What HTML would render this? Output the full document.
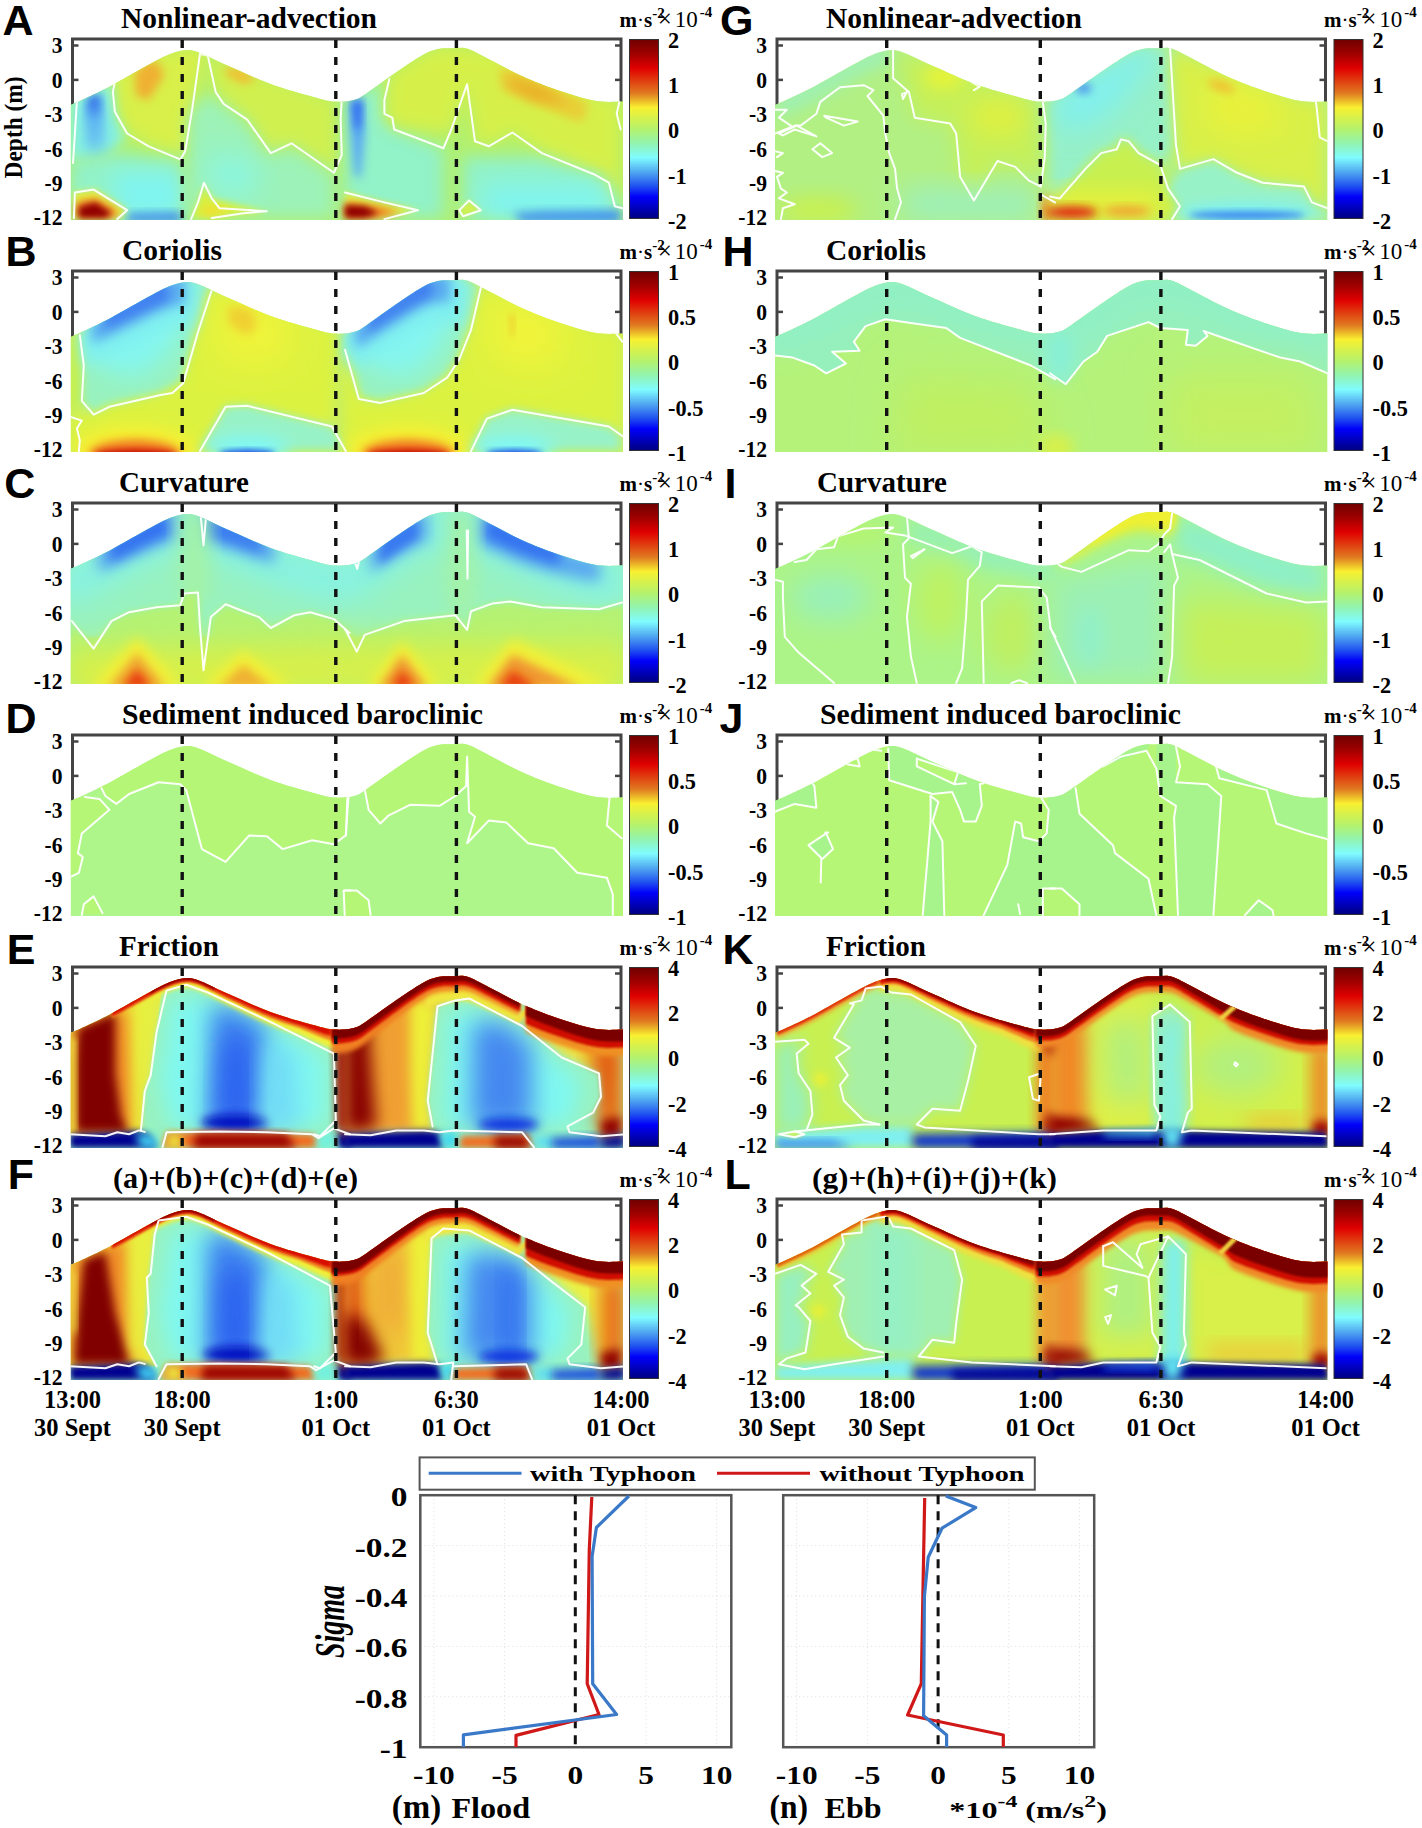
<!DOCTYPE html><html><head><meta charset="utf-8"><style>html,body{margin:0;padding:0;background:#fff;overflow:hidden}svg{display:block}</style></head><body>
<svg width="1422" height="1828" viewBox="0 0 1422 1828">
<defs>
<linearGradient id="jet" x1="0" y1="0" x2="0" y2="1"><stop offset="0.000" stop-color="#700000"/><stop offset="0.080" stop-color="#a00000"/><stop offset="0.160" stop-color="#e00000"/><stop offset="0.300" stop-color="#e07a20"/><stop offset="0.380" stop-color="#f8f030"/><stop offset="0.500" stop-color="#b4f26a"/><stop offset="0.580" stop-color="#92f4b0"/><stop offset="0.660" stop-color="#80fcff"/><stop offset="0.740" stop-color="#50a8f0"/><stop offset="0.820" stop-color="#2050f0"/><stop offset="0.880" stop-color="#0000fa"/><stop offset="1.000" stop-color="#000080"/></linearGradient>
<clipPath id="wave"><path d="M-2.0,66.0 C1.5,64.4 12.0,59.8 19.0,56.5 C26.0,53.2 31.2,50.8 40.0,46.0 C48.8,41.2 63.2,32.8 72.0,28.0 C80.8,23.2 86.7,19.8 93.0,17.0 C99.3,14.2 104.7,12.2 110.0,11.5 C115.3,10.8 117.3,10.4 125.0,13.0 C132.7,15.6 143.8,21.7 156.0,27.0 C168.2,32.3 183.8,39.8 198.0,45.0 C212.2,50.2 230.3,55.1 241.0,58.0 C251.7,60.9 255.0,62.2 262.0,62.6 C269.0,63.0 276.7,62.6 283.0,60.5 C289.3,58.4 292.7,54.9 300.0,50.0 C307.3,45.1 318.3,36.8 327.0,31.0 C335.7,25.2 345.3,18.5 352.0,15.0 C358.7,11.5 362.2,10.8 367.0,9.8 C371.8,8.9 376.3,9.3 381.0,9.3 C385.7,9.3 389.2,8.0 395.0,9.8 C400.8,11.6 407.3,15.6 416.0,20.0 C424.7,24.4 436.5,31.2 447.0,36.0 C457.5,40.8 466.7,44.7 479.0,49.0 C491.3,53.3 509.1,59.3 521.0,61.6 C532.9,63.9 545.6,62.4 550.5,62.6 L550.5,181.0 L-2,181.0 Z"/></clipPath>
<filter id="b1" x="-50%" y="-50%" width="200%" height="200%"><feGaussianBlur stdDeviation="1"/></filter>
<filter id="b2" x="-50%" y="-50%" width="200%" height="200%"><feGaussianBlur stdDeviation="2"/></filter>
<filter id="b3" x="-50%" y="-50%" width="200%" height="200%"><feGaussianBlur stdDeviation="3"/></filter>
<filter id="b4" x="-50%" y="-50%" width="200%" height="200%"><feGaussianBlur stdDeviation="4"/></filter>
<filter id="b5" x="-50%" y="-50%" width="200%" height="200%"><feGaussianBlur stdDeviation="5"/></filter>
<filter id="b6" x="-50%" y="-50%" width="200%" height="200%"><feGaussianBlur stdDeviation="6"/></filter>
<filter id="b7" x="-50%" y="-50%" width="200%" height="200%"><feGaussianBlur stdDeviation="7"/></filter>
<filter id="b8" x="-50%" y="-50%" width="200%" height="200%"><feGaussianBlur stdDeviation="8"/></filter>
<filter id="b9" x="-50%" y="-50%" width="200%" height="200%"><feGaussianBlur stdDeviation="9"/></filter>
<filter id="b10" x="-50%" y="-50%" width="200%" height="200%"><feGaussianBlur stdDeviation="10"/></filter>
<filter id="b11" x="-50%" y="-50%" width="200%" height="200%"><feGaussianBlur stdDeviation="11"/></filter>
<filter id="b12" x="-50%" y="-50%" width="200%" height="200%"><feGaussianBlur stdDeviation="12"/></filter>
<filter id="b13" x="-50%" y="-50%" width="200%" height="200%"><feGaussianBlur stdDeviation="13"/></filter>
<filter id="b14" x="-50%" y="-50%" width="200%" height="200%"><feGaussianBlur stdDeviation="14"/></filter>
<filter id="b15" x="-50%" y="-50%" width="200%" height="200%"><feGaussianBlur stdDeviation="15"/></filter>
<filter id="b16" x="-50%" y="-50%" width="200%" height="200%"><feGaussianBlur stdDeviation="16"/></filter>
<filter id="b17" x="-50%" y="-50%" width="200%" height="200%"><feGaussianBlur stdDeviation="17"/></filter>
<filter id="b18" x="-50%" y="-50%" width="200%" height="200%"><feGaussianBlur stdDeviation="18"/></filter>
<filter id="b19" x="-50%" y="-50%" width="200%" height="200%"><feGaussianBlur stdDeviation="19"/></filter>
<filter id="b20" x="-50%" y="-50%" width="200%" height="200%"><feGaussianBlur stdDeviation="20"/></filter>
</defs>
<rect width="1422" height="1828" fill="#fff"/>
<g transform="translate(72.5,39.0)">
<path d="M0,180.5 L0,0 L548.5,0 L548.5,180.5" fill="none" stroke="#444" stroke-width="3"/>
<line x1="0" y1="6.5" x2="6" y2="6.5" stroke="#444" stroke-width="2.5"/>
<line x1="542.5" y1="6.5" x2="548.5" y2="6.5" stroke="#444" stroke-width="2.5"/>
<line x1="0" y1="40.9" x2="6" y2="40.9" stroke="#444" stroke-width="2.5"/>
<line x1="542.5" y1="40.9" x2="548.5" y2="40.9" stroke="#444" stroke-width="2.5"/>
<line x1="0" y1="75.3" x2="6" y2="75.3" stroke="#444" stroke-width="2.5"/>
<line x1="542.5" y1="75.3" x2="548.5" y2="75.3" stroke="#444" stroke-width="2.5"/>
<line x1="0" y1="109.7" x2="6" y2="109.7" stroke="#444" stroke-width="2.5"/>
<line x1="542.5" y1="109.7" x2="548.5" y2="109.7" stroke="#444" stroke-width="2.5"/>
<line x1="0" y1="144.1" x2="6" y2="144.1" stroke="#444" stroke-width="2.5"/>
<line x1="542.5" y1="144.1" x2="548.5" y2="144.1" stroke="#444" stroke-width="2.5"/>
<line x1="0" y1="178.5" x2="6" y2="178.5" stroke="#444" stroke-width="2.5"/>
<line x1="542.5" y1="178.5" x2="548.5" y2="178.5" stroke="#444" stroke-width="2.5"/>
<g clip-path="url(#wave)">
<rect x="-2" y="-1" width="552.5" height="182.0" fill="#b0f070"/>
<g transform="translate(-72.5,-39.0)">
<polygon points="113.3,64.5 180.3,46.8 207.8,46.8 196.0,94.1 188.1,157.1 148.8,145.3 125.1,131.5 113.3,100.0" fill="#d8f048" filter="url(#b8)"/>
<polygon points="207.8,54.7 266.9,74.4 335.8,100.0 337.8,172.8 290.5,145.3 268.9,153.1 247.2,119.7 221.6,101.9 211.8,84.2" fill="#d0f050" filter="url(#b8)"/>
<polygon points="135.0,70.4 154.7,58.6 164.5,74.4 148.8,100.0 136.0,96.0" fill="#f0b030" filter="url(#b5)"/>
<polygon points="225.6,66.5 243.3,69.5 257.1,79.3 243.3,84.2 226.5,75.4" fill="#f0c030" filter="url(#b4)"/>
<polygon points="70.0,100.0 111.4,82.3 115.3,117.7 125.1,137.4 109.4,153.1 70.0,161.0" fill="#88f4e0" filter="url(#b6)"/>
<polygon points="87.7,100.0 100.5,94.1 99.5,117.7 95.6,145.3 92.6,145.3 89.7,119.7" fill="#4a90f0" filter="url(#b6)"/>
<polygon points="88.7,100.0 99.5,95.1 97.6,113.8 93.6,117.7 90.7,113.8" fill="#1a48e0" filter="url(#b4)"/>
<polygon points="83.8,101.9 103.5,100.0 105.4,145.3 97.6,161.0 87.7,153.1" fill="#60b8f8" fill-opacity="0.70" filter="url(#b8)"/>
<polygon points="70.0,161.0 119.2,153.1 180.3,161.0 184.2,218.1 70.0,218.1" fill="#92f2c8" filter="url(#b8)"/>
<polygon points="109.4,172.8 180.3,172.8 180.3,218.1 125.1,218.1" fill="#80f4f0" filter="url(#b10)"/>
<polygon points="129.1,213.2 180.3,212.2 184.2,222.1 125.1,222.1" fill="#3c8cf0" filter="url(#b5)"/>
<polygon points="188.1,113.8 207.8,94.1 247.2,123.6 266.9,157.1 290.5,147.2 333.9,174.8 333.9,218.1 188.1,218.1" fill="#9cf2b8" filter="url(#b8)"/>
<polygon points="207.8,153.1 257.1,163.0 257.1,192.5 211.8,192.5" fill="#88f6e8" filter="url(#b15)"/>
<polygon points="73.9,192.5 95.6,189.6 127.1,210.2 119.2,218.1 73.9,218.1" fill="#e6f040" filter="url(#b3)"/>
<polygon points="75.9,202.4 95.6,198.4 119.2,212.2 113.3,218.1 75.9,218.1" fill="#f07020" filter="url(#b4)"/>
<polygon points="78.9,207.3 95.6,202.4 111.4,213.2 105.4,218.1 78.9,218.1" fill="#900000" filter="url(#b3)"/>
<polygon points="192.1,218.1 203.9,184.6 211.8,198.4 266.9,212.2 207.8,218.1" fill="#d8f040" filter="url(#b3)"/>
<polygon points="200.0,212.2 207.8,204.3 231.5,212.2 207.8,217.1" fill="#f0e030" filter="url(#b4)"/>
<polygon points="345.0,100.0 384.4,82.3 384.4,117.7 392.3,127.5 443.5,149.2 443.5,218.1 345.0,218.1" fill="#92f2c8" filter="url(#b8)"/>
<polygon points="348.9,100.0 362.7,98.0 364.7,133.5 360.8,176.8 354.8,176.8 350.9,133.5" fill="#58a8f4" filter="url(#b5)"/>
<polygon points="352.9,101.9 361.7,100.0 360.8,123.6 357.8,133.5 354.8,123.6" fill="#2a60f0" filter="url(#b4)"/>
<polygon points="388.3,74.4 433.6,46.8 467.1,46.8 522.2,58.6 601.0,96.0 620.7,98.0 620.7,208.3 608.9,184.6 595.1,172.8 541.9,153.1 512.4,131.5 488.7,145.3 475.0,141.3 467.1,84.2 451.3,133.5 392.3,125.6 384.4,113.8" fill="#d6f048" filter="url(#b8)"/>
<polygon points="498.6,68.5 518.3,70.4 587.2,101.9 585.2,119.7 577.3,121.6 502.5,90.1" fill="#e8d038" filter="url(#b5)"/>
<polygon points="508.4,76.4 541.9,86.2 571.4,105.9 532.1,100.0 508.4,86.2" fill="#eab028" filter="url(#b6)"/>
<polygon points="463.1,157.1 541.9,157.1 601.0,176.8 620.7,212.2 620.7,218.1 463.1,218.1" fill="#92f2c8" filter="url(#b8)"/>
<polygon points="482.8,184.6 601.0,184.6 616.7,218.1 482.8,218.1" fill="#80f4f0" filter="url(#b12)"/>
<polygon points="512.4,213.2 541.9,211.2 620.7,210.2 620.7,222.1 522.2,222.1" fill="#4090f0" filter="url(#b5)"/>
<polygon points="345.0,192.5 384.4,202.4 417.9,210.2 384.4,218.1 345.0,218.1" fill="#e4f040" filter="url(#b3)"/>
<polygon points="345.0,202.4 374.5,206.3 402.1,212.2 374.5,218.1 345.0,218.1" fill="#f07020" filter="url(#b4)"/>
<polygon points="345.0,205.3 364.7,206.3 378.5,213.2 364.7,218.1 345.0,218.1" fill="#900000" filter="url(#b3)"/>
<polygon points="459.2,210.2 469.1,200.4 480.9,210.2 463.1,216.2" fill="#d0f050" filter="url(#b2)"/>
<path d="M115.7,77.3 L112.9,92.1 L114.9,111.8 L127.1,133.5 L148.8,146.3 L180.3,159.4 L185.2,151.2 L192.1,109.8 L200.0,53.7 L207.8,55.7 L215.7,92.1 L223.6,103.9 L247.2,119.7 L270.8,153.1 L291.5,143.3 L333.9,172.8 L341.7,155.1 L340.7,117.7 L341.7,100.0" fill="none" stroke="#fff" stroke-width="2.0" stroke-linejoin="round" stroke-linecap="round" stroke-opacity="0.95"/>
<path d="M73.9,218.1 L74.9,192.5 L93.6,189.6 L127.1,210.2 L117.3,219.1" fill="none" stroke="#fff" stroke-width="2.0" stroke-linejoin="round" stroke-linecap="round" stroke-opacity="0.95"/>
<path d="M191.1,219.1 L198.0,202.4 L203.9,182.7 L211.8,198.4 L219.6,208.3 L266.9,211.2 L243.3,213.2 L211.8,218.1" fill="none" stroke="#fff" stroke-width="2.0" stroke-linejoin="round" stroke-linecap="round" stroke-opacity="0.95"/>
<path d="M76.9,101.0 L74.9,133.5 L73.0,163.0" fill="none" stroke="#fff" stroke-width="2.0" stroke-linejoin="round" stroke-linecap="round" stroke-opacity="0.95"/>
<path d="M389.3,79.3 L384.4,100.0 L384.4,113.8 L392.3,117.7 L394.2,129.5 L443.5,148.2 L451.3,129.5 L467.1,84.2 L475.0,141.3 L488.7,146.3 L512.4,132.5 L541.9,153.1 L595.1,174.8 L608.9,182.7 L614.8,206.3 L622.6,208.3" fill="none" stroke="#fff" stroke-width="2.0" stroke-linejoin="round" stroke-linecap="round" stroke-opacity="0.95"/>
<path d="M619.7,100.0 L616.7,113.8 L620.7,129.5" fill="none" stroke="#fff" stroke-width="2.0" stroke-linejoin="round" stroke-linecap="round" stroke-opacity="0.95"/>
<path d="M345.0,192.5 L384.4,202.4 L417.9,210.2 L384.4,219.1" fill="none" stroke="#fff" stroke-width="2.0" stroke-linejoin="round" stroke-linecap="round" stroke-opacity="0.95"/>
<path d="M459.2,210.2 L469.1,200.4 L480.9,210.2 L463.1,216.2 L459.2,210.2" fill="none" stroke="#fff" stroke-width="2.0" stroke-linejoin="round" stroke-linecap="round" stroke-opacity="0.95"/>
</g>
</g>
<line x1="109.7" y1="1" x2="109.7" y2="180.5" stroke="#111" stroke-width="3.4" stroke-dasharray="8,9"/>
<line x1="263.3" y1="1" x2="263.3" y2="180.5" stroke="#111" stroke-width="3.4" stroke-dasharray="8,9"/>
<line x1="383.9" y1="1" x2="383.9" y2="180.5" stroke="#111" stroke-width="3.4" stroke-dasharray="8,9"/>
<text transform="translate(-10.0,14.3) scale(0.920,1)" font-family='"Liberation Serif", serif' font-size="23.5" font-weight="bold" text-anchor="end" >3</text>
<text transform="translate(-10.0,48.7) scale(0.920,1)" font-family='"Liberation Serif", serif' font-size="23.5" font-weight="bold" text-anchor="end" >0</text>
<text transform="translate(-10.0,83.1) scale(0.920,1)" font-family='"Liberation Serif", serif' font-size="23.5" font-weight="bold" text-anchor="end" >-3</text>
<text transform="translate(-10.0,117.5) scale(0.920,1)" font-family='"Liberation Serif", serif' font-size="23.5" font-weight="bold" text-anchor="end" >-6</text>
<text transform="translate(-10.0,151.9) scale(0.920,1)" font-family='"Liberation Serif", serif' font-size="23.5" font-weight="bold" text-anchor="end" >-9</text>
<text transform="translate(-10.0,186.3) scale(0.920,1)" font-family='"Liberation Serif", serif' font-size="23.5" font-weight="bold" text-anchor="end" >-12</text>
<rect x="557.0" y="0.5" width="29" height="179" fill="url(#jet)" stroke="#333" stroke-width="1"/>
<text transform="translate(595.5,9.0) scale(0.950,1)" font-family='"Liberation Serif", serif' font-size="23.5" font-weight="bold" text-anchor="start" >2</text>
<text transform="translate(595.5,54.2) scale(0.950,1)" font-family='"Liberation Serif", serif' font-size="23.5" font-weight="bold" text-anchor="start" >1</text>
<text transform="translate(595.5,99.4) scale(0.950,1)" font-family='"Liberation Serif", serif' font-size="23.5" font-weight="bold" text-anchor="start" >0</text>
<text transform="translate(595.5,144.6) scale(0.950,1)" font-family='"Liberation Serif", serif' font-size="23.5" font-weight="bold" text-anchor="start" >-1</text>
<text transform="translate(595.5,189.8) scale(0.950,1)" font-family='"Liberation Serif", serif' font-size="23.5" font-weight="bold" text-anchor="start" >-2</text>
<text x="547.0" y="-12" font-family='"Liberation Serif", serif' font-size="21" font-weight="bold">m<tspan font-weight="normal">&#183;</tspan>s<tspan dy="-9" font-size="15">-2</tspan><tspan dy="9" dx="-7" font-weight="normal" font-size="25">&#215;</tspan><tspan dx="3" font-size="23" font-weight="normal">10</tspan><tspan dy="-10" dx="2" font-size="15" font-weight="bold">-4</tspan></text>
<text x="-70.0" y="-4.0" font-family='"Liberation Sans", sans-serif' font-size="43" font-weight="bold">A</text>
<text x="48.5" y="-11.2" font-family='"Liberation Serif", serif' font-size="29" font-weight="bold" textLength="256.0" lengthAdjust="spacingAndGlyphs">Nonlinear-advection</text>
</g>
<g transform="translate(72.5,271.0)">
<path d="M0,180.5 L0,0 L548.5,0 L548.5,180.5" fill="none" stroke="#444" stroke-width="3"/>
<line x1="0" y1="6.5" x2="6" y2="6.5" stroke="#444" stroke-width="2.5"/>
<line x1="542.5" y1="6.5" x2="548.5" y2="6.5" stroke="#444" stroke-width="2.5"/>
<line x1="0" y1="40.9" x2="6" y2="40.9" stroke="#444" stroke-width="2.5"/>
<line x1="542.5" y1="40.9" x2="548.5" y2="40.9" stroke="#444" stroke-width="2.5"/>
<line x1="0" y1="75.3" x2="6" y2="75.3" stroke="#444" stroke-width="2.5"/>
<line x1="542.5" y1="75.3" x2="548.5" y2="75.3" stroke="#444" stroke-width="2.5"/>
<line x1="0" y1="109.7" x2="6" y2="109.7" stroke="#444" stroke-width="2.5"/>
<line x1="542.5" y1="109.7" x2="548.5" y2="109.7" stroke="#444" stroke-width="2.5"/>
<line x1="0" y1="144.1" x2="6" y2="144.1" stroke="#444" stroke-width="2.5"/>
<line x1="542.5" y1="144.1" x2="548.5" y2="144.1" stroke="#444" stroke-width="2.5"/>
<line x1="0" y1="178.5" x2="6" y2="178.5" stroke="#444" stroke-width="2.5"/>
<line x1="542.5" y1="178.5" x2="548.5" y2="178.5" stroke="#444" stroke-width="2.5"/>
<g clip-path="url(#wave)">
<rect x="-2" y="-1" width="552.5" height="182.0" fill="#c8f060"/>
<g transform="translate(-72.5,-271.0)">
<polygon points="70.0,333.9 79.8,333.9 82.8,365.5 81.8,400.9 70.0,416.6" fill="#c4f050" filter="url(#b4)"/>
<polygon points="79.8,333.9 180.3,278.8 209.8,286.7 198.0,332.0 183.2,383.2 160.6,395.0 109.4,406.8 93.6,414.7 81.8,400.9 82.8,365.5" fill="#98f2c0" filter="url(#b4)"/>
<polygon points="85.8,330.0 180.3,280.8 196.0,290.6 172.4,349.7 138.9,377.3 105.4,369.4 89.7,355.6" fill="#84f6f0" filter="url(#b12)"/>
<polygon points="85.0,324.5 88.2,323.0 91.5,321.5 94.8,320.0 98.0,318.4 101.2,316.8 104.5,315.2 107.8,313.5 111.0,311.8 114.2,310.0 117.5,308.3 120.8,306.4 124.0,304.6 127.2,302.7 130.5,300.9 133.8,299.0 137.0,297.2 140.2,295.4 143.5,293.6 146.8,291.8 150.0,290.0 153.2,288.2 156.5,286.4 159.8,284.7 163.0,283.1 166.2,281.7 169.5,280.3 172.8,279.0 176.0,277.9 179.2,277.1 182.5,276.5 185.8,276.1 189.0,276.0 192.2,276.5 195.5,277.4 198.8,278.5 202.0,279.7 205.2,281.1 208.5,282.6 211.8,284.2 215.0,285.7 215.0,335.7 211.8,333.9 208.5,332.1 205.2,330.4 202.0,328.7 198.8,327.2 195.5,325.9 192.2,324.7 189.0,324.0 185.8,323.9 182.5,324.0 179.2,324.3 176.0,324.9 172.8,325.8 169.5,326.8 166.2,327.9 163.0,329.1 159.8,330.5 156.5,331.9 153.2,333.4 150.0,335.0 146.8,336.5 143.5,338.1 140.2,339.6 137.0,341.2 133.8,342.8 130.5,344.4 127.2,346.0 124.0,347.6 120.8,349.2 117.5,350.8 114.2,352.3 111.0,353.8 107.8,355.3 104.5,356.7 101.2,358.1 98.0,359.4 94.8,360.7 91.5,362.0 88.2,363.3 85.0,364.5" fill="#80f0f0" filter="url(#b8)"/>
<polygon points="92.0,321.3 94.3,320.2 96.7,319.0 99.0,317.9 101.3,316.8 103.6,315.6 106.0,314.4 108.3,313.2 110.6,312.0 112.9,310.8 115.2,309.5 117.6,308.2 119.9,306.9 122.2,305.6 124.5,304.3 126.9,303.0 129.2,301.6 131.5,300.3 133.8,299.0 136.2,297.7 138.5,296.3 140.8,295.0 143.2,293.7 145.5,292.5 147.8,291.2 150.1,289.9 152.4,288.6 154.8,287.3 157.1,286.1 159.4,284.9 161.8,283.7 164.1,282.6 166.4,281.6 168.7,280.6 171.1,279.7 173.4,278.8 175.7,278.0 178.0,277.4 180.3,276.8 182.7,276.5 185.0,276.2 185.0,304.2 182.7,304.3 180.3,304.5 178.0,304.9 175.7,305.4 173.4,306.1 171.1,306.8 168.7,307.6 166.4,308.4 164.1,309.3 161.8,310.2 159.4,311.2 157.1,312.3 154.8,313.4 152.4,314.5 150.1,315.7 147.8,316.8 145.5,317.9 143.2,319.0 140.8,320.2 138.5,321.3 136.2,322.5 133.8,323.7 131.5,324.9 129.2,326.0 126.9,327.2 124.5,328.4 122.2,329.5 119.9,330.7 117.6,331.9 115.2,333.0 112.9,334.1 110.6,335.2 108.3,336.3 106.0,337.3 103.6,338.4 101.3,339.4 99.0,340.4 96.7,341.3 94.3,342.3 92.0,343.3" fill="#58a8f0" filter="url(#b6)"/>
<polygon points="105.0,314.9 106.6,314.1 108.2,313.3 109.7,312.5 111.3,311.6 112.9,310.8 114.5,309.9 116.0,309.1 117.6,308.2 119.2,307.3 120.8,306.4 122.3,305.5 123.9,304.6 125.5,303.8 127.0,302.9 128.6,302.0 130.2,301.1 131.8,300.2 133.3,299.3 134.9,298.4 136.5,297.5 138.1,296.6 139.7,295.7 141.2,294.8 142.8,293.9 144.4,293.1 145.9,292.2 147.5,291.3 149.1,290.5 150.7,289.6 152.2,288.7 153.8,287.9 155.4,287.0 157.0,286.2 158.6,285.3 160.1,284.5 161.7,283.8 163.3,283.0 164.8,282.3 166.4,281.6 168.0,280.9 168.0,300.9 166.4,301.5 164.8,302.0 163.3,302.6 161.7,303.2 160.1,303.8 158.6,304.4 157.0,305.1 155.4,305.8 153.8,306.5 152.2,307.2 150.7,307.9 149.1,308.7 147.5,309.4 145.9,310.1 144.4,310.8 142.8,311.5 141.2,312.3 139.7,313.0 138.1,313.7 136.5,314.5 134.9,315.2 133.3,316.0 131.8,316.7 130.2,317.5 128.6,318.2 127.0,319.0 125.5,319.7 123.9,320.4 122.3,321.2 120.8,321.9 119.2,322.7 117.6,323.4 116.0,324.1 114.5,324.8 112.9,325.5 111.3,326.2 109.7,326.9 108.2,327.6 106.6,328.3 105.0,328.9" fill="#4080f0" filter="url(#b5)"/>
<polygon points="207.8,286.7 337.8,332.0 331.9,426.5 247.2,405.8 225.6,406.8 200.0,450.1 70.0,450.1 70.0,416.6 93.6,414.7 109.4,406.8 160.6,395.0 183.2,383.2 198.0,332.0" fill="#dcf240" filter="url(#b6)"/>
<polygon points="219.6,296.5 286.6,310.3 286.6,361.5 223.6,361.5" fill="#f4f438" filter="url(#b20)"/>
<polygon points="227.5,306.4 251.2,308.4 257.1,326.1 247.2,335.9 229.5,324.1" fill="#f0d030" filter="url(#b5)"/>
<ellipse cx="135.0" cy="452.1" rx="62.0" ry="26.0" fill="#f8f030" filter="url(#b8)"/>
<ellipse cx="135.0" cy="454.1" rx="46.0" ry="14.0" fill="#f07020" filter="url(#b5)"/>
<ellipse cx="135.0" cy="455.0" rx="40.0" ry="5.0" fill="#c00000" filter="url(#b3)"/>
<polygon points="200.0,450.1 225.6,406.8 247.2,405.8 331.9,426.5 345.7,450.1" fill="#98f2c8" filter="url(#b4)"/>
<ellipse cx="249.2" cy="450.1" rx="40.0" ry="14.0" fill="#80f8f8" filter="url(#b8)"/>
<ellipse cx="247.2" cy="454.1" rx="28.0" ry="4.0" fill="#1030e0" filter="url(#b3)"/>
<polygon points="345.0,332.0 356.8,330.0 443.5,278.8 480.9,286.7 471.0,330.0 459.2,359.5 447.4,377.3 423.8,393.0 380.4,402.9 358.8,398.9 345.0,349.7" fill="#98f2c0" filter="url(#b4)"/>
<polygon points="356.8,330.0 443.5,280.8 463.1,288.7 439.5,349.7 408.0,377.3 374.5,369.4 356.8,349.7" fill="#84f6f0" filter="url(#b12)"/>
<polygon points="345.0,327.5 348.1,327.2 351.2,326.6 354.4,325.8 357.5,324.7 360.6,323.2 363.8,321.2 366.9,319.0 370.0,316.7 373.1,314.6 376.2,312.4 379.4,310.2 382.5,308.0 385.6,305.8 388.8,303.5 391.9,301.3 395.0,299.1 398.1,296.9 401.2,294.8 404.4,292.7 407.5,290.6 410.6,288.5 413.8,286.5 416.9,284.5 420.0,282.6 423.1,280.8 426.2,279.1 429.4,277.7 432.5,276.5 435.6,275.6 438.8,274.9 441.9,274.4 445.0,274.2 448.1,274.2 451.2,274.3 454.4,274.3 457.5,274.1 460.6,273.9 463.8,274.0 466.9,274.6 470.0,275.7 470.0,325.7 466.9,324.4 463.8,323.5 460.6,323.1 457.5,323.1 454.4,323.0 451.2,322.8 448.1,322.5 445.0,322.2 441.9,322.2 438.8,322.4 435.6,322.9 432.5,323.5 429.4,324.4 426.2,325.6 423.1,327.0 420.0,328.6 416.9,330.2 413.8,332.0 410.6,333.8 407.5,335.6 404.4,337.5 401.2,339.3 398.1,341.2 395.0,343.1 391.9,345.0 388.8,347.0 385.6,349.0 382.5,351.0 379.4,353.0 376.2,354.9 373.1,356.8 370.0,358.7 366.9,360.7 363.8,362.7 360.6,364.4 357.5,365.7 354.4,366.6 351.2,367.1 348.1,367.4 345.0,367.5" fill="#80f0f0" filter="url(#b8)"/>
<polygon points="355.0,325.7 357.4,324.8 359.8,323.7 362.1,322.3 364.5,320.7 366.9,319.0 369.2,317.3 371.6,315.6 374.0,314.0 376.4,312.3 378.8,310.7 381.1,309.0 383.5,307.3 385.9,305.6 388.2,303.9 390.6,302.2 393.0,300.5 395.4,298.8 397.8,297.2 400.1,295.6 402.5,294.0 404.9,292.4 407.2,290.8 409.6,289.2 412.0,287.6 414.4,286.1 416.8,284.6 419.1,283.1 421.5,281.7 423.9,280.3 426.2,279.1 428.6,278.0 431.0,277.0 433.4,276.2 435.8,275.6 438.1,275.1 440.5,274.6 442.9,274.3 445.2,274.2 447.6,274.2 450.0,274.2 450.0,302.2 447.6,302.0 445.2,301.9 442.9,301.9 440.5,302.0 438.1,302.3 435.8,302.7 433.4,303.2 431.0,303.8 428.6,304.6 426.2,305.6 423.9,306.7 421.5,307.9 419.1,309.1 416.8,310.5 414.4,311.8 412.0,313.2 409.6,314.6 407.2,316.1 404.9,317.5 402.5,319.0 400.1,320.4 397.8,321.9 395.4,323.4 393.0,324.9 390.6,326.4 388.2,328.0 385.9,329.5 383.5,331.1 381.1,332.6 378.8,334.2 376.4,335.7 374.0,337.2 371.6,338.6 369.2,340.2 366.9,341.7 364.5,343.3 362.1,344.7 359.8,346.0 357.4,346.9 355.0,347.7" fill="#58a8f0" filter="url(#b6)"/>
<polygon points="368.0,318.2 369.6,317.0 371.2,315.9 372.8,314.8 374.4,313.7 376.0,312.6 377.6,311.5 379.2,310.3 380.8,309.2 382.4,308.1 384.0,306.9 385.6,305.8 387.2,304.6 388.8,303.5 390.4,302.3 392.0,301.2 393.6,300.1 395.2,299.0 396.8,297.8 398.4,296.7 400.0,295.7 401.6,294.6 403.2,293.5 404.8,292.4 406.4,291.4 408.0,290.3 409.6,289.2 411.2,288.2 412.8,287.1 414.4,286.1 416.0,285.0 417.6,284.0 419.2,283.1 420.8,282.1 422.4,281.2 424.0,280.3 425.6,279.4 427.2,278.6 428.8,277.9 430.4,277.2 432.0,276.7 432.0,296.7 430.4,297.1 428.8,297.6 427.2,298.2 425.6,298.8 424.0,299.5 422.4,300.3 420.8,301.0 419.2,301.9 417.6,302.7 416.0,303.5 414.4,304.4 412.8,305.3 411.2,306.2 409.6,307.1 408.0,308.0 406.4,309.0 404.8,309.9 403.2,310.8 401.6,311.7 400.0,312.7 398.4,313.6 396.8,314.5 395.2,315.5 393.6,316.5 392.0,317.5 390.4,318.4 388.8,319.4 387.2,320.4 385.6,321.4 384.0,322.4 382.4,323.4 380.8,324.4 379.2,325.4 377.6,326.4 376.0,327.3 374.4,328.3 372.8,329.2 371.2,330.2 369.6,331.2 368.0,332.2" fill="#4080f0" filter="url(#b5)"/>
<polygon points="480.9,286.7 601.0,332.0 620.7,332.0 620.7,436.3 608.9,426.5 512.4,409.8 486.8,418.6 471.0,450.1 345.0,450.1 345.0,349.7 358.8,398.9 380.4,402.9 423.8,393.0 447.4,377.3 459.2,359.5 471.0,330.0" fill="#dcf240" filter="url(#b6)"/>
<polygon points="492.7,296.5 561.6,316.2 561.6,365.5 494.6,361.5" fill="#f4f438" filter="url(#b20)"/>
<polygon points="509.4,314.3 514.3,314.3 514.3,335.9 510.4,335.9" fill="#f0d030" filter="url(#b3)"/>
<ellipse cx="408.0" cy="452.1" rx="62.0" ry="26.0" fill="#f8f030" filter="url(#b8)"/>
<ellipse cx="408.0" cy="454.1" rx="46.0" ry="14.0" fill="#f07020" filter="url(#b5)"/>
<ellipse cx="408.0" cy="455.0" rx="40.0" ry="5.0" fill="#c00000" filter="url(#b3)"/>
<polygon points="471.0,450.1 486.8,418.6 512.4,409.8 608.9,426.5 620.7,436.3 620.7,450.1" fill="#98f2c8" filter="url(#b4)"/>
<ellipse cx="514.3" cy="450.1" rx="40.0" ry="14.0" fill="#80f8f8" filter="url(#b8)"/>
<ellipse cx="514.3" cy="454.1" rx="28.0" ry="4.0" fill="#1030e0" filter="url(#b3)"/>
<path d="M79.8,334.9 L83.8,365.5 L81.8,400.9 L93.6,414.7 L109.4,406.8 L160.6,395.0 L172.4,393.0 L183.2,383.2 L198.0,332.0 L212.2,288.7" fill="none" stroke="#fff" stroke-width="2.0" stroke-linejoin="round" stroke-linecap="round" stroke-opacity="0.95"/>
<path d="M70.0,416.6 L81.8,420.6 L76.9,428.5 L79.8,440.3 L78.9,451.1" fill="none" stroke="#fff" stroke-width="2.0" stroke-linejoin="round" stroke-linecap="round" stroke-opacity="0.95"/>
<path d="M200.0,451.1 L225.6,406.8 L247.2,405.8 L331.9,426.5 L345.7,451.1" fill="none" stroke="#fff" stroke-width="2.0" stroke-linejoin="round" stroke-linecap="round" stroke-opacity="0.95"/>
<path d="M345.0,349.7 L358.8,398.9 L380.4,402.9 L423.8,393.0 L447.4,377.3 L459.2,359.5 L471.0,330.0 L481.3,285.7" fill="none" stroke="#fff" stroke-width="2.0" stroke-linejoin="round" stroke-linecap="round" stroke-opacity="0.95"/>
<path d="M471.0,451.1 L486.8,418.6 L512.4,409.8 L608.9,426.5 L622.6,436.3" fill="none" stroke="#fff" stroke-width="2.0" stroke-linejoin="round" stroke-linecap="round" stroke-opacity="0.95"/>
<path d="M614.8,332.0 L622.6,341.8" fill="none" stroke="#fff" stroke-width="2.0" stroke-linejoin="round" stroke-linecap="round" stroke-opacity="0.95"/>
</g>
</g>
<line x1="109.7" y1="1" x2="109.7" y2="180.5" stroke="#111" stroke-width="3.4" stroke-dasharray="8,9"/>
<line x1="263.3" y1="1" x2="263.3" y2="180.5" stroke="#111" stroke-width="3.4" stroke-dasharray="8,9"/>
<line x1="383.9" y1="1" x2="383.9" y2="180.5" stroke="#111" stroke-width="3.4" stroke-dasharray="8,9"/>
<text transform="translate(-10.0,14.3) scale(0.920,1)" font-family='"Liberation Serif", serif' font-size="23.5" font-weight="bold" text-anchor="end" >3</text>
<text transform="translate(-10.0,48.7) scale(0.920,1)" font-family='"Liberation Serif", serif' font-size="23.5" font-weight="bold" text-anchor="end" >0</text>
<text transform="translate(-10.0,83.1) scale(0.920,1)" font-family='"Liberation Serif", serif' font-size="23.5" font-weight="bold" text-anchor="end" >-3</text>
<text transform="translate(-10.0,117.5) scale(0.920,1)" font-family='"Liberation Serif", serif' font-size="23.5" font-weight="bold" text-anchor="end" >-6</text>
<text transform="translate(-10.0,151.9) scale(0.920,1)" font-family='"Liberation Serif", serif' font-size="23.5" font-weight="bold" text-anchor="end" >-9</text>
<text transform="translate(-10.0,186.3) scale(0.920,1)" font-family='"Liberation Serif", serif' font-size="23.5" font-weight="bold" text-anchor="end" >-12</text>
<rect x="557.0" y="0.5" width="29" height="179" fill="url(#jet)" stroke="#333" stroke-width="1"/>
<text transform="translate(595.5,9.0) scale(0.950,1)" font-family='"Liberation Serif", serif' font-size="23.5" font-weight="bold" text-anchor="start" >1</text>
<text transform="translate(595.5,54.2) scale(0.950,1)" font-family='"Liberation Serif", serif' font-size="23.5" font-weight="bold" text-anchor="start" >0.5</text>
<text transform="translate(595.5,99.4) scale(0.950,1)" font-family='"Liberation Serif", serif' font-size="23.5" font-weight="bold" text-anchor="start" >0</text>
<text transform="translate(595.5,144.6) scale(0.950,1)" font-family='"Liberation Serif", serif' font-size="23.5" font-weight="bold" text-anchor="start" >-0.5</text>
<text transform="translate(595.5,189.8) scale(0.950,1)" font-family='"Liberation Serif", serif' font-size="23.5" font-weight="bold" text-anchor="start" >-1</text>
<text x="547.0" y="-12" font-family='"Liberation Serif", serif' font-size="21" font-weight="bold">m<tspan font-weight="normal">&#183;</tspan>s<tspan dy="-9" font-size="15">-2</tspan><tspan dy="9" dx="-7" font-weight="normal" font-size="25">&#215;</tspan><tspan dx="3" font-size="23" font-weight="normal">10</tspan><tspan dy="-10" dx="2" font-size="15" font-weight="bold">-4</tspan></text>
<text x="-67.1" y="-5.3" font-family='"Liberation Sans", sans-serif' font-size="43" font-weight="bold">B</text>
<text x="49.5" y="-11.2" font-family='"Liberation Serif", serif' font-size="29" font-weight="bold" textLength="100.0" lengthAdjust="spacingAndGlyphs">Coriolis</text>
</g>
<g transform="translate(72.5,503.0)">
<path d="M0,180.5 L0,0 L548.5,0 L548.5,180.5" fill="none" stroke="#444" stroke-width="3"/>
<line x1="0" y1="6.5" x2="6" y2="6.5" stroke="#444" stroke-width="2.5"/>
<line x1="542.5" y1="6.5" x2="548.5" y2="6.5" stroke="#444" stroke-width="2.5"/>
<line x1="0" y1="40.9" x2="6" y2="40.9" stroke="#444" stroke-width="2.5"/>
<line x1="542.5" y1="40.9" x2="548.5" y2="40.9" stroke="#444" stroke-width="2.5"/>
<line x1="0" y1="75.3" x2="6" y2="75.3" stroke="#444" stroke-width="2.5"/>
<line x1="542.5" y1="75.3" x2="548.5" y2="75.3" stroke="#444" stroke-width="2.5"/>
<line x1="0" y1="109.7" x2="6" y2="109.7" stroke="#444" stroke-width="2.5"/>
<line x1="542.5" y1="109.7" x2="548.5" y2="109.7" stroke="#444" stroke-width="2.5"/>
<line x1="0" y1="144.1" x2="6" y2="144.1" stroke="#444" stroke-width="2.5"/>
<line x1="542.5" y1="144.1" x2="548.5" y2="144.1" stroke="#444" stroke-width="2.5"/>
<line x1="0" y1="178.5" x2="6" y2="178.5" stroke="#444" stroke-width="2.5"/>
<line x1="542.5" y1="178.5" x2="548.5" y2="178.5" stroke="#444" stroke-width="2.5"/>
<g clip-path="url(#wave)">
<rect x="-2" y="-1" width="552.5" height="182.0" fill="#a8f090"/>
<g transform="translate(-72.5,-503.0)">
<polygon points="66.1,499.0 350.0,499.0 350.0,636.8 66.1,636.8" fill="#98f2c0"/>
<polygon points="345.0,499.0 625.0,499.0 625.0,636.8 345.0,636.8" fill="#98f2c0"/>
<polygon points="60.0,559.6 74.1,561.4 88.2,555.0 102.4,548.3 116.5,540.8 130.6,532.8 144.8,524.9 158.9,517.2 173.0,511.0 187.1,508.0 201.2,511.4 215.4,517.9 229.5,524.4 243.6,530.8 257.8,537.0 271.9,542.5 286.0,547.1 300.1,551.3 314.2,555.2 328.4,558.9 342.5,559.7 356.6,557.1 370.8,548.2 384.9,538.3 399.0,528.3 413.1,518.9 427.2,510.6 441.4,506.5 455.5,506.2 469.6,507.5 483.8,514.5 497.9,521.9 512.0,529.4 526.1,536.0 540.2,541.9 554.4,547.0 568.5,551.7 582.6,556.0 596.8,559.1 610.9,559.9 625.0,559.6 625.0,601.6 610.9,601.9 596.8,601.1 582.6,598.0 568.5,593.7 554.4,589.0 540.2,583.9 526.1,578.0 512.0,571.4 497.9,563.9 483.8,556.5 469.6,549.5 455.5,548.2 441.4,548.5 427.2,552.6 413.1,560.9 399.0,570.3 384.9,580.3 370.8,590.2 356.6,599.1 342.5,601.7 328.4,600.9 314.2,597.2 300.1,593.3 286.0,589.1 271.9,584.5 257.8,579.0 243.6,572.8 229.5,566.4 215.4,559.9 201.2,553.4 187.1,550.0 173.0,553.0 158.9,559.2 144.8,566.9 130.6,574.8 116.5,582.8 102.4,590.3 88.2,597.0 74.1,603.4 60.0,601.6" fill="#88f2e0" filter="url(#b12)"/>
<polygon points="98.0,550.4 100.0,549.4 102.0,548.4 104.0,547.4 106.0,546.4 108.0,545.4 110.0,544.3 112.0,543.3 114.0,542.2 116.0,541.1 118.0,540.0 120.0,538.9 122.0,537.7 124.0,536.6 126.0,535.5 128.0,534.3 130.0,533.2 132.0,532.0 134.0,530.9 136.0,529.8 138.0,528.6 140.0,527.5 142.0,526.4 144.0,525.3 146.0,524.2 148.0,523.1 150.0,522.0 152.0,520.9 154.0,519.8 156.0,518.7 158.0,517.6 160.0,516.6 162.0,515.6 164.0,514.7 166.0,513.8 168.0,512.9 170.0,512.1 172.0,511.3 174.0,510.6 176.0,509.9 178.0,509.4 178.0,539.4 176.0,539.7 174.0,540.2 172.0,540.7 170.0,541.3 168.0,541.9 166.0,542.6 164.0,543.3 162.0,544.0 160.0,544.8 158.0,545.6 156.0,546.5 154.0,547.4 152.0,548.3 150.0,549.2 148.0,550.1 146.0,551.0 144.0,551.9 142.0,552.8 140.0,553.7 138.0,554.6 136.0,555.6 134.0,556.5 132.0,557.4 130.0,558.4 128.0,559.3 126.0,560.3 124.0,561.2 122.0,562.1 120.0,563.1 118.0,564.0 116.0,564.9 114.0,565.8 112.0,566.7 110.0,567.5 108.0,568.4 106.0,569.2 104.0,570.0 102.0,570.8 100.0,571.6 98.0,572.4" fill="#58a8f0" filter="url(#b7)"/>
<polygon points="110.0,544.3 111.5,543.6 112.9,542.8 114.3,542.0 115.8,541.2 117.2,540.4 118.7,539.6 120.2,538.8 121.6,538.0 123.0,537.1 124.5,536.3 126.0,535.5 127.4,534.7 128.8,533.8 130.3,533.0 131.8,532.2 133.2,531.4 134.7,530.5 136.1,529.7 137.6,528.9 139.0,528.1 140.4,527.2 141.9,526.4 143.3,525.6 144.8,524.8 146.2,524.0 147.7,523.2 149.2,522.4 150.6,521.6 152.1,520.8 153.5,520.0 154.9,519.3 156.4,518.5 157.8,517.7 159.3,517.0 160.8,516.2 162.2,515.5 163.7,514.8 165.1,514.2 166.6,513.5 168.0,512.9 168.0,534.9 166.6,535.4 165.1,536.0 163.7,536.5 162.2,537.1 160.8,537.7 159.3,538.4 157.8,539.0 156.4,539.7 154.9,540.4 153.5,541.0 152.1,541.7 150.6,542.4 149.2,543.1 147.7,543.8 146.2,544.5 144.8,545.2 143.3,545.9 141.9,546.6 140.4,547.3 139.0,548.1 137.6,548.8 136.1,549.5 134.7,550.2 133.2,551.0 131.8,551.7 130.3,552.4 128.8,553.1 127.4,553.9 126.0,554.6 124.5,555.3 123.0,556.0 121.6,556.8 120.2,557.5 118.7,558.2 117.2,558.9 115.8,559.6 114.3,560.3 112.9,561.0 111.5,561.7 110.0,562.3" fill="#3070f0" filter="url(#b6)"/>
<polygon points="200.0,510.9 201.9,511.7 203.8,512.5 205.6,513.3 207.5,514.2 209.4,515.1 211.2,515.9 213.1,516.8 215.0,517.7 216.9,518.6 218.8,519.5 220.6,520.4 222.5,521.3 224.4,522.1 226.2,523.0 228.1,523.8 230.0,524.7 231.9,525.5 233.8,526.3 235.6,527.2 237.5,528.0 239.4,528.9 241.2,529.7 243.1,530.6 245.0,531.4 246.9,532.2 248.8,533.1 250.6,533.9 252.5,534.7 254.4,535.5 256.2,536.3 258.1,537.1 260.0,537.9 261.9,538.7 263.8,539.4 265.6,540.2 267.5,540.9 269.4,541.6 271.2,542.3 273.1,542.9 275.0,543.6 275.0,563.6 273.1,563.1 271.2,562.7 269.4,562.2 267.5,561.7 265.6,561.2 263.8,560.6 261.9,560.1 260.0,559.5 258.1,558.9 256.2,558.3 254.4,557.7 252.5,557.1 250.6,556.5 248.8,555.9 246.9,555.2 245.0,554.6 243.1,554.0 241.2,553.3 239.4,552.7 237.5,552.0 235.6,551.4 233.8,550.7 231.9,550.1 230.0,549.5 228.1,548.8 226.2,548.2 224.4,547.5 222.5,546.9 220.6,546.2 218.8,545.5 216.9,544.8 215.0,544.1 213.1,543.4 211.2,542.7 209.4,542.1 207.5,541.4 205.6,540.7 203.8,540.1 201.9,539.5 200.0,538.9" fill="#58a8f0" filter="url(#b7)"/>
<polygon points="210.0,515.3 211.3,516.0 212.6,516.6 213.9,517.2 215.2,517.8 216.5,518.4 217.8,519.1 219.1,519.7 220.4,520.3 221.7,520.9 223.0,521.5 224.3,522.1 225.6,522.7 226.9,523.3 228.2,523.9 229.5,524.4 230.8,525.0 232.1,525.6 233.4,526.2 234.7,526.8 236.0,527.3 237.3,527.9 238.6,528.5 239.9,529.1 241.2,529.7 242.5,530.3 243.8,530.9 245.1,531.4 246.4,532.0 247.7,532.6 249.0,533.2 250.3,533.7 251.6,534.3 252.9,534.9 254.2,535.4 255.5,536.0 256.8,536.6 258.1,537.1 259.4,537.6 260.7,538.2 262.0,538.7 262.0,552.7 260.7,552.3 259.4,551.9 258.1,551.5 256.8,551.2 255.5,550.7 254.2,550.3 252.9,549.9 251.6,549.5 250.3,549.1 249.0,548.7 247.7,548.2 246.4,547.8 245.1,547.4 243.8,547.0 242.5,546.5 241.2,546.1 239.9,545.7 238.6,545.2 237.3,544.8 236.0,544.3 234.7,543.9 233.4,543.5 232.1,543.0 230.8,542.6 229.5,542.2 228.2,541.8 226.9,541.3 225.6,540.9 224.3,540.5 223.0,540.0 221.7,539.6 220.4,539.1 219.1,538.6 217.8,538.2 216.5,537.7 215.2,537.2 213.9,536.8 212.6,536.3 211.3,535.8 210.0,535.3" fill="#3878f0" filter="url(#b6)"/>
<polygon points="370.0,548.7 371.4,547.7 372.9,546.7 374.4,545.7 375.8,544.7 377.2,543.7 378.7,542.7 380.1,541.7 381.6,540.6 383.1,539.6 384.5,538.6 385.9,537.5 387.4,536.5 388.9,535.4 390.3,534.4 391.8,533.4 393.2,532.4 394.6,531.3 396.1,530.3 397.6,529.3 399.0,528.3 400.4,527.4 401.9,526.4 403.4,525.4 404.8,524.4 406.2,523.5 407.7,522.5 409.1,521.5 410.6,520.6 412.1,519.6 413.5,518.7 414.9,517.7 416.4,516.8 417.9,515.9 419.3,515.0 420.8,514.1 422.2,513.3 423.6,512.5 425.1,511.7 426.6,511.0 428.0,510.3 428.0,540.3 426.6,540.8 425.1,541.4 423.6,542.0 422.2,542.7 420.8,543.4 419.3,544.1 417.9,544.8 416.4,545.6 414.9,546.4 413.5,547.2 412.1,547.9 410.6,548.8 409.1,549.6 407.7,550.4 406.2,551.2 404.8,552.0 403.4,552.9 401.9,553.7 400.4,554.5 399.0,555.3 397.6,556.2 396.1,557.0 394.6,557.9 393.2,558.8 391.8,559.6 390.3,560.5 388.9,561.4 387.4,562.3 385.9,563.2 384.5,564.1 383.1,565.0 381.6,565.8 380.1,566.7 378.7,567.6 377.2,568.5 375.8,569.3 374.4,570.2 372.9,571.0 371.4,571.9 370.0,572.7" fill="#58a8f0" filter="url(#b7)"/>
<polygon points="380.0,541.8 380.9,541.1 381.9,540.4 382.9,539.7 383.8,539.1 384.8,538.4 385.7,537.7 386.6,537.0 387.6,536.3 388.6,535.7 389.5,535.0 390.4,534.3 391.4,533.6 392.4,533.0 393.3,532.3 394.2,531.6 395.2,531.0 396.1,530.3 397.1,529.6 398.1,529.0 399.0,528.3 399.9,527.7 400.9,527.1 401.9,526.4 402.8,525.8 403.8,525.1 404.7,524.5 405.6,523.9 406.6,523.2 407.6,522.6 408.5,521.9 409.4,521.3 410.4,520.7 411.4,520.1 412.3,519.4 413.2,518.8 414.2,518.2 415.1,517.6 416.1,517.0 417.1,516.4 418.0,515.8 418.0,537.8 417.1,538.4 416.1,539.0 415.1,539.6 414.2,540.2 413.2,540.8 412.3,541.4 411.4,542.1 410.4,542.7 409.4,543.3 408.5,543.9 407.6,544.6 406.6,545.2 405.6,545.9 404.7,546.5 403.8,547.1 402.8,547.8 401.9,548.4 400.9,549.1 399.9,549.7 399.0,550.3 398.1,551.0 397.1,551.6 396.1,552.3 395.2,553.0 394.2,553.6 393.3,554.3 392.4,555.0 391.4,555.6 390.4,556.3 389.5,557.0 388.6,557.7 387.6,558.3 386.6,559.0 385.7,559.7 384.8,560.4 383.8,561.1 382.9,561.7 381.9,562.4 380.9,563.1 380.0,563.8" fill="#3878f0" filter="url(#b5)"/>
<polygon points="478.0,511.5 481.1,513.1 484.1,514.7 487.1,516.3 490.2,517.9 493.2,519.5 496.3,521.1 499.4,522.7 502.4,524.3 505.4,526.0 508.5,527.6 511.6,529.1 514.6,530.7 517.6,532.1 520.7,533.5 523.8,534.9 526.8,536.3 529.9,537.6 532.9,538.9 536.0,540.2 539.0,541.4 542.0,542.6 545.1,543.7 548.1,544.8 551.2,545.9 554.2,546.9 557.3,548.0 560.4,549.0 563.4,550.1 566.5,551.1 569.5,552.0 572.5,553.0 575.6,554.0 578.6,554.9 581.7,555.7 584.8,556.6 587.8,557.3 590.9,558.0 593.9,558.7 597.0,559.1 600.0,559.5 600.0,581.5 597.0,581.4 593.9,581.2 590.9,580.8 587.8,580.3 584.8,579.8 581.7,579.2 578.6,578.6 575.6,578.0 572.5,577.3 569.5,576.5 566.5,575.8 563.4,575.1 560.4,574.3 557.3,573.5 554.2,572.7 551.2,571.9 548.1,571.1 545.1,570.2 542.0,569.3 539.0,568.4 536.0,567.4 532.9,566.4 529.9,565.4 526.8,564.3 523.8,563.2 520.7,562.0 517.6,560.9 514.6,559.7 511.6,558.4 508.5,557.1 505.4,555.7 502.4,554.3 499.4,553.0 496.3,551.6 493.2,550.2 490.2,548.9 487.1,547.6 484.1,546.2 481.1,544.9 478.0,543.5" fill="#58a8f0" filter="url(#b7)"/>
<polygon points="486.0,515.7 487.9,516.7 489.7,517.6 491.6,518.6 493.4,519.5 495.2,520.5 497.1,521.5 498.9,522.5 500.8,523.5 502.6,524.5 504.5,525.5 506.4,526.4 508.2,527.4 510.1,528.4 511.9,529.3 513.8,530.2 515.6,531.1 517.5,532.0 519.3,532.9 521.1,533.8 523.0,534.6 524.9,535.4 526.7,536.3 528.5,537.1 530.4,537.9 532.2,538.6 534.1,539.4 536.0,540.2 537.8,540.9 539.6,541.6 541.5,542.4 543.4,543.1 545.2,543.8 547.0,544.4 548.9,545.1 550.8,545.7 552.6,546.4 554.5,547.0 556.3,547.7 558.1,548.3 560.0,548.9 560.0,564.9 558.1,564.4 556.3,564.0 554.5,563.5 552.6,563.0 550.8,562.5 548.9,562.0 547.0,561.5 545.2,561.0 543.4,560.4 541.5,559.9 539.6,559.3 537.8,558.7 536.0,558.1 534.1,557.5 532.2,556.9 530.4,556.3 528.5,555.6 526.7,555.0 524.9,554.3 523.0,553.6 521.1,552.9 519.3,552.2 517.5,551.5 515.6,550.7 513.8,550.0 511.9,549.2 510.1,548.4 508.2,547.6 506.4,546.8 504.5,546.0 502.6,545.1 500.8,544.3 498.9,543.4 497.1,542.6 495.2,541.8 493.4,540.9 491.6,540.1 489.7,539.3 487.9,538.5 486.0,537.7" fill="#3070f0" filter="url(#b6)"/>
<polygon points="180.3,510.8 207.8,510.8 207.8,601.4 182.2,601.4" fill="#a4f2a4" filter="url(#b10)"/>
<polygon points="447.4,510.8 473.0,510.8 473.0,613.2 449.4,613.2" fill="#a4f2a4" filter="url(#b10)"/>
<polygon points="70.0,621.1 93.6,648.6 111.4,621.1 129.1,612.2 156.6,607.3 180.3,605.3 184.2,593.5 198.0,592.5 200.0,627.0 203.9,670.3 211.8,617.1 225.6,604.3 243.3,611.2 259.0,617.1 270.8,628.0 294.5,615.2 310.2,612.2 333.9,619.1 350.0,632.9 350.0,688.0 70.0,688.0" fill="#b4f274" filter="url(#b3)"/>
<polygon points="345.0,629.0 356.8,650.6 364.7,634.9 404.1,621.1 455.3,615.2 467.1,629.0 471.0,611.2 492.7,603.4 510.4,601.4 541.9,607.3 599.0,609.3 625.0,603.4 625.0,688.0 345.0,688.0" fill="#b4f274" filter="url(#b3)"/>
<polygon points="70.0,648.6 350.0,636.8 350.0,688.0 70.0,688.0" fill="#c8f058" filter="url(#b16)"/>
<polygon points="345.0,640.8 625.0,634.9 625.0,688.0 345.0,688.0" fill="#c8f058" filter="url(#b16)"/>
<polygon points="70.0,656.5 350.0,652.6 350.0,688.0 70.0,688.0" fill="#d8f048" filter="url(#b12)"/>
<polygon points="345.0,652.6 625.0,652.6 625.0,688.0 345.0,688.0" fill="#d8f048" filter="url(#b12)"/>
<polygon points="89.7,688.0 136.9,636.8 184.2,688.0" fill="#f2f038" filter="url(#b6)"/>
<polygon points="107.4,688.0 136.9,652.6 166.5,688.0" fill="#f0a830" filter="url(#b5)"/>
<polygon points="121.2,688.0 136.9,668.3 152.7,688.0" fill="#e84010" filter="url(#b4)"/>
<polygon points="200.0,688.0 243.3,650.6 294.5,688.0" fill="#f2f038" filter="url(#b6)"/>
<polygon points="217.7,688.0 243.3,664.4 272.8,688.0" fill="#f0b030" filter="url(#b5)"/>
<polygon points="366.7,688.0 402.1,640.8 441.5,688.0" fill="#f2f038" filter="url(#b6)"/>
<polygon points="378.5,688.0 402.1,654.6 427.7,688.0" fill="#f09830" filter="url(#b5)"/>
<polygon points="390.3,688.0 402.1,670.3 415.9,688.0" fill="#e84010" filter="url(#b4)"/>
<polygon points="471.0,688.0 512.4,638.8 616.7,688.0" fill="#f2f038" filter="url(#b6)"/>
<polygon points="486.8,688.0 512.4,654.6 581.3,688.0" fill="#f09830" filter="url(#b5)"/>
<polygon points="498.6,688.0 512.4,670.3 538.0,688.0" fill="#e84010" filter="url(#b4)"/>
<path d="M72.0,621.1 L93.6,648.6 L111.4,621.1 L129.1,612.2 L156.6,607.3 L180.3,605.3 L184.2,593.5 L198.0,592.5 L200.0,627.0 L203.5,670.3 L210.8,617.1 L225.6,604.3 L243.3,611.2 L259.0,617.1 L270.8,628.0 L294.5,615.2 L310.2,612.2 L333.9,619.1 L349.6,632.9" fill="none" stroke="#fff" stroke-width="2.0" stroke-linejoin="round" stroke-linecap="round" stroke-opacity="0.95"/>
<path d="M200.9,517.7 L203.5,545.3 L205.9,518.7" fill="none" stroke="#fff" stroke-width="2.0" stroke-linejoin="round" stroke-linecap="round" stroke-opacity="0.95"/>
<path d="M345.0,629.0 L356.8,651.6 L364.7,634.9 L404.1,621.1 L455.3,615.2 L467.1,629.9 L471.0,611.2 L492.7,603.4 L510.4,601.4 L541.9,607.3 L599.0,609.3 L622.6,602.4" fill="none" stroke="#fff" stroke-width="2.0" stroke-linejoin="round" stroke-linecap="round" stroke-opacity="0.95"/>
<path d="M466.7,530.5 L467.5,578.7 L468.1,530.5" fill="none" stroke="#fff" stroke-width="2.0" stroke-linejoin="round" stroke-linecap="round" stroke-opacity="0.95"/>
<path d="M354.8,562.0 L357.2,568.9 L359.8,558.1" fill="none" stroke="#fff" stroke-width="2.0" stroke-linejoin="round" stroke-linecap="round" stroke-opacity="0.95"/>
</g>
</g>
<line x1="109.7" y1="1" x2="109.7" y2="180.5" stroke="#111" stroke-width="3.4" stroke-dasharray="8,9"/>
<line x1="263.3" y1="1" x2="263.3" y2="180.5" stroke="#111" stroke-width="3.4" stroke-dasharray="8,9"/>
<line x1="383.9" y1="1" x2="383.9" y2="180.5" stroke="#111" stroke-width="3.4" stroke-dasharray="8,9"/>
<text transform="translate(-10.0,14.3) scale(0.920,1)" font-family='"Liberation Serif", serif' font-size="23.5" font-weight="bold" text-anchor="end" >3</text>
<text transform="translate(-10.0,48.7) scale(0.920,1)" font-family='"Liberation Serif", serif' font-size="23.5" font-weight="bold" text-anchor="end" >0</text>
<text transform="translate(-10.0,83.1) scale(0.920,1)" font-family='"Liberation Serif", serif' font-size="23.5" font-weight="bold" text-anchor="end" >-3</text>
<text transform="translate(-10.0,117.5) scale(0.920,1)" font-family='"Liberation Serif", serif' font-size="23.5" font-weight="bold" text-anchor="end" >-6</text>
<text transform="translate(-10.0,151.9) scale(0.920,1)" font-family='"Liberation Serif", serif' font-size="23.5" font-weight="bold" text-anchor="end" >-9</text>
<text transform="translate(-10.0,186.3) scale(0.920,1)" font-family='"Liberation Serif", serif' font-size="23.5" font-weight="bold" text-anchor="end" >-12</text>
<rect x="557.0" y="0.5" width="29" height="179" fill="url(#jet)" stroke="#333" stroke-width="1"/>
<text transform="translate(595.5,9.0) scale(0.950,1)" font-family='"Liberation Serif", serif' font-size="23.5" font-weight="bold" text-anchor="start" >2</text>
<text transform="translate(595.5,54.2) scale(0.950,1)" font-family='"Liberation Serif", serif' font-size="23.5" font-weight="bold" text-anchor="start" >1</text>
<text transform="translate(595.5,99.4) scale(0.950,1)" font-family='"Liberation Serif", serif' font-size="23.5" font-weight="bold" text-anchor="start" >0</text>
<text transform="translate(595.5,144.6) scale(0.950,1)" font-family='"Liberation Serif", serif' font-size="23.5" font-weight="bold" text-anchor="start" >-1</text>
<text transform="translate(595.5,189.8) scale(0.950,1)" font-family='"Liberation Serif", serif' font-size="23.5" font-weight="bold" text-anchor="start" >-2</text>
<text x="547.0" y="-12" font-family='"Liberation Serif", serif' font-size="21" font-weight="bold">m<tspan font-weight="normal">&#183;</tspan>s<tspan dy="-9" font-size="15">-2</tspan><tspan dy="9" dx="-7" font-weight="normal" font-size="25">&#215;</tspan><tspan dx="3" font-size="23" font-weight="normal">10</tspan><tspan dy="-10" dx="2" font-size="15" font-weight="bold">-4</tspan></text>
<text x="-68.3" y="-5.5" font-family='"Liberation Sans", sans-serif' font-size="43" font-weight="bold">C</text>
<text x="46.5" y="-11.2" font-family='"Liberation Serif", serif' font-size="29" font-weight="bold" textLength="130.0" lengthAdjust="spacingAndGlyphs">Curvature</text>
</g>
<g transform="translate(72.5,735.0)">
<path d="M0,180.5 L0,0 L548.5,0 L548.5,180.5" fill="none" stroke="#444" stroke-width="3"/>
<line x1="0" y1="6.5" x2="6" y2="6.5" stroke="#444" stroke-width="2.5"/>
<line x1="542.5" y1="6.5" x2="548.5" y2="6.5" stroke="#444" stroke-width="2.5"/>
<line x1="0" y1="40.9" x2="6" y2="40.9" stroke="#444" stroke-width="2.5"/>
<line x1="542.5" y1="40.9" x2="548.5" y2="40.9" stroke="#444" stroke-width="2.5"/>
<line x1="0" y1="75.3" x2="6" y2="75.3" stroke="#444" stroke-width="2.5"/>
<line x1="542.5" y1="75.3" x2="548.5" y2="75.3" stroke="#444" stroke-width="2.5"/>
<line x1="0" y1="109.7" x2="6" y2="109.7" stroke="#444" stroke-width="2.5"/>
<line x1="542.5" y1="109.7" x2="548.5" y2="109.7" stroke="#444" stroke-width="2.5"/>
<line x1="0" y1="144.1" x2="6" y2="144.1" stroke="#444" stroke-width="2.5"/>
<line x1="542.5" y1="144.1" x2="548.5" y2="144.1" stroke="#444" stroke-width="2.5"/>
<line x1="0" y1="178.5" x2="6" y2="178.5" stroke="#444" stroke-width="2.5"/>
<line x1="542.5" y1="178.5" x2="548.5" y2="178.5" stroke="#444" stroke-width="2.5"/>
<g clip-path="url(#wave)">
<rect x="-2" y="-1" width="552.5" height="182.0" fill="#aef68a"/>
<g transform="translate(-72.5,-735.0)">
<polygon points="70.0,790.1 101.5,789.1 105.4,796.0 116.3,803.9 129.1,794.0 158.6,782.2 180.3,784.2 186.2,790.1 201.9,849.1 225.6,861.9 249.2,835.4 266.9,836.3 282.7,849.1 312.2,840.3 333.9,844.2 345.7,835.4 348.6,796.0 348.6,731.0 70.0,731.0" fill="#b6f676"/>
<polygon points="70.0,797.9 84.8,797.0 99.5,798.9 109.4,809.8 81.8,833.4 77.9,853.1 82.8,857.0 78.9,872.8 70.0,876.7" fill="#b6f676"/>
<polygon points="81.8,914.1 83.8,904.3 93.6,896.4 102.5,914.1" fill="#b6f676"/>
<polygon points="344.7,914.1 343.7,890.5 350.0,890.5 350.0,914.1" fill="#b6f676"/>
<polygon points="364.7,790.1 368.6,809.8 380.4,823.5 388.3,815.7 410.0,804.8 439.5,805.8 455.3,796.0 466.1,786.1 467.1,756.6 469.1,811.7 475.0,816.7 467.1,843.2 488.7,820.6 506.5,822.6 528.1,843.2 553.7,848.2 577.3,872.8 606.9,877.7 612.8,894.4 612.8,916.1 625.0,916.1 625.0,731.0 364.7,731.0" fill="#b6f676"/>
<polygon points="345.0,890.5 356.8,890.5 368.6,900.3 370.6,916.1 345.0,916.1" fill="#b6f676"/>
<polygon points="345.0,731.0 347.0,731.0 347.0,796.0 345.0,835.4" fill="#b6f676"/>
<path d="M101.5,788.1 L105.4,796.0 L116.3,803.9 L129.1,794.0 L158.6,782.2 L180.3,784.2 L186.2,790.1 L201.9,849.1 L225.6,861.9 L249.2,835.4 L266.9,836.3 L282.7,849.1 L312.2,840.3 L333.9,844.2 L345.7,835.4 L348.6,796.0" fill="none" stroke="#fff" stroke-width="2.0" stroke-linejoin="round" stroke-linecap="round" stroke-opacity="0.95"/>
<path d="M84.8,797.0 L99.5,798.9 L109.4,809.8 L81.8,833.4 L77.9,853.1 L82.8,857.0 L78.9,872.8 L71.0,876.7" fill="none" stroke="#fff" stroke-width="2.0" stroke-linejoin="round" stroke-linecap="round" stroke-opacity="0.95"/>
<path d="M81.8,915.1 L83.8,904.3 L93.6,896.4 L102.5,913.1" fill="none" stroke="#fff" stroke-width="2.0" stroke-linejoin="round" stroke-linecap="round" stroke-opacity="0.95"/>
<path d="M344.7,915.1 L343.7,890.5 L350.6,890.5" fill="none" stroke="#fff" stroke-width="2.0" stroke-linejoin="round" stroke-linecap="round" stroke-opacity="0.95"/>
<path d="M364.7,789.1 L368.6,809.8 L380.4,823.5 L388.3,815.7 L410.0,804.8 L439.5,805.8 L455.3,796.0 L466.1,786.1 L467.1,756.6 L469.1,811.7 L475.0,816.7 L467.1,843.2 L488.7,820.6 L506.5,822.6 L528.1,843.2 L553.7,848.2 L577.3,872.8 L606.9,877.7 L612.8,894.4 L612.8,915.1" fill="none" stroke="#fff" stroke-width="2.0" stroke-linejoin="round" stroke-linecap="round" stroke-opacity="0.95"/>
<path d="M345.0,890.5 L356.8,890.5 L368.6,900.3 L370.6,915.1" fill="none" stroke="#fff" stroke-width="2.0" stroke-linejoin="round" stroke-linecap="round" stroke-opacity="0.95"/>
<path d="M347.4,795.0 L346.0,835.4" fill="none" stroke="#fff" stroke-width="2.0" stroke-linejoin="round" stroke-linecap="round" stroke-opacity="0.95"/>
<path d="M609.8,795.0 L606.9,825.5 L621.7,838.3" fill="none" stroke="#fff" stroke-width="2.0" stroke-linejoin="round" stroke-linecap="round" stroke-opacity="0.95"/>
</g>
</g>
<line x1="109.7" y1="1" x2="109.7" y2="180.5" stroke="#111" stroke-width="3.4" stroke-dasharray="8,9"/>
<line x1="263.3" y1="1" x2="263.3" y2="180.5" stroke="#111" stroke-width="3.4" stroke-dasharray="8,9"/>
<line x1="383.9" y1="1" x2="383.9" y2="180.5" stroke="#111" stroke-width="3.4" stroke-dasharray="8,9"/>
<text transform="translate(-10.0,14.3) scale(0.920,1)" font-family='"Liberation Serif", serif' font-size="23.5" font-weight="bold" text-anchor="end" >3</text>
<text transform="translate(-10.0,48.7) scale(0.920,1)" font-family='"Liberation Serif", serif' font-size="23.5" font-weight="bold" text-anchor="end" >0</text>
<text transform="translate(-10.0,83.1) scale(0.920,1)" font-family='"Liberation Serif", serif' font-size="23.5" font-weight="bold" text-anchor="end" >-3</text>
<text transform="translate(-10.0,117.5) scale(0.920,1)" font-family='"Liberation Serif", serif' font-size="23.5" font-weight="bold" text-anchor="end" >-6</text>
<text transform="translate(-10.0,151.9) scale(0.920,1)" font-family='"Liberation Serif", serif' font-size="23.5" font-weight="bold" text-anchor="end" >-9</text>
<text transform="translate(-10.0,186.3) scale(0.920,1)" font-family='"Liberation Serif", serif' font-size="23.5" font-weight="bold" text-anchor="end" >-12</text>
<rect x="557.0" y="0.5" width="29" height="179" fill="url(#jet)" stroke="#333" stroke-width="1"/>
<text transform="translate(595.5,9.0) scale(0.950,1)" font-family='"Liberation Serif", serif' font-size="23.5" font-weight="bold" text-anchor="start" >1</text>
<text transform="translate(595.5,54.2) scale(0.950,1)" font-family='"Liberation Serif", serif' font-size="23.5" font-weight="bold" text-anchor="start" >0.5</text>
<text transform="translate(595.5,99.4) scale(0.950,1)" font-family='"Liberation Serif", serif' font-size="23.5" font-weight="bold" text-anchor="start" >0</text>
<text transform="translate(595.5,144.6) scale(0.950,1)" font-family='"Liberation Serif", serif' font-size="23.5" font-weight="bold" text-anchor="start" >-0.5</text>
<text transform="translate(595.5,189.8) scale(0.950,1)" font-family='"Liberation Serif", serif' font-size="23.5" font-weight="bold" text-anchor="start" >-1</text>
<text x="547.0" y="-12" font-family='"Liberation Serif", serif' font-size="21" font-weight="bold">m<tspan font-weight="normal">&#183;</tspan>s<tspan dy="-9" font-size="15">-2</tspan><tspan dy="9" dx="-7" font-weight="normal" font-size="25">&#215;</tspan><tspan dx="3" font-size="23" font-weight="normal">10</tspan><tspan dy="-10" dx="2" font-size="15" font-weight="bold">-4</tspan></text>
<text x="-67.1" y="-2.4" font-family='"Liberation Sans", sans-serif' font-size="43" font-weight="bold">D</text>
<text x="49.5" y="-11.2" font-family='"Liberation Serif", serif' font-size="29" font-weight="bold" textLength="361.0" lengthAdjust="spacingAndGlyphs">Sediment induced baroclinic</text>
</g>
<g transform="translate(72.5,967.0)">
<path d="M0,180.5 L0,0 L548.5,0 L548.5,180.5" fill="none" stroke="#444" stroke-width="3"/>
<line x1="0" y1="6.5" x2="6" y2="6.5" stroke="#444" stroke-width="2.5"/>
<line x1="542.5" y1="6.5" x2="548.5" y2="6.5" stroke="#444" stroke-width="2.5"/>
<line x1="0" y1="40.9" x2="6" y2="40.9" stroke="#444" stroke-width="2.5"/>
<line x1="542.5" y1="40.9" x2="548.5" y2="40.9" stroke="#444" stroke-width="2.5"/>
<line x1="0" y1="75.3" x2="6" y2="75.3" stroke="#444" stroke-width="2.5"/>
<line x1="542.5" y1="75.3" x2="548.5" y2="75.3" stroke="#444" stroke-width="2.5"/>
<line x1="0" y1="109.7" x2="6" y2="109.7" stroke="#444" stroke-width="2.5"/>
<line x1="542.5" y1="109.7" x2="548.5" y2="109.7" stroke="#444" stroke-width="2.5"/>
<line x1="0" y1="144.1" x2="6" y2="144.1" stroke="#444" stroke-width="2.5"/>
<line x1="542.5" y1="144.1" x2="548.5" y2="144.1" stroke="#444" stroke-width="2.5"/>
<line x1="0" y1="178.5" x2="6" y2="178.5" stroke="#444" stroke-width="2.5"/>
<line x1="542.5" y1="178.5" x2="548.5" y2="178.5" stroke="#444" stroke-width="2.5"/>
<g clip-path="url(#wave)">
<rect x="-2" y="-1" width="552.5" height="182.0" fill="#98f2c0"/>
<g transform="translate(-72.5,-967.0)">
<polygon points="70.0,963.0 164.5,963.0 156.6,1031.9 150.7,1075.2 144.8,1091.0 140.9,1132.3 70.0,1134.3" fill="#f0e838"/>
<polygon points="70.0,1028.0 129.1,1006.3 135.0,1130.4 70.0,1132.3" fill="#f08a28" filter="url(#b8)"/>
<polygon points="77.9,1028.0 93.6,1022.1 115.3,1012.2 115.3,1073.3 121.2,1116.6 129.1,1132.3 75.9,1132.3 75.9,1061.5" fill="#800000" filter="url(#b5)"/>
<polygon points="70.0,1037.8 75.9,1037.8 75.9,1132.3 70.0,1132.3" fill="#f0e040" filter="url(#b3)"/>
<polygon points="135.0,1002.4 164.5,986.6 154.7,1031.9 146.8,1081.1 142.9,1130.4 135.0,1130.4" fill="#e6f040" filter="url(#b6)"/>
<polygon points="166.5,990.6 186.2,984.7 207.8,992.5 266.9,1020.1 333.9,1053.6 335.8,1124.5 320.1,1136.3 168.5,1132.3 142.9,1130.4 144.8,1091.0 150.7,1075.2 156.6,1031.9" fill="#98f2c0" filter="url(#b2)"/>
<polygon points="172.4,998.4 207.8,998.4 266.9,1026.0 326.0,1057.5 326.0,1124.5 172.4,1128.4 160.6,1081.1" fill="#80f8f0" filter="url(#b10)"/>
<polygon points="211.8,1006.3 227.5,1006.3 266.9,1028.0 259.0,1130.4 207.8,1130.4" fill="#3a7cf0" filter="url(#b12)"/>
<polygon points="223.6,1041.8 247.2,1041.8 251.2,1120.5 219.6,1120.5" fill="#2a60f0" filter="url(#b12)"/>
<ellipse cx="235.4" cy="1122.5" rx="34.0" ry="8.0" fill="#0008c0" filter="url(#b5)"/>
<polygon points="266.9,1041.8 292.5,1051.6 296.4,1130.4 264.9,1130.4" fill="#70d8f8" filter="url(#b12)"/>
<polygon points="70.0,1134.3 117.3,1132.3 136.9,1130.4 148.8,1134.3 156.6,1148.1 70.0,1148.1" fill="#000090" filter="url(#b3)"/>
<polygon points="135.0,1134.3 152.7,1134.3 160.6,1148.1 140.9,1148.1" fill="#40d0f0" filter="url(#b4)"/>
<polygon points="162.5,1148.1 166.5,1132.3 219.6,1131.4 266.9,1132.3 312.2,1134.3 318.1,1138.2 316.1,1148.1" fill="#f07020" filter="url(#b3)"/>
<polygon points="196.0,1134.3 286.6,1134.3 296.4,1148.1 192.1,1148.1" fill="#980000" filter="url(#b4)"/>
<polygon points="168.5,1134.3 180.3,1134.3 182.2,1148.1 166.5,1148.1" fill="#e8e840" filter="url(#b4)"/>
<polygon points="318.1,1136.3 333.9,1130.4 335.8,1148.1 316.1,1148.1" fill="#70f0e0" filter="url(#b4)"/>
<polygon points="337.8,1132.3 350.0,1130.4 350.0,1148.1 337.8,1148.1" fill="#000090" filter="url(#b3)"/>
<polygon points="335.8,1029.9 350.0,1026.0 350.0,1130.4 337.8,1130.4" fill="#a00000" filter="url(#b5)"/>
<polygon points="345.0,1028.0 433.6,976.8 467.1,976.8 437.5,1006.3 427.7,1100.8 432.6,1132.3 345.0,1134.3" fill="#f0a030" filter="url(#b6)"/>
<polygon points="345.0,1028.0 368.6,1022.1 372.6,1081.1 376.5,1128.4 345.0,1132.3" fill="#880000" filter="url(#b8)"/>
<polygon points="410.0,998.4 437.5,1002.4 429.7,1100.8 432.6,1130.4 411.9,1130.4 410.0,1061.5" fill="#eef038" filter="url(#b6)"/>
<polygon points="463.1,992.5 522.2,1014.2 620.7,1035.9 620.7,1134.3 601.0,1134.3 601.0,1075.2 561.6,1057.5 522.2,1026.0 469.1,998.4" fill="#f0e040" filter="url(#b6)"/>
<polygon points="591.1,1041.8 620.7,1041.8 620.7,1134.3 601.0,1132.3" fill="#e05010" filter="url(#b10)"/>
<polygon points="437.5,1006.3 455.3,1000.4 469.1,998.4 522.2,1026.0 561.6,1057.5 599.0,1073.3 601.0,1096.9 593.1,1112.6 567.5,1126.4 569.5,1132.3 432.6,1128.4 427.7,1100.8" fill="#98f2c0" filter="url(#b2)"/>
<polygon points="447.4,1014.2 473.0,1010.3 522.2,1033.9 561.6,1065.4 581.3,1081.1 571.4,1124.5 443.5,1126.4" fill="#80f8f0" filter="url(#b10)"/>
<polygon points="473.0,1022.1 502.5,1022.1 532.1,1045.7 532.1,1126.4 471.0,1126.4" fill="#4488f0" filter="url(#b12)"/>
<ellipse cx="508.4" cy="1124.5" rx="30.0" ry="7.0" fill="#0a30e0" filter="url(#b5)"/>
<polygon points="345.0,1134.3 423.8,1130.4 439.5,1132.3 443.5,1148.1 345.0,1148.1" fill="#000090" filter="url(#b3)"/>
<polygon points="439.5,1132.3 457.2,1132.3 457.2,1148.1 443.5,1148.1" fill="#40d8f0" filter="url(#b4)"/>
<polygon points="459.2,1148.1 461.2,1136.3 526.2,1134.3 534.0,1148.1" fill="#f07020" filter="url(#b3)"/>
<polygon points="494.6,1136.3 526.2,1136.3 530.1,1148.1 494.6,1148.1" fill="#900000" filter="url(#b5)"/>
<polygon points="534.0,1136.3 553.7,1136.3 553.7,1148.1 534.0,1148.1" fill="#60e0f0" filter="url(#b4)"/>
<polygon points="551.8,1138.2 601.0,1136.3 601.0,1148.1 551.8,1148.1" fill="#1040e0" filter="url(#b5)"/>
<polygon points="601.0,1120.5 620.7,1116.6 620.7,1136.3 601.0,1136.3" fill="#900000" filter="url(#b5)"/>
<polygon points="601.0,1138.2 625.0,1134.3 625.0,1148.1 601.0,1148.1" fill="#000090" filter="url(#b4)"/>
<polygon points="150.0,986.0 153.0,984.3 156.0,982.7 159.0,981.1 162.0,979.6 165.0,978.2 168.0,976.9 171.0,975.7 174.0,974.6 177.0,973.6 180.0,972.9 183.0,972.4 186.0,972.1 189.0,972.0 192.0,972.4 195.0,973.2 198.0,974.2 201.0,975.3 204.0,976.6 207.0,977.9 210.0,979.3 213.0,980.8 216.0,982.2 219.0,983.6 222.0,985.1 225.0,986.4 228.0,987.8 231.0,989.1 234.0,990.4 237.0,991.8 240.0,993.1 243.0,994.5 246.0,995.8 249.0,997.2 252.0,998.5 255.0,999.8 258.0,1001.1 261.0,1002.3 264.0,1003.5 267.0,1004.7 270.0,1005.8 273.0,1006.9 276.0,1007.9 279.0,1008.9 282.0,1009.9 285.0,1010.8 288.0,1011.8 291.0,1012.7 294.0,1013.5 297.0,1014.4 300.0,1015.3 303.0,1016.1 306.0,1016.9 309.0,1017.8 312.0,1018.6 315.0,1019.4 318.0,1020.3 321.0,1021.1 324.0,1021.9 327.0,1022.6 330.0,1023.1 333.0,1023.5 336.0,1023.7 336.0,1049.7 333.0,1049.0 330.0,1048.1 327.0,1047.1 324.0,1045.9 321.0,1044.6 318.0,1043.3 315.0,1041.9 312.0,1040.6 309.0,1039.3 306.0,1037.9 303.0,1036.6 300.0,1035.3 297.0,1034.3 294.0,1033.3 291.0,1032.3 288.0,1031.3 285.0,1030.2 282.0,1029.2 279.0,1028.1 276.0,1027.0 273.0,1025.8 270.0,1024.6 267.0,1023.4 264.0,1022.1 261.0,1020.7 258.0,1019.4 255.0,1018.0 252.0,1016.6 249.0,1015.1 246.0,1013.7 243.0,1012.2 240.0,1010.7 237.0,1009.3 234.0,1007.8 231.0,1006.3 228.0,1004.9 225.0,1003.4 222.0,1001.9 219.0,1000.4 216.0,998.9 213.0,997.3 210.0,995.7 207.0,994.2 204.0,992.7 201.0,991.4 198.0,990.1 195.0,989.0 192.0,988.1 189.0,987.6 186.0,987.5 183.0,987.8 180.0,988.1 177.0,988.7 174.0,989.6 171.0,990.6 168.0,991.7 165.0,992.8 162.0,994.1 159.0,995.5 156.0,996.9 153.0,998.4 150.0,1000.0" fill="#f0f038" filter="url(#b2)"/>
<polygon points="112.0,1007.3 115.0,1005.6 118.1,1003.9 121.1,1002.2 124.1,1000.5 127.1,998.8 130.2,997.1 133.2,995.4 136.2,993.6 139.2,991.9 142.3,990.2 145.3,988.6 148.3,986.9 151.4,985.2 154.4,983.6 157.4,981.9 160.4,980.4 163.5,978.9 166.5,977.6 169.5,976.3 172.5,975.1 175.6,974.1 178.6,973.2 181.6,972.6 184.6,972.2 187.7,972.0 190.7,972.2 193.7,972.9 196.8,973.8 199.8,974.8 202.8,976.1 205.8,977.4 208.9,978.8 211.9,980.2 214.9,981.7 217.9,983.1 221.0,984.6 224.0,986.0 227.0,987.3 230.1,988.7 233.1,990.0 236.1,991.4 239.1,992.8 242.2,994.1 245.2,995.5 248.2,996.8 251.2,998.2 254.3,999.5 257.3,1000.8 260.3,1002.0 263.4,1003.3 266.4,1004.4 269.4,1005.6 272.4,1006.7 275.5,1007.7 278.5,1008.8 281.5,1009.7 284.5,1010.7 287.6,1011.6 290.6,1012.5 293.6,1013.4 296.6,1014.3 299.7,1015.2 302.7,1016.0 305.7,1016.9 308.8,1017.7 311.8,1018.5 314.8,1019.4 317.8,1020.2 320.9,1021.1 323.9,1021.9 326.9,1022.6 329.9,1023.1 333.0,1023.5 336.0,1023.7 336.0,1041.7 333.0,1041.1 329.9,1040.3 326.9,1039.3 323.9,1038.2 320.9,1037.0 317.8,1035.7 314.8,1034.4 311.8,1033.2 308.8,1031.9 305.7,1030.7 302.7,1029.4 299.7,1028.2 296.6,1027.2 293.6,1026.3 290.6,1025.3 287.6,1024.4 284.5,1023.4 281.5,1022.4 278.5,1021.3 275.5,1020.2 272.4,1019.1 269.4,1018.0 266.4,1016.8 263.4,1015.5 260.3,1014.2 257.3,1012.9 254.3,1011.6 251.2,1010.2 248.2,1008.8 245.2,1007.4 242.2,1006.0 239.1,1004.5 236.1,1003.1 233.1,1001.7 230.1,1000.3 227.0,998.9 224.0,997.5 221.0,996.0 217.9,994.5 214.9,993.0 211.9,991.5 208.9,990.0 205.8,988.5 202.8,987.1 199.8,985.8 196.8,984.8 193.7,983.9 190.7,983.2 187.7,983.0 184.6,983.2 181.6,983.6 178.6,984.2 175.6,985.1 172.5,986.1 169.5,987.3 166.5,988.6 163.5,989.9 160.4,991.4 157.4,992.9 154.4,994.6 151.4,996.2 148.3,997.9 145.3,999.6 142.3,1001.2 139.2,1002.9 136.2,1004.6 133.2,1006.4 130.2,1008.1 127.1,1009.8 124.1,1011.5 121.1,1013.2 118.1,1014.9 115.0,1016.6 112.0,1018.3" fill="#f08020" filter="url(#b1)"/>
<polygon points="112.0,1007.3 115.0,1005.6 118.1,1003.9 121.1,1002.2 124.1,1000.5 127.1,998.8 130.2,997.1 133.2,995.4 136.2,993.6 139.2,991.9 142.3,990.2 145.3,988.6 148.3,986.9 151.4,985.2 154.4,983.6 157.4,981.9 160.4,980.4 163.5,978.9 166.5,977.6 169.5,976.3 172.5,975.1 175.6,974.1 178.6,973.2 181.6,972.6 184.6,972.2 187.7,972.0 190.7,972.2 193.7,972.9 196.8,973.8 199.8,974.8 202.8,976.1 205.8,977.4 208.9,978.8 211.9,980.2 214.9,981.7 217.9,983.1 221.0,984.6 224.0,986.0 227.0,987.3 230.1,988.7 233.1,990.0 236.1,991.4 239.1,992.8 242.2,994.1 245.2,995.5 248.2,996.8 251.2,998.2 254.3,999.5 257.3,1000.8 260.3,1002.0 263.4,1003.3 266.4,1004.4 269.4,1005.6 272.4,1006.7 275.5,1007.7 278.5,1008.8 281.5,1009.7 284.5,1010.7 287.6,1011.6 290.6,1012.5 293.6,1013.4 296.6,1014.3 299.7,1015.2 302.7,1016.0 305.7,1016.9 308.8,1017.7 311.8,1018.5 314.8,1019.4 317.8,1020.2 320.9,1021.1 323.9,1021.9 326.9,1022.6 329.9,1023.1 333.0,1023.5 336.0,1023.7 336.0,1036.7 333.0,1036.2 329.9,1035.6 326.9,1034.8 323.9,1033.9 320.9,1032.8 317.8,1031.7 314.8,1030.6 311.8,1029.5 308.8,1028.4 305.7,1027.3 302.7,1026.2 299.7,1025.2 296.6,1024.3 293.6,1023.4 290.6,1022.4 287.6,1021.5 284.5,1020.5 281.5,1019.6 278.5,1018.5 275.5,1017.5 272.4,1016.4 269.4,1015.3 266.4,1014.1 263.4,1012.9 260.3,1011.6 257.3,1010.3 254.3,1009.0 251.2,1007.7 248.2,1006.3 245.2,1004.9 242.2,1003.5 239.1,1002.1 236.1,1000.8 233.1,999.4 230.1,998.0 227.0,996.6 224.0,995.2 221.0,993.8 217.9,992.3 214.9,990.8 211.9,989.4 208.9,987.9 205.8,986.5 202.8,985.1 199.8,983.8 196.8,982.8 193.7,981.9 190.7,981.2 187.7,981.0 184.6,981.2 181.6,981.6 178.6,982.2 175.6,983.1 172.5,984.1 169.5,985.3 166.5,986.6 163.5,987.9 160.4,989.4 157.4,990.9 154.4,992.6 151.4,994.2 148.3,995.9 145.3,997.6 142.3,999.2 139.2,1000.9 136.2,1002.6 133.2,1004.4 130.2,1006.1 127.1,1007.8 124.1,1009.5 121.1,1011.2 118.1,1012.9 115.0,1014.6 112.0,1016.3" fill="#d81000" filter="url(#b1)"/>
<polygon points="150.0,986.0 153.1,984.3 156.2,982.6 159.3,981.0 162.4,979.4 165.5,978.0 168.6,976.7 171.7,975.5 174.8,974.3 177.9,973.4 181.0,972.7 184.0,972.3 187.1,972.0 190.2,972.1 193.3,972.8 196.4,973.7 199.5,974.7 202.6,976.0 205.7,977.4 208.8,978.8 211.9,980.3 215.0,981.7 215.0,989.7 211.9,988.3 208.8,986.8 205.7,985.4 202.6,984.0 199.5,982.7 196.4,981.7 193.3,980.8 190.2,980.1 187.1,980.0 184.0,980.3 181.0,980.7 177.9,981.4 174.8,982.3 171.7,983.5 168.6,984.7 165.5,986.0 162.4,987.4 159.3,989.0 156.2,990.6 153.1,992.3 150.0,994.0" fill="#900000" filter="url(#b1)"/>
<polygon points="425.0,975.7 428.1,974.2 431.1,973.0 434.2,972.0 437.3,971.3 440.3,970.7 443.4,970.3 446.5,970.2 449.5,970.2 452.6,970.3 455.6,970.2 458.7,970.0 461.8,969.9 464.8,970.2 467.9,970.9 471.0,972.1 474.0,973.5 477.1,975.0 480.2,976.6 483.2,978.3 486.3,979.9 489.4,981.4 492.4,983.0 495.5,984.6 498.5,986.3 501.6,987.9 504.7,989.5 507.7,991.2 510.8,992.7 513.9,994.3 516.9,995.8 520.0,997.2 520.0,1023.2 516.9,1022.1 513.9,1020.8 510.8,1019.5 507.7,1018.2 504.7,1016.8 501.6,1015.5 498.5,1014.1 495.5,1012.7 492.4,1011.3 489.4,1010.0 486.3,1008.7 483.2,1007.4 480.2,1006.0 477.1,1004.6 474.0,1003.3 471.0,1002.2 467.9,1001.3 464.8,1000.8 461.8,1000.8 458.7,1001.1 455.6,1001.6 452.6,1002.0 449.5,1002.2 446.5,1002.4 443.4,1002.8 440.3,1003.4 437.3,1004.2 434.2,1005.2 431.1,1006.5 428.1,1008.0 425.0,1009.7" fill="#f0e840" filter="url(#b2)"/>
<polygon points="332.0,1023.4 335.0,1023.6 338.1,1023.7 341.1,1023.7 344.1,1023.6 347.2,1023.3 350.2,1022.8 353.2,1022.2 356.3,1021.2 359.3,1019.9 362.3,1018.2 365.4,1016.1 368.4,1013.9 371.4,1011.7 374.5,1009.7 377.5,1007.6 380.5,1005.4 383.5,1003.2 386.6,1001.1 389.6,998.9 392.6,996.7 395.7,994.6 398.7,992.5 401.7,990.5 404.8,988.4 407.8,986.4 410.8,984.4 413.9,982.4 416.9,980.5 419.9,978.6 423.0,976.8 426.0,975.2 429.0,973.8 432.1,972.6 435.1,971.7 438.1,971.1 441.2,970.5 444.2,970.3 447.2,970.2 450.3,970.2 453.3,970.3 456.3,970.2 459.4,969.9 462.4,969.9 465.4,970.3 468.5,971.1 471.5,972.3 474.5,973.7 477.5,975.3 480.6,976.9 483.6,978.5 486.6,980.1 489.7,981.6 492.7,983.2 495.7,984.8 498.8,986.4 501.8,988.0 504.8,989.6 507.9,991.2 510.9,992.8 513.9,994.3 517.0,995.8 520.0,997.2 520.0,1015.2 517.0,1013.9 513.9,1012.6 510.9,1011.2 507.9,1009.7 504.8,1008.2 501.8,1006.7 498.8,1005.2 495.7,1003.7 492.7,1002.3 489.7,1000.8 486.6,999.4 483.6,997.9 480.6,996.4 477.5,994.9 474.5,993.5 471.5,992.2 468.5,991.2 465.4,990.5 462.4,990.2 459.4,990.4 456.3,990.8 453.3,991.0 450.3,991.1 447.2,991.2 444.2,991.4 441.2,991.8 438.1,992.5 435.1,993.3 432.1,994.3 429.0,995.6 426.0,997.2 423.0,999.0 419.9,1001.0 416.9,1003.2 413.9,1005.4 410.8,1007.6 407.8,1009.9 404.8,1012.2 401.7,1014.5 398.7,1016.8 395.7,1019.1 392.6,1021.5 389.6,1023.9 386.6,1026.4 383.5,1028.8 380.5,1031.2 377.5,1033.6 374.5,1036.0 371.4,1038.3 368.4,1040.7 365.4,1043.2 362.3,1045.6 359.3,1047.6 356.3,1049.1 353.2,1050.3 350.2,1051.3 347.2,1052.0 344.1,1052.5 341.1,1052.9 338.1,1053.2 335.0,1053.4 332.0,1053.4" fill="#f08020" filter="url(#b2)"/>
<polygon points="332.0,1023.4 335.0,1023.6 338.1,1023.7 341.1,1023.7 344.1,1023.6 347.2,1023.3 350.2,1022.8 353.2,1022.2 356.3,1021.2 359.3,1019.9 362.3,1018.2 365.4,1016.1 368.4,1013.9 371.4,1011.7 374.5,1009.7 377.5,1007.6 380.5,1005.4 383.5,1003.2 386.6,1001.1 389.6,998.9 392.6,996.7 395.7,994.6 398.7,992.5 401.7,990.5 404.8,988.4 407.8,986.4 410.8,984.4 413.9,982.4 416.9,980.5 419.9,978.6 423.0,976.8 426.0,975.2 429.0,973.8 432.1,972.6 435.1,971.7 438.1,971.1 441.2,970.5 444.2,970.3 447.2,970.2 450.3,970.2 453.3,970.3 456.3,970.2 459.4,969.9 462.4,969.9 465.4,970.3 468.5,971.1 471.5,972.3 474.5,973.7 477.5,975.3 480.6,976.9 483.6,978.5 486.6,980.1 489.7,981.6 492.7,983.2 495.7,984.8 498.8,986.4 501.8,988.0 504.8,989.6 507.9,991.2 510.9,992.8 513.9,994.3 517.0,995.8 520.0,997.2 520.0,1011.2 517.0,1009.9 513.9,1008.4 510.9,1007.0 507.9,1005.5 504.8,1003.9 501.8,1002.4 498.8,1000.8 495.7,999.3 492.7,997.7 489.7,996.2 486.6,994.7 483.6,993.2 480.6,991.6 477.5,990.1 474.5,988.6 471.5,987.3 468.5,986.2 465.4,985.4 462.4,985.1 459.4,985.2 456.3,985.5 453.3,985.7 450.3,985.7 447.2,985.7 444.2,985.8 441.2,986.2 438.1,986.8 435.1,987.5 432.1,988.5 429.0,989.7 426.0,991.2 423.0,992.9 419.9,994.8 416.9,996.8 413.9,998.9 410.8,1001.0 407.8,1003.1 404.8,1005.3 401.7,1007.5 398.7,1009.7 395.7,1011.9 392.6,1014.1 389.6,1016.4 386.6,1018.7 383.5,1021.0 380.5,1023.3 377.5,1025.6 374.5,1027.8 371.4,1030.0 368.4,1032.3 365.4,1034.6 362.3,1036.9 359.3,1038.7 356.3,1040.2 353.2,1041.2 350.2,1042.0 347.2,1042.6 344.1,1043.1 341.1,1043.3 338.1,1043.5 335.0,1043.5 332.0,1043.4" fill="#d01000" filter="url(#b1)"/>
<polygon points="332.0,1023.4 335.0,1023.6 338.1,1023.7 341.1,1023.7 344.1,1023.6 347.2,1023.3 350.2,1022.8 353.2,1022.2 356.3,1021.2 359.3,1019.9 362.3,1018.2 365.4,1016.1 368.4,1013.9 371.4,1011.7 374.5,1009.7 377.5,1007.6 380.5,1005.4 383.5,1003.2 386.6,1001.1 389.6,998.9 392.6,996.7 395.7,994.6 398.7,992.5 401.7,990.5 404.8,988.4 407.8,986.4 410.8,984.4 413.9,982.4 416.9,980.5 419.9,978.6 423.0,976.8 426.0,975.2 429.0,973.8 432.1,972.6 435.1,971.7 438.1,971.1 441.2,970.5 444.2,970.3 447.2,970.2 450.3,970.2 453.3,970.3 456.3,970.2 459.4,969.9 462.4,969.9 465.4,970.3 468.5,971.1 471.5,972.3 474.5,973.7 477.5,975.3 480.6,976.9 483.6,978.5 486.6,980.1 489.7,981.6 492.7,983.2 495.7,984.8 498.8,986.4 501.8,988.0 504.8,989.6 507.9,991.2 510.9,992.8 513.9,994.3 517.0,995.8 520.0,997.2 520.0,1007.2 517.0,1005.9 513.9,1004.4 510.9,1003.0 507.9,1001.5 504.8,999.9 501.8,998.4 498.8,996.8 495.7,995.3 492.7,993.7 489.7,992.2 486.6,990.7 483.6,989.2 480.6,987.6 477.5,986.1 474.5,984.6 471.5,983.3 468.5,982.2 465.4,981.4 462.4,981.1 459.4,981.2 456.3,981.5 453.3,981.7 450.3,981.7 447.2,981.7 444.2,981.8 441.2,982.2 438.1,982.8 435.1,983.5 432.1,984.5 429.0,985.7 426.0,987.2 423.0,988.9 419.9,990.8 416.9,992.7 413.9,994.8 410.8,996.9 407.8,999.0 404.8,1001.1 401.7,1003.2 398.7,1005.4 395.7,1007.6 392.6,1009.8 389.6,1012.0 386.6,1014.3 383.5,1016.6 380.5,1018.8 377.5,1021.1 374.5,1023.3 371.4,1025.5 368.4,1027.7 365.4,1030.0 362.3,1032.2 359.3,1034.0 356.3,1035.4 353.2,1036.5 350.2,1037.2 347.2,1037.8 344.1,1038.2 341.1,1038.4 338.1,1038.5 335.0,1038.5 332.0,1038.4" fill="#7a0000" filter="url(#b1)"/>
<polygon points="514.0,1020.1 532.0,1002.1 536.0,1005.1 518.0,1023.1" fill="#f0e040" filter="url(#b1)"/>
<polygon points="526.0,999.9 529.0,1001.3 532.0,1002.5 535.0,1003.8 538.0,1005.0 541.0,1006.2 544.0,1007.3 547.0,1008.4 550.0,1009.5 553.0,1010.5 556.0,1011.5 559.0,1012.6 562.0,1013.6 565.0,1014.6 568.0,1015.6 571.0,1016.5 574.0,1017.5 577.0,1018.4 580.0,1019.3 583.0,1020.1 586.0,1020.9 589.0,1021.6 592.0,1022.3 595.0,1022.8 598.0,1023.3 601.0,1023.6 604.0,1023.8 607.0,1023.9 610.0,1023.9 613.0,1023.8 616.0,1023.8 619.0,1023.7 622.0,1023.6 625.0,1023.6 625.0,1055.6 622.0,1055.6 619.0,1055.7 616.0,1055.8 613.0,1055.8 610.0,1055.9 607.0,1055.9 604.0,1055.8 601.0,1055.6 598.0,1055.3 595.0,1054.8 592.0,1054.3 589.0,1053.6 586.0,1052.9 583.0,1052.1 580.0,1051.3 577.0,1050.4 574.0,1049.5 571.0,1048.5 568.0,1047.6 565.0,1046.6 562.0,1045.6 559.0,1044.6 556.0,1043.5 553.0,1042.5 550.0,1041.5 547.0,1040.4 544.0,1039.3 541.0,1038.2 538.0,1037.0 535.0,1035.8 532.0,1034.5 529.0,1033.3 526.0,1031.9" fill="#f09020" filter="url(#b2)"/>
<polygon points="526.0,999.9 529.0,1001.3 532.0,1002.5 535.0,1003.8 538.0,1005.0 541.0,1006.2 544.0,1007.3 547.0,1008.4 550.0,1009.5 553.0,1010.5 556.0,1011.5 559.0,1012.6 562.0,1013.6 565.0,1014.6 568.0,1015.6 571.0,1016.5 574.0,1017.5 577.0,1018.4 580.0,1019.3 583.0,1020.1 586.0,1020.9 589.0,1021.6 592.0,1022.3 595.0,1022.8 598.0,1023.3 601.0,1023.6 604.0,1023.8 607.0,1023.9 610.0,1023.9 613.0,1023.8 616.0,1023.8 619.0,1023.7 622.0,1023.6 625.0,1023.6 625.0,1047.6 622.0,1047.6 619.0,1047.7 616.0,1047.8 613.0,1047.8 610.0,1047.9 607.0,1047.9 604.0,1047.8 601.0,1047.6 598.0,1047.3 595.0,1046.8 592.0,1046.3 589.0,1045.6 586.0,1044.9 583.0,1044.1 580.0,1043.3 577.0,1042.4 574.0,1041.5 571.0,1040.5 568.0,1039.6 565.0,1038.6 562.0,1037.6 559.0,1036.6 556.0,1035.5 553.0,1034.5 550.0,1033.5 547.0,1032.4 544.0,1031.3 541.0,1030.2 538.0,1029.0 535.0,1027.8 532.0,1026.5 529.0,1025.3 526.0,1023.9" fill="#d01000" filter="url(#b1)"/>
<polygon points="526.0,999.9 529.0,1001.3 532.0,1002.5 535.0,1003.8 538.0,1005.0 541.0,1006.2 544.0,1007.3 547.0,1008.4 550.0,1009.5 553.0,1010.5 556.0,1011.5 559.0,1012.6 562.0,1013.6 565.0,1014.6 568.0,1015.6 571.0,1016.5 574.0,1017.5 577.0,1018.4 580.0,1019.3 583.0,1020.1 586.0,1020.9 589.0,1021.6 592.0,1022.3 595.0,1022.8 598.0,1023.3 601.0,1023.6 604.0,1023.8 607.0,1023.9 610.0,1023.9 613.0,1023.8 616.0,1023.8 619.0,1023.7 622.0,1023.6 625.0,1023.6 625.0,1041.6 622.0,1041.5 619.0,1041.5 616.0,1041.6 613.0,1041.6 610.0,1041.6 607.0,1041.5 604.0,1041.3 601.0,1041.1 598.0,1040.7 595.0,1040.2 592.0,1039.6 589.0,1038.9 586.0,1038.1 583.0,1037.2 580.0,1036.3 577.0,1035.4 574.0,1034.4 571.0,1033.4 568.0,1032.4 565.0,1031.4 562.0,1030.3 559.0,1029.2 556.0,1028.2 553.0,1027.1 550.0,1026.0 547.0,1024.8 544.0,1023.7 541.0,1022.5 538.0,1021.2 535.0,1020.0 532.0,1018.7 529.0,1017.3 526.0,1015.9" fill="#7a0000" filter="url(#b1)"/>
<path d="M140.9,1130.4 L144.8,1091.0 L150.7,1075.2 L156.6,1031.9 L166.5,990.6 L186.2,984.7 L207.8,992.5 L266.9,1020.1 L333.9,1053.6 L335.8,1120.5 L320.1,1136.3 L314.2,1134.3" fill="none" stroke="#fff" stroke-width="2.0" stroke-linejoin="round" stroke-linecap="round" stroke-opacity="0.95"/>
<path d="M70.0,1134.3 L105.4,1136.3 L117.3,1132.3 L129.1,1134.3 L138.9,1130.4 L144.8,1131.9" fill="none" stroke="#fff" stroke-width="2.0" stroke-linejoin="round" stroke-linecap="round" stroke-opacity="0.95"/>
<path d="M162.5,1147.1 L166.5,1132.3 L219.6,1131.4 L266.9,1132.3 L312.2,1134.3 L318.5,1138.2 L333.9,1128.4 L350.0,1134.3" fill="none" stroke="#fff" stroke-width="2.0" stroke-linejoin="round" stroke-linecap="round" stroke-opacity="0.95"/>
<path d="M432.6,1126.4 L427.7,1100.8 L437.5,1006.3 L455.3,1000.4 L469.1,998.4 L522.2,1026.0 L561.6,1057.5 L599.0,1073.3 L601.0,1096.9 L593.1,1112.6 L567.5,1126.4 L569.5,1132.3 L601.0,1136.3 L625.0,1134.3" fill="none" stroke="#fff" stroke-width="2.0" stroke-linejoin="round" stroke-linecap="round" stroke-opacity="0.95"/>
<path d="M345.0,1134.3 L370.6,1135.3 L396.2,1130.4 L423.8,1130.4 L439.5,1132.3 L453.3,1130.4 L522.2,1132.3 L534.0,1147.1" fill="none" stroke="#fff" stroke-width="2.0" stroke-linejoin="round" stroke-linecap="round" stroke-opacity="0.95"/>
</g>
</g>
<line x1="109.7" y1="1" x2="109.7" y2="180.5" stroke="#111" stroke-width="3.4" stroke-dasharray="8,9"/>
<line x1="263.3" y1="1" x2="263.3" y2="180.5" stroke="#111" stroke-width="3.4" stroke-dasharray="8,9"/>
<line x1="383.9" y1="1" x2="383.9" y2="180.5" stroke="#111" stroke-width="3.4" stroke-dasharray="8,9"/>
<text transform="translate(-10.0,14.3) scale(0.920,1)" font-family='"Liberation Serif", serif' font-size="23.5" font-weight="bold" text-anchor="end" >3</text>
<text transform="translate(-10.0,48.7) scale(0.920,1)" font-family='"Liberation Serif", serif' font-size="23.5" font-weight="bold" text-anchor="end" >0</text>
<text transform="translate(-10.0,83.1) scale(0.920,1)" font-family='"Liberation Serif", serif' font-size="23.5" font-weight="bold" text-anchor="end" >-3</text>
<text transform="translate(-10.0,117.5) scale(0.920,1)" font-family='"Liberation Serif", serif' font-size="23.5" font-weight="bold" text-anchor="end" >-6</text>
<text transform="translate(-10.0,151.9) scale(0.920,1)" font-family='"Liberation Serif", serif' font-size="23.5" font-weight="bold" text-anchor="end" >-9</text>
<text transform="translate(-10.0,186.3) scale(0.920,1)" font-family='"Liberation Serif", serif' font-size="23.5" font-weight="bold" text-anchor="end" >-12</text>
<rect x="557.0" y="0.5" width="29" height="179" fill="url(#jet)" stroke="#333" stroke-width="1"/>
<text transform="translate(595.5,9.0) scale(0.950,1)" font-family='"Liberation Serif", serif' font-size="23.5" font-weight="bold" text-anchor="start" >4</text>
<text transform="translate(595.5,54.2) scale(0.950,1)" font-family='"Liberation Serif", serif' font-size="23.5" font-weight="bold" text-anchor="start" >2</text>
<text transform="translate(595.5,99.4) scale(0.950,1)" font-family='"Liberation Serif", serif' font-size="23.5" font-weight="bold" text-anchor="start" >0</text>
<text transform="translate(595.5,144.6) scale(0.950,1)" font-family='"Liberation Serif", serif' font-size="23.5" font-weight="bold" text-anchor="start" >-2</text>
<text transform="translate(595.5,189.8) scale(0.950,1)" font-family='"Liberation Serif", serif' font-size="23.5" font-weight="bold" text-anchor="start" >-4</text>
<text x="547.0" y="-12" font-family='"Liberation Serif", serif' font-size="21" font-weight="bold">m<tspan font-weight="normal">&#183;</tspan>s<tspan dy="-9" font-size="15">-2</tspan><tspan dy="9" dx="-7" font-weight="normal" font-size="25">&#215;</tspan><tspan dx="3" font-size="23" font-weight="normal">10</tspan><tspan dy="-10" dx="2" font-size="15" font-weight="bold">-4</tspan></text>
<text x="-65.8" y="-3.5" font-family='"Liberation Sans", sans-serif' font-size="43" font-weight="bold">E</text>
<text x="46.5" y="-11.2" font-family='"Liberation Serif", serif' font-size="29" font-weight="bold" textLength="100.0" lengthAdjust="spacingAndGlyphs">Friction</text>
</g>
<g transform="translate(72.5,1199.0)">
<path d="M0,180.5 L0,0 L548.5,0 L548.5,180.5" fill="none" stroke="#444" stroke-width="3"/>
<line x1="0" y1="6.5" x2="6" y2="6.5" stroke="#444" stroke-width="2.5"/>
<line x1="542.5" y1="6.5" x2="548.5" y2="6.5" stroke="#444" stroke-width="2.5"/>
<line x1="0" y1="40.9" x2="6" y2="40.9" stroke="#444" stroke-width="2.5"/>
<line x1="542.5" y1="40.9" x2="548.5" y2="40.9" stroke="#444" stroke-width="2.5"/>
<line x1="0" y1="75.3" x2="6" y2="75.3" stroke="#444" stroke-width="2.5"/>
<line x1="542.5" y1="75.3" x2="548.5" y2="75.3" stroke="#444" stroke-width="2.5"/>
<line x1="0" y1="109.7" x2="6" y2="109.7" stroke="#444" stroke-width="2.5"/>
<line x1="542.5" y1="109.7" x2="548.5" y2="109.7" stroke="#444" stroke-width="2.5"/>
<line x1="0" y1="144.1" x2="6" y2="144.1" stroke="#444" stroke-width="2.5"/>
<line x1="542.5" y1="144.1" x2="548.5" y2="144.1" stroke="#444" stroke-width="2.5"/>
<line x1="0" y1="178.5" x2="6" y2="178.5" stroke="#444" stroke-width="2.5"/>
<line x1="542.5" y1="178.5" x2="548.5" y2="178.5" stroke="#444" stroke-width="2.5"/>
<g clip-path="url(#wave)">
<rect x="-2" y="-1" width="552.5" height="182.0" fill="#98f2c0"/>
<g transform="translate(-72.5,-1199.0)">
<polygon points="70.0,1195.0 164.5,1195.0 154.7,1230.4 148.8,1277.7 144.8,1344.6 156.6,1366.3 70.0,1366.3" fill="#f0e838"/>
<polygon points="70.0,1260.0 129.1,1234.4 133.0,1364.3 70.0,1364.3" fill="#f08a28" filter="url(#b8)"/>
<polygon points="83.8,1260.0 105.4,1252.1 109.4,1277.7 115.3,1313.1 127.1,1352.5 129.1,1364.3 73.9,1364.3 77.9,1313.1" fill="#800000" filter="url(#b5)"/>
<polygon points="70.0,1269.8 75.9,1269.8 75.9,1332.8 70.0,1332.8" fill="#f0e040" filter="url(#b4)"/>
<polygon points="129.1,1234.4 158.6,1220.6 150.7,1273.8 144.8,1352.5 131.0,1352.5" fill="#e8f040" filter="url(#b7)"/>
<polygon points="158.6,1220.6 186.2,1216.7 207.8,1224.5 266.9,1252.1 329.9,1285.6 335.8,1356.5 320.1,1368.3 168.5,1364.3 156.6,1366.3 144.8,1344.6 148.8,1277.7 154.7,1230.4" fill="#98f2c0" filter="url(#b2)"/>
<polygon points="172.4,1230.4 207.8,1230.4 266.9,1258.0 326.0,1289.5 326.0,1356.5 172.4,1360.4 160.6,1313.1" fill="#80f8f0" filter="url(#b10)"/>
<polygon points="207.8,1234.4 227.5,1234.4 266.9,1260.0 259.0,1362.4 205.9,1362.4" fill="#3a7cf0" filter="url(#b12)"/>
<polygon points="221.6,1273.8 247.2,1273.8 251.2,1352.5 219.6,1352.5" fill="#2a60f0" filter="url(#b12)"/>
<ellipse cx="237.4" cy="1354.5" rx="34.0" ry="8.0" fill="#0008c0" filter="url(#b5)"/>
<polygon points="266.9,1273.8 292.5,1283.6 296.4,1362.4 264.9,1362.4" fill="#70d8f8" filter="url(#b12)"/>
<polygon points="70.0,1366.3 117.3,1364.3 136.9,1362.4 148.8,1366.3 156.6,1380.1 70.0,1380.1" fill="#000090" filter="url(#b3)"/>
<polygon points="135.0,1366.3 152.7,1366.3 160.6,1380.1 140.9,1380.1" fill="#40d0f0" filter="url(#b4)"/>
<polygon points="160.6,1380.1 166.5,1364.3 219.6,1363.4 266.9,1364.3 310.2,1366.3 316.1,1380.1" fill="#f07020" filter="url(#b3)"/>
<polygon points="203.9,1366.3 286.6,1366.3 296.4,1380.1 200.0,1380.1" fill="#980000" filter="url(#b4)"/>
<polygon points="166.5,1366.3 180.3,1366.3 182.2,1380.1 164.5,1380.1" fill="#e8e840" filter="url(#b4)"/>
<polygon points="316.1,1368.3 333.9,1362.4 335.8,1380.1 314.2,1380.1" fill="#70f0e0" filter="url(#b4)"/>
<polygon points="337.8,1364.3 350.0,1362.4 350.0,1380.1 337.8,1380.1" fill="#000090" filter="url(#b3)"/>
<polygon points="335.8,1261.9 350.0,1258.0 350.0,1362.4 337.8,1362.4" fill="#b01000" filter="url(#b5)"/>
<polygon points="345.0,1260.0 433.6,1208.8 467.1,1208.8 437.5,1238.3 427.7,1332.8 435.6,1364.3 345.0,1366.3" fill="#f0c838" filter="url(#b6)"/>
<polygon points="345.0,1260.0 360.8,1258.0 364.7,1313.1 374.5,1360.4 345.0,1364.3" fill="#e05010" filter="url(#b8)"/>
<polygon points="345.0,1313.1 368.6,1323.0 384.4,1362.4 345.0,1364.3" fill="#800000" filter="url(#b8)"/>
<polygon points="374.5,1254.1 404.1,1244.2 404.1,1332.8 374.5,1332.8" fill="#f0a838" filter="url(#b14)"/>
<polygon points="410.0,1230.4 437.5,1234.4 429.7,1332.8 435.6,1362.4 411.9,1362.4 410.0,1293.5" fill="#eef038" filter="url(#b6)"/>
<polygon points="463.1,1226.5 522.2,1250.1 591.1,1279.7 620.7,1279.7 620.7,1366.3 601.0,1366.3 585.2,1307.2 551.8,1281.6 522.2,1260.0 469.1,1230.4" fill="#eef040" filter="url(#b6)"/>
<polygon points="601.0,1277.7 625.0,1277.7 625.0,1366.3 601.0,1364.3" fill="#e86018" filter="url(#b10)"/>
<polygon points="431.6,1230.4 469.1,1228.5 522.2,1258.0 551.8,1281.6 585.2,1307.2 581.3,1344.6 567.5,1358.4 569.5,1364.3 437.5,1360.4 427.7,1332.8" fill="#98f2c0" filter="url(#b2)"/>
<polygon points="443.5,1246.2 473.0,1244.2 522.2,1265.9 551.8,1289.5 571.4,1313.1 561.6,1356.5 443.5,1358.4" fill="#80f8f0" filter="url(#b10)"/>
<polygon points="467.1,1254.1 502.5,1254.1 532.1,1277.7 532.1,1358.4 463.1,1358.4" fill="#4488f0" filter="url(#b12)"/>
<polygon points="502.5,1265.9 518.3,1265.9 518.3,1358.4 502.5,1358.4" fill="#3070f0" filter="url(#b10)"/>
<ellipse cx="508.4" cy="1356.5" rx="30.0" ry="7.0" fill="#0a30e0" filter="url(#b5)"/>
<polygon points="345.0,1366.3 423.8,1362.4 439.5,1364.3 443.5,1380.1 345.0,1380.1" fill="#000090" filter="url(#b3)"/>
<polygon points="439.5,1364.3 455.3,1364.3 455.3,1380.1 443.5,1380.1" fill="#40d8f0" filter="url(#b4)"/>
<polygon points="451.3,1380.1 455.3,1368.3 526.2,1366.3 532.1,1380.1" fill="#f07020" filter="url(#b3)"/>
<polygon points="494.6,1368.3 526.2,1368.3 530.1,1380.1 494.6,1380.1" fill="#900000" filter="url(#b5)"/>
<polygon points="534.0,1368.3 553.7,1368.3 553.7,1380.1 534.0,1380.1" fill="#60e0f0" filter="url(#b4)"/>
<polygon points="551.8,1370.2 601.0,1368.3 601.0,1380.1 551.8,1380.1" fill="#1040e0" filter="url(#b5)"/>
<polygon points="601.0,1352.5 620.7,1348.6 620.7,1368.3 601.0,1368.3" fill="#900000" filter="url(#b5)"/>
<polygon points="601.0,1370.2 625.0,1366.3 625.0,1380.1 601.0,1380.1" fill="#000090" filter="url(#b4)"/>
<polygon points="150.0,1218.0 153.0,1216.3 156.0,1214.7 159.0,1213.1 162.0,1211.6 165.0,1210.2 168.0,1208.9 171.0,1207.7 174.0,1206.6 177.0,1205.6 180.0,1204.9 183.0,1204.4 186.0,1204.1 189.0,1204.0 192.0,1204.4 195.0,1205.2 198.0,1206.2 201.0,1207.3 204.0,1208.6 207.0,1209.9 210.0,1211.3 213.0,1212.8 216.0,1214.2 219.0,1215.6 222.0,1217.1 225.0,1218.4 228.0,1219.8 231.0,1221.1 234.0,1222.4 237.0,1223.8 240.0,1225.1 243.0,1226.5 246.0,1227.8 249.0,1229.2 252.0,1230.5 255.0,1231.8 258.0,1233.1 261.0,1234.3 264.0,1235.5 267.0,1236.7 270.0,1237.8 273.0,1238.9 276.0,1239.9 279.0,1240.9 282.0,1241.9 285.0,1242.8 288.0,1243.8 291.0,1244.7 294.0,1245.5 297.0,1246.4 300.0,1247.3 303.0,1248.1 306.0,1248.9 309.0,1249.8 312.0,1250.6 315.0,1251.4 318.0,1252.3 321.0,1253.1 324.0,1253.9 327.0,1254.6 330.0,1255.1 333.0,1255.5 336.0,1255.7 336.0,1281.7 333.0,1281.0 330.0,1280.1 327.0,1279.1 324.0,1277.9 321.0,1276.6 318.0,1275.3 315.0,1273.9 312.0,1272.6 309.0,1271.3 306.0,1269.9 303.0,1268.6 300.0,1267.3 297.0,1266.3 294.0,1265.3 291.0,1264.3 288.0,1263.3 285.0,1262.2 282.0,1261.2 279.0,1260.1 276.0,1259.0 273.0,1257.8 270.0,1256.6 267.0,1255.4 264.0,1254.1 261.0,1252.7 258.0,1251.4 255.0,1250.0 252.0,1248.6 249.0,1247.1 246.0,1245.7 243.0,1244.2 240.0,1242.7 237.0,1241.3 234.0,1239.8 231.0,1238.3 228.0,1236.9 225.0,1235.4 222.0,1233.9 219.0,1232.4 216.0,1230.9 213.0,1229.3 210.0,1227.7 207.0,1226.2 204.0,1224.7 201.0,1223.4 198.0,1222.1 195.0,1221.0 192.0,1220.1 189.0,1219.6 186.0,1219.5 183.0,1219.8 180.0,1220.1 177.0,1220.7 174.0,1221.6 171.0,1222.6 168.0,1223.7 165.0,1224.8 162.0,1226.1 159.0,1227.5 156.0,1228.9 153.0,1230.4 150.0,1232.0" fill="#f0f038" filter="url(#b2)"/>
<polygon points="112.0,1239.3 115.0,1237.6 118.1,1235.9 121.1,1234.2 124.1,1232.5 127.1,1230.8 130.2,1229.1 133.2,1227.4 136.2,1225.6 139.2,1223.9 142.3,1222.2 145.3,1220.6 148.3,1218.9 151.4,1217.2 154.4,1215.6 157.4,1213.9 160.4,1212.4 163.5,1210.9 166.5,1209.6 169.5,1208.3 172.5,1207.1 175.6,1206.1 178.6,1205.2 181.6,1204.6 184.6,1204.2 187.7,1204.0 190.7,1204.2 193.7,1204.9 196.8,1205.8 199.8,1206.8 202.8,1208.1 205.8,1209.4 208.9,1210.8 211.9,1212.2 214.9,1213.7 217.9,1215.1 221.0,1216.6 224.0,1218.0 227.0,1219.3 230.1,1220.7 233.1,1222.0 236.1,1223.4 239.1,1224.8 242.2,1226.1 245.2,1227.5 248.2,1228.8 251.2,1230.2 254.3,1231.5 257.3,1232.8 260.3,1234.0 263.4,1235.3 266.4,1236.4 269.4,1237.6 272.4,1238.7 275.5,1239.7 278.5,1240.8 281.5,1241.7 284.5,1242.7 287.6,1243.6 290.6,1244.5 293.6,1245.4 296.6,1246.3 299.7,1247.2 302.7,1248.0 305.7,1248.9 308.8,1249.7 311.8,1250.5 314.8,1251.4 317.8,1252.2 320.9,1253.1 323.9,1253.9 326.9,1254.6 329.9,1255.1 333.0,1255.5 336.0,1255.7 336.0,1273.7 333.0,1273.1 329.9,1272.3 326.9,1271.3 323.9,1270.2 320.9,1269.0 317.8,1267.7 314.8,1266.4 311.8,1265.2 308.8,1263.9 305.7,1262.7 302.7,1261.4 299.7,1260.2 296.6,1259.2 293.6,1258.3 290.6,1257.3 287.6,1256.4 284.5,1255.4 281.5,1254.4 278.5,1253.3 275.5,1252.2 272.4,1251.1 269.4,1250.0 266.4,1248.8 263.4,1247.5 260.3,1246.2 257.3,1244.9 254.3,1243.6 251.2,1242.2 248.2,1240.8 245.2,1239.4 242.2,1238.0 239.1,1236.5 236.1,1235.1 233.1,1233.7 230.1,1232.3 227.0,1230.9 224.0,1229.5 221.0,1228.0 217.9,1226.5 214.9,1225.0 211.9,1223.5 208.9,1222.0 205.8,1220.5 202.8,1219.1 199.8,1217.8 196.8,1216.8 193.7,1215.9 190.7,1215.2 187.7,1215.0 184.6,1215.2 181.6,1215.6 178.6,1216.2 175.6,1217.1 172.5,1218.1 169.5,1219.3 166.5,1220.6 163.5,1221.9 160.4,1223.4 157.4,1224.9 154.4,1226.6 151.4,1228.2 148.3,1229.9 145.3,1231.6 142.3,1233.2 139.2,1234.9 136.2,1236.6 133.2,1238.4 130.2,1240.1 127.1,1241.8 124.1,1243.5 121.1,1245.2 118.1,1246.9 115.0,1248.6 112.0,1250.3" fill="#f08020" filter="url(#b1)"/>
<polygon points="112.0,1239.3 115.0,1237.6 118.1,1235.9 121.1,1234.2 124.1,1232.5 127.1,1230.8 130.2,1229.1 133.2,1227.4 136.2,1225.6 139.2,1223.9 142.3,1222.2 145.3,1220.6 148.3,1218.9 151.4,1217.2 154.4,1215.6 157.4,1213.9 160.4,1212.4 163.5,1210.9 166.5,1209.6 169.5,1208.3 172.5,1207.1 175.6,1206.1 178.6,1205.2 181.6,1204.6 184.6,1204.2 187.7,1204.0 190.7,1204.2 193.7,1204.9 196.8,1205.8 199.8,1206.8 202.8,1208.1 205.8,1209.4 208.9,1210.8 211.9,1212.2 214.9,1213.7 217.9,1215.1 221.0,1216.6 224.0,1218.0 227.0,1219.3 230.1,1220.7 233.1,1222.0 236.1,1223.4 239.1,1224.8 242.2,1226.1 245.2,1227.5 248.2,1228.8 251.2,1230.2 254.3,1231.5 257.3,1232.8 260.3,1234.0 263.4,1235.3 266.4,1236.4 269.4,1237.6 272.4,1238.7 275.5,1239.7 278.5,1240.8 281.5,1241.7 284.5,1242.7 287.6,1243.6 290.6,1244.5 293.6,1245.4 296.6,1246.3 299.7,1247.2 302.7,1248.0 305.7,1248.9 308.8,1249.7 311.8,1250.5 314.8,1251.4 317.8,1252.2 320.9,1253.1 323.9,1253.9 326.9,1254.6 329.9,1255.1 333.0,1255.5 336.0,1255.7 336.0,1268.7 333.0,1268.2 329.9,1267.6 326.9,1266.8 323.9,1265.9 320.9,1264.8 317.8,1263.7 314.8,1262.6 311.8,1261.5 308.8,1260.4 305.7,1259.3 302.7,1258.2 299.7,1257.2 296.6,1256.3 293.6,1255.4 290.6,1254.4 287.6,1253.5 284.5,1252.5 281.5,1251.6 278.5,1250.5 275.5,1249.5 272.4,1248.4 269.4,1247.3 266.4,1246.1 263.4,1244.9 260.3,1243.6 257.3,1242.3 254.3,1241.0 251.2,1239.7 248.2,1238.3 245.2,1236.9 242.2,1235.5 239.1,1234.1 236.1,1232.8 233.1,1231.4 230.1,1230.0 227.0,1228.6 224.0,1227.2 221.0,1225.8 217.9,1224.3 214.9,1222.8 211.9,1221.4 208.9,1219.9 205.8,1218.5 202.8,1217.1 199.8,1215.8 196.8,1214.8 193.7,1213.9 190.7,1213.2 187.7,1213.0 184.6,1213.2 181.6,1213.6 178.6,1214.2 175.6,1215.1 172.5,1216.1 169.5,1217.3 166.5,1218.6 163.5,1219.9 160.4,1221.4 157.4,1222.9 154.4,1224.6 151.4,1226.2 148.3,1227.9 145.3,1229.6 142.3,1231.2 139.2,1232.9 136.2,1234.6 133.2,1236.4 130.2,1238.1 127.1,1239.8 124.1,1241.5 121.1,1243.2 118.1,1244.9 115.0,1246.6 112.0,1248.3" fill="#d81000" filter="url(#b1)"/>
<polygon points="150.0,1218.0 153.1,1216.3 156.2,1214.6 159.3,1213.0 162.4,1211.4 165.5,1210.0 168.6,1208.7 171.7,1207.5 174.8,1206.3 177.9,1205.4 181.0,1204.7 184.0,1204.3 187.1,1204.0 190.2,1204.1 193.3,1204.8 196.4,1205.7 199.5,1206.7 202.6,1208.0 205.7,1209.4 208.8,1210.8 211.9,1212.3 215.0,1213.7 215.0,1221.7 211.9,1220.3 208.8,1218.8 205.7,1217.4 202.6,1216.0 199.5,1214.7 196.4,1213.7 193.3,1212.8 190.2,1212.1 187.1,1212.0 184.0,1212.3 181.0,1212.7 177.9,1213.4 174.8,1214.3 171.7,1215.5 168.6,1216.7 165.5,1218.0 162.4,1219.4 159.3,1221.0 156.2,1222.6 153.1,1224.3 150.0,1226.0" fill="#900000" filter="url(#b1)"/>
<polygon points="425.0,1207.7 428.1,1206.2 431.1,1205.0 434.2,1204.0 437.3,1203.3 440.3,1202.7 443.4,1202.3 446.5,1202.2 449.5,1202.2 452.6,1202.3 455.6,1202.2 458.7,1202.0 461.8,1201.9 464.8,1202.2 467.9,1202.9 471.0,1204.1 474.0,1205.5 477.1,1207.0 480.2,1208.6 483.2,1210.3 486.3,1211.9 489.4,1213.4 492.4,1215.0 495.5,1216.6 498.5,1218.3 501.6,1219.9 504.7,1221.5 507.7,1223.2 510.8,1224.7 513.9,1226.3 516.9,1227.8 520.0,1229.2 520.0,1255.2 516.9,1254.1 513.9,1252.8 510.8,1251.5 507.7,1250.2 504.7,1248.8 501.6,1247.5 498.5,1246.1 495.5,1244.7 492.4,1243.3 489.4,1242.0 486.3,1240.7 483.2,1239.4 480.2,1238.0 477.1,1236.6 474.0,1235.3 471.0,1234.2 467.9,1233.3 464.8,1232.8 461.8,1232.8 458.7,1233.1 455.6,1233.6 452.6,1234.0 449.5,1234.2 446.5,1234.4 443.4,1234.8 440.3,1235.4 437.3,1236.2 434.2,1237.2 431.1,1238.5 428.1,1240.0 425.0,1241.7" fill="#f0e840" filter="url(#b2)"/>
<polygon points="332.0,1255.4 335.0,1255.6 338.1,1255.7 341.1,1255.7 344.1,1255.6 347.2,1255.3 350.2,1254.8 353.2,1254.2 356.3,1253.2 359.3,1251.9 362.3,1250.2 365.4,1248.1 368.4,1245.9 371.4,1243.7 374.5,1241.7 377.5,1239.6 380.5,1237.4 383.5,1235.2 386.6,1233.1 389.6,1230.9 392.6,1228.7 395.7,1226.6 398.7,1224.5 401.7,1222.5 404.8,1220.4 407.8,1218.4 410.8,1216.4 413.9,1214.4 416.9,1212.5 419.9,1210.6 423.0,1208.8 426.0,1207.2 429.0,1205.8 432.1,1204.6 435.1,1203.7 438.1,1203.1 441.2,1202.5 444.2,1202.3 447.2,1202.2 450.3,1202.2 453.3,1202.3 456.3,1202.2 459.4,1201.9 462.4,1201.9 465.4,1202.3 468.5,1203.1 471.5,1204.3 474.5,1205.7 477.5,1207.3 480.6,1208.9 483.6,1210.5 486.6,1212.1 489.7,1213.6 492.7,1215.2 495.7,1216.8 498.8,1218.4 501.8,1220.0 504.8,1221.6 507.9,1223.2 510.9,1224.8 513.9,1226.3 517.0,1227.8 520.0,1229.2 520.0,1247.2 517.0,1245.9 513.9,1244.6 510.9,1243.2 507.9,1241.7 504.8,1240.2 501.8,1238.7 498.8,1237.2 495.7,1235.7 492.7,1234.3 489.7,1232.8 486.6,1231.4 483.6,1229.9 480.6,1228.4 477.5,1226.9 474.5,1225.5 471.5,1224.2 468.5,1223.2 465.4,1222.5 462.4,1222.2 459.4,1222.4 456.3,1222.8 453.3,1223.0 450.3,1223.1 447.2,1223.2 444.2,1223.4 441.2,1223.8 438.1,1224.5 435.1,1225.3 432.1,1226.3 429.0,1227.6 426.0,1229.2 423.0,1231.0 419.9,1233.0 416.9,1235.2 413.9,1237.4 410.8,1239.6 407.8,1241.9 404.8,1244.2 401.7,1246.5 398.7,1248.8 395.7,1251.1 392.6,1253.5 389.6,1255.9 386.6,1258.4 383.5,1260.8 380.5,1263.2 377.5,1265.6 374.5,1268.0 371.4,1270.3 368.4,1272.7 365.4,1275.2 362.3,1277.6 359.3,1279.6 356.3,1281.1 353.2,1282.3 350.2,1283.3 347.2,1284.0 344.1,1284.5 341.1,1284.9 338.1,1285.2 335.0,1285.4 332.0,1285.4" fill="#f08020" filter="url(#b2)"/>
<polygon points="332.0,1255.4 335.0,1255.6 338.1,1255.7 341.1,1255.7 344.1,1255.6 347.2,1255.3 350.2,1254.8 353.2,1254.2 356.3,1253.2 359.3,1251.9 362.3,1250.2 365.4,1248.1 368.4,1245.9 371.4,1243.7 374.5,1241.7 377.5,1239.6 380.5,1237.4 383.5,1235.2 386.6,1233.1 389.6,1230.9 392.6,1228.7 395.7,1226.6 398.7,1224.5 401.7,1222.5 404.8,1220.4 407.8,1218.4 410.8,1216.4 413.9,1214.4 416.9,1212.5 419.9,1210.6 423.0,1208.8 426.0,1207.2 429.0,1205.8 432.1,1204.6 435.1,1203.7 438.1,1203.1 441.2,1202.5 444.2,1202.3 447.2,1202.2 450.3,1202.2 453.3,1202.3 456.3,1202.2 459.4,1201.9 462.4,1201.9 465.4,1202.3 468.5,1203.1 471.5,1204.3 474.5,1205.7 477.5,1207.3 480.6,1208.9 483.6,1210.5 486.6,1212.1 489.7,1213.6 492.7,1215.2 495.7,1216.8 498.8,1218.4 501.8,1220.0 504.8,1221.6 507.9,1223.2 510.9,1224.8 513.9,1226.3 517.0,1227.8 520.0,1229.2 520.0,1243.2 517.0,1241.9 513.9,1240.4 510.9,1239.0 507.9,1237.5 504.8,1235.9 501.8,1234.4 498.8,1232.8 495.7,1231.3 492.7,1229.7 489.7,1228.2 486.6,1226.7 483.6,1225.2 480.6,1223.6 477.5,1222.1 474.5,1220.6 471.5,1219.3 468.5,1218.2 465.4,1217.4 462.4,1217.1 459.4,1217.2 456.3,1217.5 453.3,1217.7 450.3,1217.7 447.2,1217.7 444.2,1217.8 441.2,1218.2 438.1,1218.8 435.1,1219.5 432.1,1220.5 429.0,1221.7 426.0,1223.2 423.0,1224.9 419.9,1226.8 416.9,1228.8 413.9,1230.9 410.8,1233.0 407.8,1235.1 404.8,1237.3 401.7,1239.5 398.7,1241.7 395.7,1243.9 392.6,1246.1 389.6,1248.4 386.6,1250.7 383.5,1253.0 380.5,1255.3 377.5,1257.6 374.5,1259.8 371.4,1262.0 368.4,1264.3 365.4,1266.6 362.3,1268.9 359.3,1270.7 356.3,1272.2 353.2,1273.2 350.2,1274.0 347.2,1274.6 344.1,1275.1 341.1,1275.3 338.1,1275.5 335.0,1275.5 332.0,1275.4" fill="#d01000" filter="url(#b1)"/>
<polygon points="332.0,1255.4 335.0,1255.6 338.1,1255.7 341.1,1255.7 344.1,1255.6 347.2,1255.3 350.2,1254.8 353.2,1254.2 356.3,1253.2 359.3,1251.9 362.3,1250.2 365.4,1248.1 368.4,1245.9 371.4,1243.7 374.5,1241.7 377.5,1239.6 380.5,1237.4 383.5,1235.2 386.6,1233.1 389.6,1230.9 392.6,1228.7 395.7,1226.6 398.7,1224.5 401.7,1222.5 404.8,1220.4 407.8,1218.4 410.8,1216.4 413.9,1214.4 416.9,1212.5 419.9,1210.6 423.0,1208.8 426.0,1207.2 429.0,1205.8 432.1,1204.6 435.1,1203.7 438.1,1203.1 441.2,1202.5 444.2,1202.3 447.2,1202.2 450.3,1202.2 453.3,1202.3 456.3,1202.2 459.4,1201.9 462.4,1201.9 465.4,1202.3 468.5,1203.1 471.5,1204.3 474.5,1205.7 477.5,1207.3 480.6,1208.9 483.6,1210.5 486.6,1212.1 489.7,1213.6 492.7,1215.2 495.7,1216.8 498.8,1218.4 501.8,1220.0 504.8,1221.6 507.9,1223.2 510.9,1224.8 513.9,1226.3 517.0,1227.8 520.0,1229.2 520.0,1239.2 517.0,1237.9 513.9,1236.4 510.9,1235.0 507.9,1233.5 504.8,1231.9 501.8,1230.4 498.8,1228.8 495.7,1227.3 492.7,1225.7 489.7,1224.2 486.6,1222.7 483.6,1221.2 480.6,1219.6 477.5,1218.1 474.5,1216.6 471.5,1215.3 468.5,1214.2 465.4,1213.4 462.4,1213.1 459.4,1213.2 456.3,1213.5 453.3,1213.7 450.3,1213.7 447.2,1213.7 444.2,1213.8 441.2,1214.2 438.1,1214.8 435.1,1215.5 432.1,1216.5 429.0,1217.7 426.0,1219.2 423.0,1220.9 419.9,1222.9 416.9,1224.9 413.9,1227.0 410.8,1229.2 407.8,1231.3 404.8,1233.5 401.7,1235.7 398.7,1238.0 395.7,1240.2 392.6,1242.5 389.6,1244.8 386.6,1247.1 383.5,1249.5 380.5,1251.8 377.5,1254.1 374.5,1256.4 371.4,1258.6 368.4,1260.9 365.4,1263.3 362.3,1265.5 359.3,1267.4 356.3,1268.9 353.2,1270.0 350.2,1270.9 347.2,1271.5 344.1,1271.9 341.1,1272.2 338.1,1272.4 335.0,1272.5 332.0,1272.4" fill="#7a0000" filter="url(#b1)"/>
<polygon points="514.0,1252.1 532.0,1234.1 536.0,1237.1 518.0,1255.1" fill="#f0e040" filter="url(#b1)"/>
<polygon points="526.0,1231.9 529.0,1233.3 532.0,1234.5 535.0,1235.8 538.0,1237.0 541.0,1238.2 544.0,1239.3 547.0,1240.4 550.0,1241.5 553.0,1242.5 556.0,1243.5 559.0,1244.6 562.0,1245.6 565.0,1246.6 568.0,1247.6 571.0,1248.5 574.0,1249.5 577.0,1250.4 580.0,1251.3 583.0,1252.1 586.0,1252.9 589.0,1253.6 592.0,1254.3 595.0,1254.8 598.0,1255.3 601.0,1255.6 604.0,1255.8 607.0,1255.9 610.0,1255.9 613.0,1255.8 616.0,1255.8 619.0,1255.7 622.0,1255.6 625.0,1255.6 625.0,1287.6 622.0,1287.6 619.0,1287.7 616.0,1287.8 613.0,1287.8 610.0,1287.9 607.0,1287.9 604.0,1287.8 601.0,1287.6 598.0,1287.3 595.0,1286.8 592.0,1286.3 589.0,1285.6 586.0,1284.9 583.0,1284.1 580.0,1283.3 577.0,1282.4 574.0,1281.5 571.0,1280.5 568.0,1279.6 565.0,1278.6 562.0,1277.6 559.0,1276.6 556.0,1275.5 553.0,1274.5 550.0,1273.5 547.0,1272.4 544.0,1271.3 541.0,1270.2 538.0,1269.0 535.0,1267.8 532.0,1266.5 529.0,1265.3 526.0,1263.9" fill="#f09020" filter="url(#b2)"/>
<polygon points="526.0,1231.9 529.0,1233.3 532.0,1234.5 535.0,1235.8 538.0,1237.0 541.0,1238.2 544.0,1239.3 547.0,1240.4 550.0,1241.5 553.0,1242.5 556.0,1243.5 559.0,1244.6 562.0,1245.6 565.0,1246.6 568.0,1247.6 571.0,1248.5 574.0,1249.5 577.0,1250.4 580.0,1251.3 583.0,1252.1 586.0,1252.9 589.0,1253.6 592.0,1254.3 595.0,1254.8 598.0,1255.3 601.0,1255.6 604.0,1255.8 607.0,1255.9 610.0,1255.9 613.0,1255.8 616.0,1255.8 619.0,1255.7 622.0,1255.6 625.0,1255.6 625.0,1279.6 622.0,1279.6 619.0,1279.7 616.0,1279.8 613.0,1279.8 610.0,1279.9 607.0,1279.9 604.0,1279.8 601.0,1279.6 598.0,1279.3 595.0,1278.8 592.0,1278.3 589.0,1277.6 586.0,1276.9 583.0,1276.1 580.0,1275.3 577.0,1274.4 574.0,1273.5 571.0,1272.5 568.0,1271.6 565.0,1270.6 562.0,1269.6 559.0,1268.6 556.0,1267.5 553.0,1266.5 550.0,1265.5 547.0,1264.4 544.0,1263.3 541.0,1262.2 538.0,1261.0 535.0,1259.8 532.0,1258.5 529.0,1257.3 526.0,1255.9" fill="#d01000" filter="url(#b1)"/>
<polygon points="526.0,1231.9 529.0,1233.3 532.0,1234.5 535.0,1235.8 538.0,1237.0 541.0,1238.2 544.0,1239.3 547.0,1240.4 550.0,1241.5 553.0,1242.5 556.0,1243.5 559.0,1244.6 562.0,1245.6 565.0,1246.6 568.0,1247.6 571.0,1248.5 574.0,1249.5 577.0,1250.4 580.0,1251.3 583.0,1252.1 586.0,1252.9 589.0,1253.6 592.0,1254.3 595.0,1254.8 598.0,1255.3 601.0,1255.6 604.0,1255.8 607.0,1255.9 610.0,1255.9 613.0,1255.8 616.0,1255.8 619.0,1255.7 622.0,1255.6 625.0,1255.6 625.0,1273.6 622.0,1273.5 619.0,1273.5 616.0,1273.6 613.0,1273.6 610.0,1273.6 607.0,1273.5 604.0,1273.3 601.0,1273.1 598.0,1272.7 595.0,1272.2 592.0,1271.6 589.0,1270.9 586.0,1270.1 583.0,1269.2 580.0,1268.3 577.0,1267.4 574.0,1266.4 571.0,1265.4 568.0,1264.4 565.0,1263.4 562.0,1262.3 559.0,1261.2 556.0,1260.2 553.0,1259.1 550.0,1258.0 547.0,1256.8 544.0,1255.7 541.0,1254.5 538.0,1253.2 535.0,1252.0 532.0,1250.7 529.0,1249.3 526.0,1247.9" fill="#7a0000" filter="url(#b1)"/>
<path d="M156.6,1366.3 L144.8,1344.6 L148.8,1313.1 L146.8,1277.7 L150.7,1273.8 L154.7,1234.4 L158.6,1220.6 L186.2,1216.7 L207.8,1224.5 L266.9,1252.1 L329.9,1285.6 L335.8,1352.5 L320.1,1368.3 L314.2,1366.3" fill="none" stroke="#fff" stroke-width="2.0" stroke-linejoin="round" stroke-linecap="round" stroke-opacity="0.95"/>
<path d="M70.0,1366.3 L105.4,1368.3 L117.3,1364.3 L129.1,1366.3 L138.9,1362.4 L144.8,1363.9" fill="none" stroke="#fff" stroke-width="2.0" stroke-linejoin="round" stroke-linecap="round" stroke-opacity="0.95"/>
<path d="M158.6,1379.1 L166.5,1364.3 L219.6,1363.4 L266.9,1364.3 L310.2,1366.3 L316.1,1370.2 L333.9,1360.4 L350.0,1366.3" fill="none" stroke="#fff" stroke-width="2.0" stroke-linejoin="round" stroke-linecap="round" stroke-opacity="0.95"/>
<path d="M437.5,1364.3 L427.7,1332.8 L431.6,1238.3 L443.5,1228.5 L469.1,1230.4 L522.2,1258.0 L551.8,1281.6 L585.2,1307.2 L581.3,1344.6 L567.5,1358.4 L569.5,1364.3 L601.0,1368.3 L625.0,1366.3" fill="none" stroke="#fff" stroke-width="2.0" stroke-linejoin="round" stroke-linecap="round" stroke-opacity="0.95"/>
<path d="M345.0,1366.3 L370.6,1367.3 L396.2,1362.4 L423.8,1362.4 L439.5,1364.3 L453.3,1362.4 L451.3,1379.1" fill="none" stroke="#fff" stroke-width="2.0" stroke-linejoin="round" stroke-linecap="round" stroke-opacity="0.95"/>
<path d="M453.3,1366.3 L526.2,1364.3 L532.1,1379.1" fill="none" stroke="#fff" stroke-width="2.0" stroke-linejoin="round" stroke-linecap="round" stroke-opacity="0.95"/>
</g>
</g>
<line x1="109.7" y1="1" x2="109.7" y2="180.5" stroke="#111" stroke-width="3.4" stroke-dasharray="8,9"/>
<line x1="263.3" y1="1" x2="263.3" y2="180.5" stroke="#111" stroke-width="3.4" stroke-dasharray="8,9"/>
<line x1="383.9" y1="1" x2="383.9" y2="180.5" stroke="#111" stroke-width="3.4" stroke-dasharray="8,9"/>
<text transform="translate(-10.0,14.3) scale(0.920,1)" font-family='"Liberation Serif", serif' font-size="23.5" font-weight="bold" text-anchor="end" >3</text>
<text transform="translate(-10.0,48.7) scale(0.920,1)" font-family='"Liberation Serif", serif' font-size="23.5" font-weight="bold" text-anchor="end" >0</text>
<text transform="translate(-10.0,83.1) scale(0.920,1)" font-family='"Liberation Serif", serif' font-size="23.5" font-weight="bold" text-anchor="end" >-3</text>
<text transform="translate(-10.0,117.5) scale(0.920,1)" font-family='"Liberation Serif", serif' font-size="23.5" font-weight="bold" text-anchor="end" >-6</text>
<text transform="translate(-10.0,151.9) scale(0.920,1)" font-family='"Liberation Serif", serif' font-size="23.5" font-weight="bold" text-anchor="end" >-9</text>
<text transform="translate(-10.0,186.3) scale(0.920,1)" font-family='"Liberation Serif", serif' font-size="23.5" font-weight="bold" text-anchor="end" >-12</text>
<rect x="557.0" y="0.5" width="29" height="179" fill="url(#jet)" stroke="#333" stroke-width="1"/>
<text transform="translate(595.5,9.0) scale(0.950,1)" font-family='"Liberation Serif", serif' font-size="23.5" font-weight="bold" text-anchor="start" >4</text>
<text transform="translate(595.5,54.2) scale(0.950,1)" font-family='"Liberation Serif", serif' font-size="23.5" font-weight="bold" text-anchor="start" >2</text>
<text transform="translate(595.5,99.4) scale(0.950,1)" font-family='"Liberation Serif", serif' font-size="23.5" font-weight="bold" text-anchor="start" >0</text>
<text transform="translate(595.5,144.6) scale(0.950,1)" font-family='"Liberation Serif", serif' font-size="23.5" font-weight="bold" text-anchor="start" >-2</text>
<text transform="translate(595.5,189.8) scale(0.950,1)" font-family='"Liberation Serif", serif' font-size="23.5" font-weight="bold" text-anchor="start" >-4</text>
<text x="547.0" y="-12" font-family='"Liberation Serif", serif' font-size="21" font-weight="bold">m<tspan font-weight="normal">&#183;</tspan>s<tspan dy="-9" font-size="15">-2</tspan><tspan dy="9" dx="-7" font-weight="normal" font-size="25">&#215;</tspan><tspan dx="3" font-size="23" font-weight="normal">10</tspan><tspan dy="-10" dx="2" font-size="15" font-weight="bold">-4</tspan></text>
<text x="-64.8" y="-10.0" font-family='"Liberation Sans", sans-serif' font-size="43" font-weight="bold">F</text>
<text x="40.5" y="-11.2" font-family='"Liberation Serif", serif' font-size="29" font-weight="bold" textLength="245.0" lengthAdjust="spacingAndGlyphs">(a)+(b)+(c)+(d)+(e)</text>
</g>
<g transform="translate(777.0,39.0)">
<path d="M0,180.5 L0,0 L548.5,0 L548.5,180.5" fill="none" stroke="#444" stroke-width="3"/>
<line x1="0" y1="6.5" x2="6" y2="6.5" stroke="#444" stroke-width="2.5"/>
<line x1="542.5" y1="6.5" x2="548.5" y2="6.5" stroke="#444" stroke-width="2.5"/>
<line x1="0" y1="40.9" x2="6" y2="40.9" stroke="#444" stroke-width="2.5"/>
<line x1="542.5" y1="40.9" x2="548.5" y2="40.9" stroke="#444" stroke-width="2.5"/>
<line x1="0" y1="75.3" x2="6" y2="75.3" stroke="#444" stroke-width="2.5"/>
<line x1="542.5" y1="75.3" x2="548.5" y2="75.3" stroke="#444" stroke-width="2.5"/>
<line x1="0" y1="109.7" x2="6" y2="109.7" stroke="#444" stroke-width="2.5"/>
<line x1="542.5" y1="109.7" x2="548.5" y2="109.7" stroke="#444" stroke-width="2.5"/>
<line x1="0" y1="144.1" x2="6" y2="144.1" stroke="#444" stroke-width="2.5"/>
<line x1="542.5" y1="144.1" x2="548.5" y2="144.1" stroke="#444" stroke-width="2.5"/>
<line x1="0" y1="178.5" x2="6" y2="178.5" stroke="#444" stroke-width="2.5"/>
<line x1="542.5" y1="178.5" x2="548.5" y2="178.5" stroke="#444" stroke-width="2.5"/>
<g clip-path="url(#wave)">
<rect x="-2" y="-1" width="552.5" height="182.0" fill="#b2f084"/>
<g transform="translate(-777.0,-39.0)">
<polygon points="777.0,98.1 779.8,96.8 782.6,95.6 785.5,94.3 788.3,93.1 791.1,91.8 794.0,90.5 796.8,89.1 799.6,87.8 802.4,86.4 805.2,85.1 808.1,83.7 810.9,82.2 813.7,80.7 816.5,79.2 819.4,77.7 822.2,76.1 825.0,74.6 827.9,73.0 830.7,71.4 833.5,69.7 836.3,68.1 839.1,66.5 842.0,64.9 844.8,63.3 847.6,61.8 850.5,60.2 853.3,58.6 856.1,57.1 858.9,55.5 861.8,54.0 864.6,52.6 867.4,51.2 870.2,49.9 873.0,48.7 875.9,47.6 878.7,46.5 881.5,45.6 884.4,44.9 887.2,44.5 890.0,44.1 890.0,64.1 887.2,64.5 884.4,64.9 881.5,65.6 878.7,66.5 875.9,67.6 873.0,68.7 870.2,69.9 867.4,71.2 864.6,72.6 861.8,74.0 858.9,75.5 856.1,77.1 853.3,78.6 850.5,80.2 847.6,81.8 844.8,83.3 842.0,84.9 839.1,86.5 836.3,88.1 833.5,89.7 830.7,91.4 827.9,93.0 825.0,94.6 822.2,96.1 819.4,97.7 816.5,99.2 813.7,100.7 810.9,102.2 808.1,103.7 805.2,105.1 802.4,106.4 799.6,107.8 796.8,109.1 794.0,110.5 791.1,111.8 788.3,113.1 785.5,114.3 782.6,115.6 779.8,116.8 777.0,118.1" fill="#9cf0b8" filter="url(#b8)"/>
<polygon points="897.1,52.7 952.2,66.5 1038.9,100.0 1040.8,184.6 1015.2,165.0 997.5,161.0 973.9,198.4 960.1,176.8 952.2,123.6 914.8,117.7 908.9,92.1" fill="#c6f058" filter="url(#b10)"/>
<ellipse cx="944.3" cy="76.4" rx="20.0" ry="12.0" fill="#e8f438" filter="url(#b8)"/>
<ellipse cx="997.5" cy="117.7" rx="28.0" ry="18.0" fill="#e0f040" filter="url(#b12)"/>
<ellipse cx="818.3" cy="210.2" rx="40.0" ry="14.0" fill="#c8f050" filter="url(#b10)"/>
<polygon points="903.0,188.6 1038.9,188.6 1038.9,220.1 903.0,220.1" fill="#9cf0c0" filter="url(#b14)"/>
<polygon points="1042.8,196.5 1055.0,196.5 1055.0,220.1 1042.8,220.1" fill="#f07020" filter="url(#b5)"/>
<polygon points="1050.0,100.0 1138.6,46.8 1170.1,48.8 1176.0,145.3 1160.3,165.0 1138.6,153.1 1128.8,141.3 1120.9,139.4 1116.9,149.2 1101.2,153.1 1085.4,168.9 1059.8,198.4 1050.0,196.5" fill="#96f0c8" filter="url(#b6)"/>
<polygon points="1053.9,100.0 1138.6,48.8 1160.3,50.8 1109.1,113.8 1061.8,133.5" fill="#80f0f0" filter="url(#b14)"/>
<ellipse cx="1083.5" cy="88.2" rx="8.0" ry="5.0" fill="#4a90f0" filter="url(#b4)"/>
<polygon points="1050.0,198.4 1059.8,198.4 1085.4,168.9 1101.2,153.1 1116.9,149.2 1120.9,139.4 1128.8,141.3 1138.6,153.1 1160.3,165.0 1168.1,188.6 1180.0,206.3 1172.1,220.1 1050.0,220.1" fill="#c8f050" filter="url(#b6)"/>
<polygon points="1050.0,192.5 1160.3,192.5 1160.3,220.1 1050.0,220.1" fill="#eaf038" filter="url(#b12)"/>
<ellipse cx="1071.7" cy="212.2" rx="26.0" ry="6.0" fill="#e02010" filter="url(#b5)"/>
<ellipse cx="1126.8" cy="211.2" rx="24.0" ry="5.0" fill="#f0a030" filter="url(#b5)"/>
<polygon points="1170.1,48.8 1306.0,100.0 1325.7,100.0 1325.7,208.3 1311.9,202.4 1304.0,186.6 1262.7,182.7 1237.1,172.8 1213.4,159.1 1180.0,168.9 1176.0,145.3" fill="#d8f048" filter="url(#b8)"/>
<polygon points="1207.5,84.2 1266.6,94.1 1286.3,129.5 1227.2,133.5 1207.5,113.8" fill="#ecf238" filter="url(#b16)"/>
<ellipse cx="1221.3" cy="86.2" rx="14.0" ry="5.0" fill="#f0c030" transform="rotate(20.0 1221.3 86.2)" filter="url(#b4)"/>
<polygon points="1180.0,170.9 1213.4,161.0 1237.1,174.8 1262.7,184.6 1304.0,188.6 1311.9,204.3 1325.7,210.2 1325.7,220.1 1172.1,220.1 1180.0,206.3 1168.1,188.6" fill="#98f2c8" filter="url(#b5)"/>
<ellipse cx="1246.9" cy="212.2" rx="66.0" ry="10.0" fill="#80f0f0" filter="url(#b6)"/>
<ellipse cx="1246.9" cy="215.2" rx="58.0" ry="4.0" fill="#3c88f0" filter="url(#b3)"/>
<path d="M775.0,133.5 L794.7,125.6 L800.6,125.6 L816.4,113.8 L820.3,101.9 L840.0,87.2 L863.6,85.2 L873.5,90.1 L867.5,96.0 L883.3,115.7 L885.3,133.5 L889.2,153.1 L895.1,168.9 L897.1,188.6 L901.0,202.4 L895.1,219.1" fill="none" stroke="#fff" stroke-width="2.0" stroke-linejoin="round" stroke-linecap="round" stroke-opacity="0.95"/>
<path d="M824.2,115.7 L857.7,121.6 L843.9,125.6 L826.2,117.7 L824.2,115.7" fill="none" stroke="#fff" stroke-width="2.0" stroke-linejoin="round" stroke-linecap="round" stroke-opacity="0.95"/>
<path d="M812.4,149.2 L820.3,143.3 L832.1,153.1 L822.3,157.1 L812.4,149.2" fill="none" stroke="#fff" stroke-width="2.0" stroke-linejoin="round" stroke-linecap="round" stroke-opacity="0.95"/>
<path d="M778.9,133.5 L796.7,125.6 L816.4,136.4 L794.7,129.5 L782.9,135.4 L778.9,133.5" fill="none" stroke="#fff" stroke-width="2.0" stroke-linejoin="round" stroke-linecap="round" stroke-opacity="0.95"/>
<path d="M775.0,109.8 L786.8,109.8 L778.9,117.7 L790.8,125.6" fill="none" stroke="#fff" stroke-width="2.0" stroke-linejoin="round" stroke-linecap="round" stroke-opacity="0.95"/>
<path d="M775.0,151.2 L782.9,153.1 L777.0,157.1" fill="none" stroke="#fff" stroke-width="2.0" stroke-linejoin="round" stroke-linecap="round" stroke-opacity="0.95"/>
<path d="M775.0,170.9 L782.9,172.8 L777.0,176.8 L780.9,188.6 L786.8,192.5 L778.9,198.4 L794.7,204.3 L782.9,208.3 L780.9,219.1" fill="none" stroke="#fff" stroke-width="2.0" stroke-linejoin="round" stroke-linecap="round" stroke-opacity="0.95"/>
<path d="M893.1,49.8 L893.1,78.3 L908.9,92.1 L914.8,117.7 L950.2,123.6 L956.2,133.5 L960.1,176.8 L973.9,200.4 L997.5,161.0 L1015.2,166.9 L1029.0,180.7 L1040.8,186.6 L1044.8,157.1 L1045.7,123.6 L1042.8,101.9" fill="none" stroke="#fff" stroke-width="2.0" stroke-linejoin="round" stroke-linecap="round" stroke-opacity="0.95"/>
<path d="M902.0,94.1 L906.9,92.1 L903.0,99.0 L902.0,94.1" fill="none" stroke="#fff" stroke-width="2.0" stroke-linejoin="round" stroke-linecap="round" stroke-opacity="0.95"/>
<path d="M971.9,82.3 L979.8,86.6 L973.9,90.1" fill="none" stroke="#fff" stroke-width="2.0" stroke-linejoin="round" stroke-linecap="round" stroke-opacity="0.95"/>
<path d="M1040.8,194.5 L1055.0,202.4" fill="none" stroke="#fff" stroke-width="2.0" stroke-linejoin="round" stroke-linecap="round" stroke-opacity="0.95"/>
<path d="M1050.0,196.5 L1059.8,198.4 L1085.4,168.9 L1101.2,153.1 L1116.9,149.2 L1120.9,139.4 L1128.8,141.3 L1138.6,153.1 L1160.3,165.0 L1168.1,188.6 L1180.0,206.3 L1172.1,219.1" fill="none" stroke="#fff" stroke-width="2.0" stroke-linejoin="round" stroke-linecap="round" stroke-opacity="0.95"/>
<path d="M1170.1,48.8 L1176.0,145.3 L1180.0,168.9 L1213.4,159.1 L1237.1,172.8 L1262.7,182.7 L1304.0,186.6 L1311.9,202.4 L1327.6,208.3" fill="none" stroke="#fff" stroke-width="2.0" stroke-linejoin="round" stroke-linecap="round" stroke-opacity="0.95"/>
<path d="M1315.8,100.0 L1319.8,137.4 L1327.6,141.3" fill="none" stroke="#fff" stroke-width="2.0" stroke-linejoin="round" stroke-linecap="round" stroke-opacity="0.95"/>
</g>
</g>
<line x1="109.7" y1="1" x2="109.7" y2="180.5" stroke="#111" stroke-width="3.4" stroke-dasharray="8,9"/>
<line x1="263.3" y1="1" x2="263.3" y2="180.5" stroke="#111" stroke-width="3.4" stroke-dasharray="8,9"/>
<line x1="383.9" y1="1" x2="383.9" y2="180.5" stroke="#111" stroke-width="3.4" stroke-dasharray="8,9"/>
<text transform="translate(-10.0,14.3) scale(0.920,1)" font-family='"Liberation Serif", serif' font-size="23.5" font-weight="bold" text-anchor="end" >3</text>
<text transform="translate(-10.0,48.7) scale(0.920,1)" font-family='"Liberation Serif", serif' font-size="23.5" font-weight="bold" text-anchor="end" >0</text>
<text transform="translate(-10.0,83.1) scale(0.920,1)" font-family='"Liberation Serif", serif' font-size="23.5" font-weight="bold" text-anchor="end" >-3</text>
<text transform="translate(-10.0,117.5) scale(0.920,1)" font-family='"Liberation Serif", serif' font-size="23.5" font-weight="bold" text-anchor="end" >-6</text>
<text transform="translate(-10.0,151.9) scale(0.920,1)" font-family='"Liberation Serif", serif' font-size="23.5" font-weight="bold" text-anchor="end" >-9</text>
<text transform="translate(-10.0,186.3) scale(0.920,1)" font-family='"Liberation Serif", serif' font-size="23.5" font-weight="bold" text-anchor="end" >-12</text>
<rect x="557.0" y="0.5" width="29" height="179" fill="url(#jet)" stroke="#333" stroke-width="1"/>
<text transform="translate(595.5,9.0) scale(0.950,1)" font-family='"Liberation Serif", serif' font-size="23.5" font-weight="bold" text-anchor="start" >2</text>
<text transform="translate(595.5,54.2) scale(0.950,1)" font-family='"Liberation Serif", serif' font-size="23.5" font-weight="bold" text-anchor="start" >1</text>
<text transform="translate(595.5,99.4) scale(0.950,1)" font-family='"Liberation Serif", serif' font-size="23.5" font-weight="bold" text-anchor="start" >0</text>
<text transform="translate(595.5,144.6) scale(0.950,1)" font-family='"Liberation Serif", serif' font-size="23.5" font-weight="bold" text-anchor="start" >-1</text>
<text transform="translate(595.5,189.8) scale(0.950,1)" font-family='"Liberation Serif", serif' font-size="23.5" font-weight="bold" text-anchor="start" >-2</text>
<text x="547.0" y="-12" font-family='"Liberation Serif", serif' font-size="21" font-weight="bold">m<tspan font-weight="normal">&#183;</tspan>s<tspan dy="-9" font-size="15">-2</tspan><tspan dy="9" dx="-7" font-weight="normal" font-size="25">&#215;</tspan><tspan dx="3" font-size="23" font-weight="normal">10</tspan><tspan dy="-10" dx="2" font-size="15" font-weight="bold">-4</tspan></text>
<text x="-57.1" y="-3.8" font-family='"Liberation Sans", sans-serif' font-size="43" font-weight="bold">G</text>
<text x="49.0" y="-11.2" font-family='"Liberation Serif", serif' font-size="29" font-weight="bold" textLength="256.0" lengthAdjust="spacingAndGlyphs">Nonlinear-advection</text>
</g>
<g transform="translate(777.0,271.0)">
<path d="M0,180.5 L0,0 L548.5,0 L548.5,180.5" fill="none" stroke="#444" stroke-width="3"/>
<line x1="0" y1="6.5" x2="6" y2="6.5" stroke="#444" stroke-width="2.5"/>
<line x1="542.5" y1="6.5" x2="548.5" y2="6.5" stroke="#444" stroke-width="2.5"/>
<line x1="0" y1="40.9" x2="6" y2="40.9" stroke="#444" stroke-width="2.5"/>
<line x1="542.5" y1="40.9" x2="548.5" y2="40.9" stroke="#444" stroke-width="2.5"/>
<line x1="0" y1="75.3" x2="6" y2="75.3" stroke="#444" stroke-width="2.5"/>
<line x1="542.5" y1="75.3" x2="548.5" y2="75.3" stroke="#444" stroke-width="2.5"/>
<line x1="0" y1="109.7" x2="6" y2="109.7" stroke="#444" stroke-width="2.5"/>
<line x1="542.5" y1="109.7" x2="548.5" y2="109.7" stroke="#444" stroke-width="2.5"/>
<line x1="0" y1="144.1" x2="6" y2="144.1" stroke="#444" stroke-width="2.5"/>
<line x1="542.5" y1="144.1" x2="548.5" y2="144.1" stroke="#444" stroke-width="2.5"/>
<line x1="0" y1="178.5" x2="6" y2="178.5" stroke="#444" stroke-width="2.5"/>
<line x1="542.5" y1="178.5" x2="548.5" y2="178.5" stroke="#444" stroke-width="2.5"/>
<g clip-path="url(#wave)">
<rect x="-2" y="-1" width="552.5" height="182.0" fill="#b4f27a"/>
<g transform="translate(-777.0,-271.0)">
<polygon points="775.0,267.0 1055.0,267.0 1055.0,379.2 1031.0,365.5 960.1,337.9 946.3,328.0 910.9,323.1 885.3,319.2 865.6,326.1 853.8,341.8 859.7,350.7 832.1,351.7 845.9,363.5 826.2,373.3 814.4,365.5 792.7,357.6 775.0,355.6" fill="#96f0bc"/>
<polygon points="775.0,332.0 885.3,280.8 912.8,282.8 1055.0,332.0 1055.0,345.8 912.8,302.4 885.3,300.5 775.0,349.7" fill="#8ef0c8" filter="url(#b12)"/>
<polygon points="903.0,375.3 1031.0,385.1 1055.0,454.1 893.1,454.1" fill="#c0f060" filter="url(#b20)"/>
<ellipse cx="1054.6" cy="448.2" rx="14.0" ry="10.0" fill="#d8f048" filter="url(#b8)"/>
<polygon points="1050.0,267.0 1330.0,267.0 1330.0,373.3 1300.1,361.5 1280.4,357.6 1203.6,331.0 1207.5,335.9 1195.7,345.8 1185.9,344.8 1187.8,330.0 1160.3,328.0 1148.5,322.1 1107.1,335.9 1097.3,351.7 1083.5,361.5 1065.8,384.2 1050.0,373.3" fill="#96f0bc"/>
<polygon points="1050.0,332.0 1138.6,278.8 1172.1,278.8 1325.7,332.0 1325.7,349.7 1172.1,300.5 1138.6,300.5 1050.0,361.5" fill="#8ef0c8" filter="url(#b12)"/>
<ellipse cx="1059.8" cy="355.6" rx="12.0" ry="25.0" fill="#88f0d8" filter="url(#b8)"/>
<polygon points="1168.1,375.3 1306.0,375.3 1325.7,454.1 1168.1,454.1" fill="#c4f060" filter="url(#b20)"/>
<ellipse cx="1057.9" cy="448.2" rx="14.0" ry="10.0" fill="#d8f048" filter="url(#b8)"/>
<path d="M775.0,355.6 L792.7,357.6 L814.4,365.5 L826.2,373.3 L845.9,363.5 L832.1,351.7 L859.7,350.7 L853.8,341.8 L865.6,326.1 L885.3,319.2 L910.9,323.1 L946.3,328.0 L960.1,337.9 L1031.0,365.5 L1055.0,379.2" fill="none" stroke="#fff" stroke-width="2.0" stroke-linejoin="round" stroke-linecap="round" stroke-opacity="0.95"/>
<path d="M1050.0,373.3 L1065.8,384.2 L1083.5,361.5 L1097.3,351.7 L1107.1,335.9 L1148.5,322.1 L1160.3,328.0 L1187.8,330.0 L1185.9,344.8 L1195.7,345.8 L1207.5,335.9 L1203.6,331.0 L1280.4,357.6 L1300.1,361.5 L1327.6,373.3" fill="none" stroke="#fff" stroke-width="2.0" stroke-linejoin="round" stroke-linecap="round" stroke-opacity="0.95"/>
</g>
</g>
<line x1="109.7" y1="1" x2="109.7" y2="180.5" stroke="#111" stroke-width="3.4" stroke-dasharray="8,9"/>
<line x1="263.3" y1="1" x2="263.3" y2="180.5" stroke="#111" stroke-width="3.4" stroke-dasharray="8,9"/>
<line x1="383.9" y1="1" x2="383.9" y2="180.5" stroke="#111" stroke-width="3.4" stroke-dasharray="8,9"/>
<text transform="translate(-10.0,14.3) scale(0.920,1)" font-family='"Liberation Serif", serif' font-size="23.5" font-weight="bold" text-anchor="end" >3</text>
<text transform="translate(-10.0,48.7) scale(0.920,1)" font-family='"Liberation Serif", serif' font-size="23.5" font-weight="bold" text-anchor="end" >0</text>
<text transform="translate(-10.0,83.1) scale(0.920,1)" font-family='"Liberation Serif", serif' font-size="23.5" font-weight="bold" text-anchor="end" >-3</text>
<text transform="translate(-10.0,117.5) scale(0.920,1)" font-family='"Liberation Serif", serif' font-size="23.5" font-weight="bold" text-anchor="end" >-6</text>
<text transform="translate(-10.0,151.9) scale(0.920,1)" font-family='"Liberation Serif", serif' font-size="23.5" font-weight="bold" text-anchor="end" >-9</text>
<text transform="translate(-10.0,186.3) scale(0.920,1)" font-family='"Liberation Serif", serif' font-size="23.5" font-weight="bold" text-anchor="end" >-12</text>
<rect x="557.0" y="0.5" width="29" height="179" fill="url(#jet)" stroke="#333" stroke-width="1"/>
<text transform="translate(595.5,9.0) scale(0.950,1)" font-family='"Liberation Serif", serif' font-size="23.5" font-weight="bold" text-anchor="start" >1</text>
<text transform="translate(595.5,54.2) scale(0.950,1)" font-family='"Liberation Serif", serif' font-size="23.5" font-weight="bold" text-anchor="start" >0.5</text>
<text transform="translate(595.5,99.4) scale(0.950,1)" font-family='"Liberation Serif", serif' font-size="23.5" font-weight="bold" text-anchor="start" >0</text>
<text transform="translate(595.5,144.6) scale(0.950,1)" font-family='"Liberation Serif", serif' font-size="23.5" font-weight="bold" text-anchor="start" >-0.5</text>
<text transform="translate(595.5,189.8) scale(0.950,1)" font-family='"Liberation Serif", serif' font-size="23.5" font-weight="bold" text-anchor="start" >-1</text>
<text x="547.0" y="-12" font-family='"Liberation Serif", serif' font-size="21" font-weight="bold">m<tspan font-weight="normal">&#183;</tspan>s<tspan dy="-9" font-size="15">-2</tspan><tspan dy="9" dx="-7" font-weight="normal" font-size="25">&#215;</tspan><tspan dx="3" font-size="23" font-weight="normal">10</tspan><tspan dy="-10" dx="2" font-size="15" font-weight="bold">-4</tspan></text>
<text x="-54.6" y="-5.3" font-family='"Liberation Sans", sans-serif' font-size="43" font-weight="bold">H</text>
<text x="49.0" y="-11.2" font-family='"Liberation Serif", serif' font-size="29" font-weight="bold" textLength="100.0" lengthAdjust="spacingAndGlyphs">Coriolis</text>
</g>
<g transform="translate(777.0,503.0)">
<path d="M0,180.5 L0,0 L548.5,0 L548.5,180.5" fill="none" stroke="#444" stroke-width="3"/>
<line x1="0" y1="6.5" x2="6" y2="6.5" stroke="#444" stroke-width="2.5"/>
<line x1="542.5" y1="6.5" x2="548.5" y2="6.5" stroke="#444" stroke-width="2.5"/>
<line x1="0" y1="40.9" x2="6" y2="40.9" stroke="#444" stroke-width="2.5"/>
<line x1="542.5" y1="40.9" x2="548.5" y2="40.9" stroke="#444" stroke-width="2.5"/>
<line x1="0" y1="75.3" x2="6" y2="75.3" stroke="#444" stroke-width="2.5"/>
<line x1="542.5" y1="75.3" x2="548.5" y2="75.3" stroke="#444" stroke-width="2.5"/>
<line x1="0" y1="109.7" x2="6" y2="109.7" stroke="#444" stroke-width="2.5"/>
<line x1="542.5" y1="109.7" x2="548.5" y2="109.7" stroke="#444" stroke-width="2.5"/>
<line x1="0" y1="144.1" x2="6" y2="144.1" stroke="#444" stroke-width="2.5"/>
<line x1="542.5" y1="144.1" x2="548.5" y2="144.1" stroke="#444" stroke-width="2.5"/>
<line x1="0" y1="178.5" x2="6" y2="178.5" stroke="#444" stroke-width="2.5"/>
<line x1="542.5" y1="178.5" x2="548.5" y2="178.5" stroke="#444" stroke-width="2.5"/>
<g clip-path="url(#wave)">
<rect x="-2" y="-1" width="552.5" height="182.0" fill="#acf488"/>
<g transform="translate(-777.0,-503.0)">
<ellipse cx="830.1" cy="597.5" rx="40.0" ry="22.0" fill="#98f0bc" filter="url(#b14)"/>
<polygon points="908.9,518.7 971.9,542.3 1055.0,564.0 1055.0,581.7 981.8,565.9 952.2,554.1 908.9,538.4" fill="#90f0c4" filter="url(#b10)"/>
<ellipse cx="940.4" cy="601.4" rx="25.0" ry="40.0" fill="#bef260" filter="url(#b14)"/>
<ellipse cx="1011.3" cy="632.9" rx="28.0" ry="40.0" fill="#c0f060" filter="url(#b14)"/>
<ellipse cx="853.8" cy="534.4" rx="40.0" ry="10.0" fill="#b4f470" filter="url(#b8)"/>
<polygon points="1050.0,577.8 1148.5,558.1 1168.1,558.1 1172.1,682.1 1050.0,682.1" fill="#9cf0b4" filter="url(#b14)"/>
<ellipse cx="1089.4" cy="636.8" rx="12.0" ry="30.0" fill="#90f0cc" filter="url(#b10)"/>
<polygon points="1176.0,514.8 1246.9,538.4 1325.7,564.0 1325.7,601.4 1266.6,591.5 1199.6,560.0 1176.0,554.1" fill="#8ef0c8" filter="url(#b10)"/>
<polygon points="1180.0,597.5 1325.7,609.3 1325.7,684.1 1180.0,684.1" fill="#c6f058" filter="url(#b16)"/>
<polygon points="1060.0,557.5 1063.1,556.3 1066.1,554.6 1069.2,552.6 1072.2,550.4 1075.3,548.2 1078.3,546.1 1081.4,544.0 1084.4,541.8 1087.5,539.7 1090.5,537.5 1093.6,535.3 1096.6,533.1 1099.7,531.0 1102.7,528.9 1105.8,526.8 1108.8,524.7 1111.9,522.7 1114.9,520.7 1118.0,518.7 1121.1,516.7 1124.1,514.8 1127.2,513.0 1130.2,511.4 1133.3,509.9 1136.3,508.7 1139.4,507.8 1142.4,507.1 1145.5,506.6 1148.5,506.3 1151.6,506.2 1154.6,506.2 1157.7,506.3 1160.7,506.2 1163.8,505.9 1166.8,505.9 1169.9,506.3 1172.9,507.1 1176.0,508.3 1176.0,524.3 1172.9,533.8 1169.9,535.9 1166.8,534.9 1163.8,534.4 1160.7,534.1 1157.7,533.6 1154.6,533.0 1151.6,532.4 1148.5,531.9 1145.5,531.6 1142.4,531.6 1139.4,531.6 1136.3,531.8 1133.3,532.2 1130.2,532.9 1127.2,533.8 1124.1,534.8 1121.1,536.0 1118.0,537.2 1114.9,538.4 1111.9,539.7 1108.8,540.9 1105.8,542.2 1102.7,543.5 1099.7,544.9 1096.6,546.6 1093.6,548.3 1090.5,550.0 1087.5,551.8 1084.4,553.5 1081.4,555.2 1078.3,556.9 1075.3,558.5 1072.2,560.2 1069.2,562.0 1066.1,563.5 1063.1,564.7 1060.0,565.5" fill="#e0f040" filter="url(#b5)"/>
<polygon points="1090.0,537.8 1093.0,535.7 1096.1,533.5 1099.1,531.4 1102.1,529.3 1105.2,527.2 1108.2,525.2 1111.2,523.1 1114.3,521.1 1117.3,519.1 1120.4,517.1 1123.4,515.2 1126.4,513.4 1129.5,511.8 1132.5,510.3 1135.5,509.0 1138.6,508.0 1141.6,507.3 1144.6,506.7 1147.7,506.3 1150.7,506.2 1153.8,506.2 1156.8,506.3 1159.8,506.2 1162.9,506.0 1165.9,505.9 1168.9,506.1 1172.0,506.8 1175.0,507.9 1175.0,517.9 1172.0,526.8 1168.9,525.8 1165.9,525.3 1162.9,525.2 1159.8,525.1 1156.8,524.9 1153.8,524.6 1150.7,524.3 1147.7,523.9 1144.6,523.6 1141.6,523.6 1138.6,523.7 1135.5,524.1 1132.5,524.8 1129.5,525.7 1126.4,526.7 1123.4,527.9 1120.4,529.2 1117.3,530.7 1114.3,532.3 1111.2,534.0 1108.2,535.6 1105.2,537.2 1102.1,538.9 1099.1,540.6 1096.1,542.3 1093.0,544.1 1090.0,545.8" fill="#f0f030" filter="url(#b3)"/>
<path d="M794.7,562.0 L806.5,560.0 L816.4,549.2 L834.1,547.2 L838.0,536.4 L863.6,528.5 L893.1,527.6 L885.3,532.5 L905.0,535.4 L952.2,553.1 L971.9,546.3 L981.8,552.2 L979.8,565.9 L968.0,579.7 L966.0,617.1 L962.1,668.3 L956.2,683.1" fill="none" stroke="#fff" stroke-width="2.0" stroke-linejoin="round" stroke-linecap="round" stroke-opacity="0.95"/>
<path d="M906.9,516.7 L908.9,538.4 L903.0,544.3 L905.0,577.8 L910.9,583.7 L906.9,617.1 L910.9,656.5 L916.8,683.1" fill="none" stroke="#fff" stroke-width="2.0" stroke-linejoin="round" stroke-linecap="round" stroke-opacity="0.95"/>
<path d="M910.9,556.1 L924.6,549.2 L912.8,558.1 L910.9,556.1" fill="none" stroke="#fff" stroke-width="2.0" stroke-linejoin="round" stroke-linecap="round" stroke-opacity="0.95"/>
<path d="M775.0,579.7 L782.9,581.7 L782.9,597.5 L784.8,636.8 L798.6,652.6 L834.1,683.1" fill="none" stroke="#fff" stroke-width="2.0" stroke-linejoin="round" stroke-linecap="round" stroke-opacity="0.95"/>
<path d="M983.7,683.1 L981.8,601.4 L997.5,585.6 L1038.9,587.6 L1046.7,597.5 L1050.7,629.0 L1055.6,636.8" fill="none" stroke="#fff" stroke-width="2.0" stroke-linejoin="round" stroke-linecap="round" stroke-opacity="0.95"/>
<path d="M1011.3,683.1 L1019.2,680.2 L1027.0,683.1" fill="none" stroke="#fff" stroke-width="2.0" stroke-linejoin="round" stroke-linecap="round" stroke-opacity="0.95"/>
<path d="M1057.9,564.0 L1061.8,566.9 L1081.5,571.9 L1128.8,550.2 L1148.5,551.2 L1158.3,544.3 L1164.2,534.4 L1170.1,528.5 L1172.1,512.8" fill="none" stroke="#fff" stroke-width="2.0" stroke-linejoin="round" stroke-linecap="round" stroke-opacity="0.95"/>
<path d="M1164.2,552.2 L1170.1,544.3 L1172.1,554.1 L1199.6,560.0 L1266.6,593.5 L1306.0,602.4 L1327.6,601.4" fill="none" stroke="#fff" stroke-width="2.0" stroke-linejoin="round" stroke-linecap="round" stroke-opacity="0.95"/>
<path d="M1172.1,554.1 L1178.0,577.8 L1174.1,585.6 L1172.1,656.5 L1168.1,683.1" fill="none" stroke="#fff" stroke-width="2.0" stroke-linejoin="round" stroke-linecap="round" stroke-opacity="0.95"/>
<path d="M1050.0,627.0 L1075.6,683.1" fill="none" stroke="#fff" stroke-width="2.0" stroke-linejoin="round" stroke-linecap="round" stroke-opacity="0.95"/>
</g>
</g>
<line x1="109.7" y1="1" x2="109.7" y2="180.5" stroke="#111" stroke-width="3.4" stroke-dasharray="8,9"/>
<line x1="263.3" y1="1" x2="263.3" y2="180.5" stroke="#111" stroke-width="3.4" stroke-dasharray="8,9"/>
<line x1="383.9" y1="1" x2="383.9" y2="180.5" stroke="#111" stroke-width="3.4" stroke-dasharray="8,9"/>
<text transform="translate(-10.0,14.3) scale(0.920,1)" font-family='"Liberation Serif", serif' font-size="23.5" font-weight="bold" text-anchor="end" >3</text>
<text transform="translate(-10.0,48.7) scale(0.920,1)" font-family='"Liberation Serif", serif' font-size="23.5" font-weight="bold" text-anchor="end" >0</text>
<text transform="translate(-10.0,83.1) scale(0.920,1)" font-family='"Liberation Serif", serif' font-size="23.5" font-weight="bold" text-anchor="end" >-3</text>
<text transform="translate(-10.0,117.5) scale(0.920,1)" font-family='"Liberation Serif", serif' font-size="23.5" font-weight="bold" text-anchor="end" >-6</text>
<text transform="translate(-10.0,151.9) scale(0.920,1)" font-family='"Liberation Serif", serif' font-size="23.5" font-weight="bold" text-anchor="end" >-9</text>
<text transform="translate(-10.0,186.3) scale(0.920,1)" font-family='"Liberation Serif", serif' font-size="23.5" font-weight="bold" text-anchor="end" >-12</text>
<rect x="557.0" y="0.5" width="29" height="179" fill="url(#jet)" stroke="#333" stroke-width="1"/>
<text transform="translate(595.5,9.0) scale(0.950,1)" font-family='"Liberation Serif", serif' font-size="23.5" font-weight="bold" text-anchor="start" >2</text>
<text transform="translate(595.5,54.2) scale(0.950,1)" font-family='"Liberation Serif", serif' font-size="23.5" font-weight="bold" text-anchor="start" >1</text>
<text transform="translate(595.5,99.4) scale(0.950,1)" font-family='"Liberation Serif", serif' font-size="23.5" font-weight="bold" text-anchor="start" >0</text>
<text transform="translate(595.5,144.6) scale(0.950,1)" font-family='"Liberation Serif", serif' font-size="23.5" font-weight="bold" text-anchor="start" >-1</text>
<text transform="translate(595.5,189.8) scale(0.950,1)" font-family='"Liberation Serif", serif' font-size="23.5" font-weight="bold" text-anchor="start" >-2</text>
<text x="547.0" y="-12" font-family='"Liberation Serif", serif' font-size="21" font-weight="bold">m<tspan font-weight="normal">&#183;</tspan>s<tspan dy="-9" font-size="15">-2</tspan><tspan dy="9" dx="-7" font-weight="normal" font-size="25">&#215;</tspan><tspan dx="3" font-size="23" font-weight="normal">10</tspan><tspan dy="-10" dx="2" font-size="15" font-weight="bold">-4</tspan></text>
<text x="-52.6" y="-5.5" font-family='"Liberation Sans", sans-serif' font-size="43" font-weight="bold">I</text>
<text x="40.0" y="-11.2" font-family='"Liberation Serif", serif' font-size="29" font-weight="bold" textLength="130.0" lengthAdjust="spacingAndGlyphs">Curvature</text>
</g>
<g transform="translate(777.0,735.0)">
<path d="M0,180.5 L0,0 L548.5,0 L548.5,180.5" fill="none" stroke="#444" stroke-width="3"/>
<line x1="0" y1="6.5" x2="6" y2="6.5" stroke="#444" stroke-width="2.5"/>
<line x1="542.5" y1="6.5" x2="548.5" y2="6.5" stroke="#444" stroke-width="2.5"/>
<line x1="0" y1="40.9" x2="6" y2="40.9" stroke="#444" stroke-width="2.5"/>
<line x1="542.5" y1="40.9" x2="548.5" y2="40.9" stroke="#444" stroke-width="2.5"/>
<line x1="0" y1="75.3" x2="6" y2="75.3" stroke="#444" stroke-width="2.5"/>
<line x1="542.5" y1="75.3" x2="548.5" y2="75.3" stroke="#444" stroke-width="2.5"/>
<line x1="0" y1="109.7" x2="6" y2="109.7" stroke="#444" stroke-width="2.5"/>
<line x1="542.5" y1="109.7" x2="548.5" y2="109.7" stroke="#444" stroke-width="2.5"/>
<line x1="0" y1="144.1" x2="6" y2="144.1" stroke="#444" stroke-width="2.5"/>
<line x1="542.5" y1="144.1" x2="548.5" y2="144.1" stroke="#444" stroke-width="2.5"/>
<line x1="0" y1="178.5" x2="6" y2="178.5" stroke="#444" stroke-width="2.5"/>
<line x1="542.5" y1="178.5" x2="548.5" y2="178.5" stroke="#444" stroke-width="2.5"/>
<g clip-path="url(#wave)">
<rect x="-2" y="-1" width="552.5" height="182.0" fill="#b6f676"/>
<g transform="translate(-777.0,-735.0)">
<polygon points="775.0,731.0 814.4,731.0 814.4,786.1 816.4,807.8 794.7,803.9 775.0,811.7" fill="#a8f48c"/>
<polygon points="808.5,845.2 826.2,833.4 833.1,849.1 822.3,859.0" fill="#a8f48c"/>
<polygon points="888.2,731.0 979.8,731.0 979.8,784.2 981.8,805.8 975.8,821.6 964.0,821.6 960.1,809.8 952.2,792.0 932.5,794.0 889.2,780.2" fill="#a8f48c"/>
<polygon points="916.8,758.6 958.1,772.4 954.2,784.2 916.8,766.4" fill="#b6f676"/>
<polygon points="930.6,796.0 938.4,801.9 932.5,821.6 942.4,841.3 944.3,916.1 922.7,916.1 930.6,821.6" fill="#a8f48c"/>
<polygon points="983.7,916.1 1007.3,864.9 1015.2,821.6 1021.1,823.5 1023.1,837.3 1038.9,841.3 1046.7,833.4 1048.7,809.8 1040.8,731.0 1055.0,731.0 1055.0,916.1" fill="#a8f48c"/>
<polygon points="1042.8,888.5 1055.0,888.5 1055.0,916.1 1042.8,916.1" fill="#b6f676"/>
<polygon points="1050.0,731.0 1075.6,731.0 1075.6,788.1 1079.5,813.7 1113.0,845.2 1115.0,853.1 1148.5,878.7 1156.3,916.1 1050.0,916.1" fill="#a8f48c"/>
<polygon points="1050.0,888.5 1061.8,888.5 1079.5,904.3 1079.5,916.1 1050.0,916.1" fill="#b6f676"/>
<polygon points="1156.3,731.0 1176.0,731.0 1176.0,782.2 1207.5,784.2 1221.3,796.0 1213.4,916.1 1178.0,916.1 1174.1,817.6 1176.0,805.8 1160.3,796.0 1156.3,768.4" fill="#a8f48c"/>
<polygon points="1156.3,731.0 1103.2,731.0 1103.2,766.4 1146.5,750.7" fill="#a8f48c"/>
<polygon points="1215.4,731.0 1330.0,731.0 1330.0,839.3 1306.0,833.4 1276.4,823.5 1266.6,790.1 1219.3,778.3" fill="#a8f48c"/>
<polygon points="1244.9,916.1 1258.7,900.3 1272.5,910.2 1272.5,916.1" fill="#a8f48c"/>
<path d="M775.0,811.7 L794.7,803.9 L816.4,807.8 L814.4,786.1 L812.4,783.2" fill="none" stroke="#fff" stroke-width="2.0" stroke-linejoin="round" stroke-linecap="round" stroke-opacity="0.95"/>
<path d="M847.9,760.5 L857.7,758.6 L859.7,766.4 L847.9,764.5" fill="none" stroke="#fff" stroke-width="2.0" stroke-linejoin="round" stroke-linecap="round" stroke-opacity="0.95"/>
<path d="M873.5,749.7 L881.3,750.7" fill="none" stroke="#fff" stroke-width="2.0" stroke-linejoin="round" stroke-linecap="round" stroke-opacity="0.95"/>
<path d="M808.5,845.2 L826.2,833.4 L833.1,849.1 L822.3,859.0 L808.5,845.2" fill="none" stroke="#fff" stroke-width="2.0" stroke-linejoin="round" stroke-linecap="round" stroke-opacity="0.95"/>
<path d="M825.2,832.4 L828.2,832.4" fill="none" stroke="#fff" stroke-width="2.0" stroke-linejoin="round" stroke-linecap="round" stroke-opacity="0.95"/>
<path d="M821.3,859.0 L820.7,882.6" fill="none" stroke="#fff" stroke-width="2.0" stroke-linejoin="round" stroke-linecap="round" stroke-opacity="0.95"/>
<path d="M888.2,748.7 L889.2,780.2 L932.5,794.0 L952.2,792.0 L960.1,809.8 L964.0,821.6 L975.8,821.6 L981.8,805.8 L979.8,784.2 L983.7,783.2" fill="none" stroke="#fff" stroke-width="2.0" stroke-linejoin="round" stroke-linecap="round" stroke-opacity="0.95"/>
<path d="M916.8,758.6 L958.1,772.4 L954.2,784.2 L916.8,766.4 L916.8,758.6" fill="none" stroke="#fff" stroke-width="2.0" stroke-linejoin="round" stroke-linecap="round" stroke-opacity="0.95"/>
<path d="M954.2,784.2 L966.0,783.2" fill="none" stroke="#fff" stroke-width="2.0" stroke-linejoin="round" stroke-linecap="round" stroke-opacity="0.95"/>
<path d="M930.6,796.0 L938.4,801.9 L932.5,821.6 L942.4,841.3 L944.3,915.1" fill="none" stroke="#fff" stroke-width="2.0" stroke-linejoin="round" stroke-linecap="round" stroke-opacity="0.95"/>
<path d="M930.6,796.0 L930.6,821.6 L922.7,915.1" fill="none" stroke="#fff" stroke-width="2.0" stroke-linejoin="round" stroke-linecap="round" stroke-opacity="0.95"/>
<path d="M983.7,915.1 L1007.3,864.9 L1015.2,821.6 L1021.1,823.5 L1023.1,837.3 L1038.9,841.3 L1046.7,833.4 L1048.7,809.8 L1040.8,797.0" fill="none" stroke="#fff" stroke-width="2.0" stroke-linejoin="round" stroke-linecap="round" stroke-opacity="0.95"/>
<path d="M1042.8,915.1 L1042.8,888.5 L1055.0,888.5" fill="none" stroke="#fff" stroke-width="2.0" stroke-linejoin="round" stroke-linecap="round" stroke-opacity="0.95"/>
<path d="M1018.2,904.3 L1020.1,914.1" fill="none" stroke="#fff" stroke-width="2.0" stroke-linejoin="round" stroke-linecap="round" stroke-opacity="0.95"/>
<path d="M1075.6,788.1 L1079.5,813.7 L1113.0,845.2 L1115.0,853.1 L1148.5,878.7 L1156.3,915.1" fill="none" stroke="#fff" stroke-width="2.0" stroke-linejoin="round" stroke-linecap="round" stroke-opacity="0.95"/>
<path d="M1103.2,766.4 L1120.9,756.6 L1146.5,750.7 L1156.3,768.4 L1160.3,796.0 L1176.0,805.8 L1174.1,817.6 L1178.0,915.1" fill="none" stroke="#fff" stroke-width="2.0" stroke-linejoin="round" stroke-linecap="round" stroke-opacity="0.95"/>
<path d="M1176.0,746.8 L1180.0,766.4 L1176.0,782.2 L1207.5,784.2 L1221.3,796.0 L1213.4,915.1" fill="none" stroke="#fff" stroke-width="2.0" stroke-linejoin="round" stroke-linecap="round" stroke-opacity="0.95"/>
<path d="M1215.4,764.5 L1219.3,778.3 L1266.6,790.1 L1276.4,823.5 L1306.0,833.4 L1327.6,839.3" fill="none" stroke="#fff" stroke-width="2.0" stroke-linejoin="round" stroke-linecap="round" stroke-opacity="0.95"/>
<path d="M1050.0,888.5 L1061.8,888.5 L1079.5,904.3 L1079.5,915.1" fill="none" stroke="#fff" stroke-width="2.0" stroke-linejoin="round" stroke-linecap="round" stroke-opacity="0.95"/>
<path d="M1244.9,915.1 L1258.7,900.3 L1272.5,910.2 L1273.5,915.1" fill="none" stroke="#fff" stroke-width="2.0" stroke-linejoin="round" stroke-linecap="round" stroke-opacity="0.95"/>
</g>
</g>
<line x1="109.7" y1="1" x2="109.7" y2="180.5" stroke="#111" stroke-width="3.4" stroke-dasharray="8,9"/>
<line x1="263.3" y1="1" x2="263.3" y2="180.5" stroke="#111" stroke-width="3.4" stroke-dasharray="8,9"/>
<line x1="383.9" y1="1" x2="383.9" y2="180.5" stroke="#111" stroke-width="3.4" stroke-dasharray="8,9"/>
<text transform="translate(-10.0,14.3) scale(0.920,1)" font-family='"Liberation Serif", serif' font-size="23.5" font-weight="bold" text-anchor="end" >3</text>
<text transform="translate(-10.0,48.7) scale(0.920,1)" font-family='"Liberation Serif", serif' font-size="23.5" font-weight="bold" text-anchor="end" >0</text>
<text transform="translate(-10.0,83.1) scale(0.920,1)" font-family='"Liberation Serif", serif' font-size="23.5" font-weight="bold" text-anchor="end" >-3</text>
<text transform="translate(-10.0,117.5) scale(0.920,1)" font-family='"Liberation Serif", serif' font-size="23.5" font-weight="bold" text-anchor="end" >-6</text>
<text transform="translate(-10.0,151.9) scale(0.920,1)" font-family='"Liberation Serif", serif' font-size="23.5" font-weight="bold" text-anchor="end" >-9</text>
<text transform="translate(-10.0,186.3) scale(0.920,1)" font-family='"Liberation Serif", serif' font-size="23.5" font-weight="bold" text-anchor="end" >-12</text>
<rect x="557.0" y="0.5" width="29" height="179" fill="url(#jet)" stroke="#333" stroke-width="1"/>
<text transform="translate(595.5,9.0) scale(0.950,1)" font-family='"Liberation Serif", serif' font-size="23.5" font-weight="bold" text-anchor="start" >1</text>
<text transform="translate(595.5,54.2) scale(0.950,1)" font-family='"Liberation Serif", serif' font-size="23.5" font-weight="bold" text-anchor="start" >0.5</text>
<text transform="translate(595.5,99.4) scale(0.950,1)" font-family='"Liberation Serif", serif' font-size="23.5" font-weight="bold" text-anchor="start" >0</text>
<text transform="translate(595.5,144.6) scale(0.950,1)" font-family='"Liberation Serif", serif' font-size="23.5" font-weight="bold" text-anchor="start" >-0.5</text>
<text transform="translate(595.5,189.8) scale(0.950,1)" font-family='"Liberation Serif", serif' font-size="23.5" font-weight="bold" text-anchor="start" >-1</text>
<text x="547.0" y="-12" font-family='"Liberation Serif", serif' font-size="21" font-weight="bold">m<tspan font-weight="normal">&#183;</tspan>s<tspan dy="-9" font-size="15">-2</tspan><tspan dy="9" dx="-7" font-weight="normal" font-size="25">&#215;</tspan><tspan dx="3" font-size="23" font-weight="normal">10</tspan><tspan dy="-10" dx="2" font-size="15" font-weight="bold">-4</tspan></text>
<text x="-57.6" y="-2.4" font-family='"Liberation Sans", sans-serif' font-size="43" font-weight="bold">J</text>
<text x="43.0" y="-11.2" font-family='"Liberation Serif", serif' font-size="29" font-weight="bold" textLength="361.0" lengthAdjust="spacingAndGlyphs">Sediment induced baroclinic</text>
</g>
<g transform="translate(777.0,967.0)">
<path d="M0,180.5 L0,0 L548.5,0 L548.5,180.5" fill="none" stroke="#444" stroke-width="3"/>
<line x1="0" y1="6.5" x2="6" y2="6.5" stroke="#444" stroke-width="2.5"/>
<line x1="542.5" y1="6.5" x2="548.5" y2="6.5" stroke="#444" stroke-width="2.5"/>
<line x1="0" y1="40.9" x2="6" y2="40.9" stroke="#444" stroke-width="2.5"/>
<line x1="542.5" y1="40.9" x2="548.5" y2="40.9" stroke="#444" stroke-width="2.5"/>
<line x1="0" y1="75.3" x2="6" y2="75.3" stroke="#444" stroke-width="2.5"/>
<line x1="542.5" y1="75.3" x2="548.5" y2="75.3" stroke="#444" stroke-width="2.5"/>
<line x1="0" y1="109.7" x2="6" y2="109.7" stroke="#444" stroke-width="2.5"/>
<line x1="542.5" y1="109.7" x2="548.5" y2="109.7" stroke="#444" stroke-width="2.5"/>
<line x1="0" y1="144.1" x2="6" y2="144.1" stroke="#444" stroke-width="2.5"/>
<line x1="542.5" y1="144.1" x2="548.5" y2="144.1" stroke="#444" stroke-width="2.5"/>
<line x1="0" y1="178.5" x2="6" y2="178.5" stroke="#444" stroke-width="2.5"/>
<line x1="542.5" y1="178.5" x2="548.5" y2="178.5" stroke="#444" stroke-width="2.5"/>
<g clip-path="url(#wave)">
<rect x="-2" y="-1" width="552.5" height="182.0" fill="#c8f050"/>
<g transform="translate(-777.0,-967.0)">
<polygon points="775.0,1041.8 806.5,1040.8 796.7,1053.6 800.6,1077.2 810.4,1091.0 811.4,1114.6 806.5,1130.4 775.0,1132.3" fill="#9af0b8" filter="url(#b8)"/>
<polygon points="865.6,988.6 881.3,986.6 891.2,992.5 910.9,994.5 960.1,1022.1 975.8,1045.7 968.0,1081.1 960.1,1110.7 932.5,1108.7 916.8,1124.5 879.4,1124.5 863.6,1120.5 843.9,1100.8 840.0,1085.1 847.9,1075.2 836.0,1057.5 849.8,1047.7 834.1,1037.8 853.8,1004.4" fill="#a8f0a4" filter="url(#b6)"/>
<ellipse cx="820.3" cy="1079.2" rx="7.0" ry="6.0" fill="#f0f030" filter="url(#b4)"/>
<polygon points="1036.9,1029.9 1055.0,1026.0 1055.0,1134.3 1036.9,1134.3" fill="#f08020" filter="url(#b6)"/>
<ellipse cx="1052.6" cy="1041.8" rx="8.0" ry="14.0" fill="#900000" filter="url(#b5)"/>
<ellipse cx="1052.6" cy="1124.5" rx="8.0" ry="12.0" fill="#900000" filter="url(#b5)"/>
<polygon points="775.0,1132.3 863.6,1126.4 912.8,1126.4 912.8,1148.1 775.0,1148.1" fill="#80f0f0" filter="url(#b4)"/>
<polygon points="775.0,1140.2 834.1,1140.2 853.8,1148.1 775.0,1148.1" fill="#3080f0" filter="url(#b5)"/>
<polygon points="912.8,1134.3 1055.0,1132.3 1055.0,1148.1 912.8,1148.1" fill="#1030d0" filter="url(#b5)"/>
<polygon points="971.9,1138.2 1055.0,1136.3 1055.0,1148.1 971.9,1148.1" fill="#000090" filter="url(#b4)"/>
<polygon points="778.9,1134.3 794.7,1131.4 804.5,1134.3 794.7,1137.3" fill="#e0f040" filter="url(#b2)"/>
<polygon points="1050.0,1028.0 1095.3,1022.1 1095.3,1130.4 1050.0,1132.3" fill="#f08828" filter="url(#b8)"/>
<polygon points="1050.0,1116.6 1095.3,1118.6 1101.2,1130.4 1050.0,1132.3" fill="#900000" filter="url(#b5)"/>
<polygon points="1089.4,992.5 1148.5,992.5 1152.4,1130.4 1089.4,1130.4" fill="#e4f040" filter="url(#b10)"/>
<polygon points="1101.2,1018.1 1148.5,1014.2 1152.4,1104.8 1105.1,1104.8" fill="#b0f080" filter="url(#b16)"/>
<polygon points="1152.4,1016.2 1170.1,1004.4 1189.8,1022.1 1191.8,1108.7 1181.9,1132.3 1160.3,1132.3 1154.4,1104.8" fill="#a0f0b8" filter="url(#b4)"/>
<polygon points="1162.2,1022.1 1183.9,1022.1 1183.9,1132.3 1160.3,1132.3" fill="#80f0e8" filter="url(#b10)"/>
<polygon points="1191.8,1022.1 1325.7,1045.7 1325.7,1132.3 1191.8,1132.3" fill="#d4f048" filter="url(#b8)"/>
<ellipse cx="1237.1" cy="1065.4" rx="45.0" ry="30.0" fill="#b0f080" filter="url(#b16)"/>
<polygon points="1246.9,1116.6 1306.0,1116.6 1306.0,1130.4 1246.9,1130.4" fill="#f0c030" filter="url(#b10)"/>
<polygon points="1311.9,1045.7 1330.0,1045.7 1330.0,1134.3 1311.9,1134.3" fill="#f08020" filter="url(#b8)"/>
<ellipse cx="1321.7" cy="1128.4" rx="10.0" ry="8.0" fill="#a00000" filter="url(#b5)"/>
<polygon points="1050.0,1134.3 1103.2,1130.4 1156.3,1130.4 1325.7,1132.3 1330.0,1148.1 1050.0,1148.1" fill="#000090" filter="url(#b3)"/>
<polygon points="1103.2,1131.4 1156.3,1128.4 1156.3,1136.3 1105.1,1136.3" fill="#40c0f0" filter="url(#b4)"/>
<polygon points="1160.3,1126.4 1183.9,1126.4 1178.0,1148.1 1166.2,1148.1" fill="#60e0f0" filter="url(#b5)"/>
<polygon points="777.0,1026.1 779.7,1024.9 782.4,1023.7 785.1,1022.5 787.8,1021.3 790.5,1020.1 793.2,1018.8 795.9,1017.5 798.6,1016.3 801.3,1015.0 804.0,1013.7 806.7,1012.3 809.4,1011.0 812.1,1009.6 814.8,1008.2 817.5,1006.7 820.2,1005.3 822.9,1003.8 825.6,1002.2 828.3,1000.7 831.0,999.2 833.7,997.6 836.4,996.1 839.1,994.6 841.8,993.0 844.5,991.5 847.2,990.0 849.9,988.5 852.6,987.0 855.3,985.5 858.0,984.0 860.7,982.6 863.4,981.2 866.1,979.8 868.8,978.5 871.5,977.4 874.2,976.2 876.9,975.2 879.6,974.2 882.3,973.4 885.0,972.8 885.0,984.8 882.3,985.4 879.6,986.2 876.9,987.2 874.2,988.2 871.5,989.4 868.8,990.5 866.1,991.8 863.4,993.2 860.7,994.6 858.0,996.0 855.3,997.5 852.6,999.0 849.9,1000.5 847.2,1002.0 844.5,1003.5 841.8,1005.0 839.1,1006.6 836.4,1008.1 833.7,1009.6 831.0,1011.2 828.3,1012.7 825.6,1014.2 822.9,1015.8 820.2,1017.3 817.5,1018.7 814.8,1020.2 812.1,1021.6 809.4,1023.0 806.7,1024.3 804.0,1025.7 801.3,1027.0 798.6,1028.3 795.9,1029.5 793.2,1030.8 790.5,1032.1 787.8,1033.3 785.1,1034.5 782.4,1035.7 779.7,1036.9 777.0,1038.1" fill="#f0a030" filter="url(#b2)"/>
<polygon points="777.0,1026.1 779.7,1024.9 782.4,1023.7 785.1,1022.5 787.8,1021.3 790.5,1020.1 793.2,1018.8 795.9,1017.5 798.6,1016.3 801.3,1015.0 804.0,1013.7 806.7,1012.3 809.4,1011.0 812.1,1009.6 814.8,1008.2 817.5,1006.7 820.2,1005.3 822.9,1003.8 825.6,1002.2 828.3,1000.7 831.0,999.2 833.7,997.6 836.4,996.1 839.1,994.6 841.8,993.0 844.5,991.5 847.2,990.0 849.9,988.5 852.6,987.0 855.3,985.5 858.0,984.0 860.7,982.6 863.4,981.2 866.1,979.8 868.8,978.5 871.5,977.4 874.2,976.2 876.9,975.2 879.6,974.2 882.3,973.4 885.0,972.8 885.0,981.8 882.3,982.4 879.6,983.2 876.9,984.2 874.2,985.2 871.5,986.4 868.8,987.5 866.1,988.8 863.4,990.2 860.7,991.6 858.0,993.0 855.3,994.5 852.6,996.0 849.9,997.5 847.2,999.0 844.5,1000.5 841.8,1002.0 839.1,1003.6 836.4,1005.1 833.7,1006.6 831.0,1008.2 828.3,1009.7 825.6,1011.2 822.9,1012.8 820.2,1014.3 817.5,1015.7 814.8,1017.2 812.1,1018.6 809.4,1020.0 806.7,1021.3 804.0,1022.7 801.3,1024.0 798.6,1025.3 795.9,1026.5 793.2,1027.8 790.5,1029.1 787.8,1030.3 785.1,1031.5 782.4,1032.7 779.7,1033.9 777.0,1035.1" fill="#e03010" filter="url(#b1)"/>
<polygon points="880.0,974.1 883.0,973.2 886.0,972.6 889.1,972.2 892.1,972.0 895.1,972.2 898.1,972.8 901.1,973.7 904.2,974.8 907.2,976.0 910.2,977.3 913.2,978.7 916.2,980.2 919.2,981.6 922.3,983.1 925.3,984.5 928.3,985.9 931.3,987.3 934.3,988.6 937.4,989.9 940.4,991.3 943.4,992.6 946.4,994.0 949.4,995.4 952.5,996.7 955.5,998.0 958.5,999.3 961.5,1000.6 964.5,1001.9 967.5,1003.1 970.6,1004.3 973.6,1005.5 976.6,1006.6 979.6,1007.6 982.6,1008.6 985.7,1009.6 988.7,1010.6 991.7,1011.5 994.7,1012.4 997.7,1013.3 1000.8,1014.2 1003.8,1015.1 1006.8,1015.9 1009.8,1016.7 1012.8,1017.6 1015.8,1018.4 1018.9,1019.2 1021.9,1020.1 1024.9,1020.9 1027.9,1021.7 1030.9,1022.5 1034.0,1023.1 1037.0,1023.4 1040.0,1023.6 1040.0,1051.6 1037.0,1050.8 1034.0,1049.9 1030.9,1048.7 1027.9,1047.3 1024.9,1045.9 1021.9,1044.5 1018.9,1043.0 1015.8,1041.6 1012.8,1040.1 1009.8,1038.7 1006.8,1037.3 1003.8,1035.8 1000.8,1034.3 997.7,1033.3 994.7,1032.3 991.7,1031.4 988.7,1030.4 985.7,1029.4 982.6,1028.4 979.6,1027.3 976.6,1026.2 973.6,1025.0 970.6,1023.8 967.5,1022.6 964.5,1021.3 961.5,1020.0 958.5,1018.7 955.5,1017.3 952.5,1015.9 949.4,1014.5 946.4,1013.1 943.4,1011.7 940.4,1010.3 937.4,1008.9 934.3,1007.5 931.3,1006.1 928.3,1004.7 925.3,1003.2 922.3,1001.8 919.2,1000.3 916.2,998.8 913.2,997.3 910.2,995.8 907.2,994.5 904.2,993.2 901.1,992.1 898.1,991.1 895.1,990.4 892.1,990.2 889.1,990.4 886.0,990.7 883.0,991.3 880.0,992.1" fill="#f0e040" filter="url(#b2)"/>
<polygon points="880.0,974.1 883.0,973.2 886.0,972.6 889.1,972.2 892.1,972.0 895.1,972.2 898.1,972.8 901.1,973.7 904.2,974.8 907.2,976.0 910.2,977.3 913.2,978.7 916.2,980.2 919.2,981.6 922.3,983.1 925.3,984.5 928.3,985.9 931.3,987.3 934.3,988.6 937.4,989.9 940.4,991.3 943.4,992.6 946.4,994.0 949.4,995.4 952.5,996.7 955.5,998.0 958.5,999.3 961.5,1000.6 964.5,1001.9 967.5,1003.1 970.6,1004.3 973.6,1005.5 976.6,1006.6 979.6,1007.6 982.6,1008.6 985.7,1009.6 988.7,1010.6 991.7,1011.5 994.7,1012.4 997.7,1013.3 1000.8,1014.2 1003.8,1015.1 1006.8,1015.9 1009.8,1016.7 1012.8,1017.6 1015.8,1018.4 1018.9,1019.2 1021.9,1020.1 1024.9,1020.9 1027.9,1021.7 1030.9,1022.5 1034.0,1023.1 1037.0,1023.4 1040.0,1023.6 1040.0,1043.6 1037.0,1043.0 1034.0,1042.2 1030.9,1041.1 1027.9,1039.9 1024.9,1038.7 1021.9,1037.4 1018.9,1036.1 1015.8,1034.8 1012.8,1033.5 1009.8,1032.2 1006.8,1030.9 1003.8,1029.6 1000.8,1028.3 997.7,1027.3 994.7,1026.3 991.7,1025.4 988.7,1024.4 985.7,1023.4 982.6,1022.4 979.6,1021.3 976.6,1020.2 973.6,1019.0 970.6,1017.8 967.5,1016.6 964.5,1015.3 961.5,1014.0 958.5,1012.7 955.5,1011.3 952.5,1009.9 949.4,1008.5 946.4,1007.1 943.4,1005.7 940.4,1004.3 937.4,1002.9 934.3,1001.5 931.3,1000.1 928.3,998.7 925.3,997.2 922.3,995.8 919.2,994.3 916.2,992.8 913.2,991.3 910.2,989.8 907.2,988.5 904.2,987.2 901.1,986.1 898.1,985.1 895.1,984.4 892.1,984.2 889.1,984.4 886.0,984.7 883.0,985.3 880.0,986.1" fill="#f08020" filter="url(#b1)"/>
<polygon points="880.0,974.1 883.0,973.2 886.0,972.6 889.1,972.2 892.1,972.0 895.1,972.2 898.1,972.8 901.1,973.7 904.2,974.8 907.2,976.0 910.2,977.3 913.2,978.7 916.2,980.2 919.2,981.6 922.3,983.1 925.3,984.5 928.3,985.9 931.3,987.3 934.3,988.6 937.4,989.9 940.4,991.3 943.4,992.6 946.4,994.0 949.4,995.4 952.5,996.7 955.5,998.0 958.5,999.3 961.5,1000.6 964.5,1001.9 967.5,1003.1 970.6,1004.3 973.6,1005.5 976.6,1006.6 979.6,1007.6 982.6,1008.6 985.7,1009.6 988.7,1010.6 991.7,1011.5 994.7,1012.4 997.7,1013.3 1000.8,1014.2 1003.8,1015.1 1006.8,1015.9 1009.8,1016.7 1012.8,1017.6 1015.8,1018.4 1018.9,1019.2 1021.9,1020.1 1024.9,1020.9 1027.9,1021.7 1030.9,1022.5 1034.0,1023.1 1037.0,1023.4 1040.0,1023.6 1040.0,1038.6 1037.0,1038.1 1034.0,1037.3 1030.9,1036.4 1027.9,1035.2 1024.9,1034.0 1021.9,1032.8 1018.9,1031.6 1015.8,1030.4 1012.8,1029.2 1009.8,1028.0 1006.8,1026.8 1003.8,1025.5 1000.8,1024.3 997.7,1023.3 994.7,1022.4 991.7,1021.5 988.7,1020.6 985.7,1019.6 982.6,1018.6 979.6,1017.6 976.6,1016.6 973.6,1015.5 970.6,1014.3 967.5,1013.1 964.5,1011.9 961.5,1010.6 958.5,1009.3 955.5,1008.0 952.5,1006.7 949.4,1005.4 946.4,1004.0 943.4,1002.6 940.4,1001.3 937.4,999.9 934.3,998.6 931.3,997.3 928.3,995.9 925.3,994.5 922.3,993.1 919.2,991.6 916.2,990.2 913.2,988.7 910.2,987.3 907.2,986.0 904.2,984.8 901.1,983.7 898.1,982.8 895.1,982.2 892.1,982.0 889.1,982.2 886.0,982.6 883.0,983.2 880.0,984.1" fill="#d81000" filter="url(#b1)"/>
<polygon points="885.0,972.8 888.0,972.4 891.1,972.1 894.1,972.1 897.2,972.6 900.2,973.4 903.2,974.4 906.3,975.6 909.3,977.0 912.4,978.3 915.4,979.8 918.4,981.2 921.5,982.7 924.5,984.1 927.5,985.5 930.6,986.9 933.6,988.3 936.7,989.6 939.7,991.0 942.7,992.4 945.8,993.7 948.8,995.1 951.9,996.4 954.9,997.8 957.9,999.1 961.0,1000.4 964.0,1001.7 967.1,1002.9 970.1,1004.1 973.1,1005.3 976.2,1006.4 979.2,1007.5 982.3,1008.5 985.3,1009.5 988.3,1010.5 991.4,1011.4 994.4,1012.3 997.5,1013.2 1000.5,1014.1 1003.5,1015.0 1006.6,1015.8 1009.6,1016.7 1012.6,1017.5 1015.7,1018.4 1018.7,1019.2 1021.8,1020.0 1024.8,1020.9 1027.8,1021.7 1030.9,1022.5 1033.9,1023.1 1037.0,1023.4 1040.0,1023.6 1040.0,1034.6 1037.0,1034.2 1033.9,1033.6 1030.9,1032.8 1027.8,1031.8 1024.8,1030.8 1021.8,1029.7 1018.7,1028.6 1015.7,1027.5 1012.6,1026.5 1009.6,1025.4 1006.6,1024.3 1003.5,1023.2 1000.5,1022.1 997.5,1021.2 994.4,1020.3 991.4,1019.4 988.3,1018.5 985.3,1017.5 982.3,1016.5 979.2,1015.5 976.2,1014.4 973.1,1013.3 970.1,1012.1 967.1,1010.9 964.0,1009.7 961.0,1008.4 957.9,1007.1 954.9,1005.8 951.9,1004.4 948.8,1003.1 945.8,1001.7 942.7,1000.4 939.7,999.0 936.7,997.6 933.6,996.3 930.6,994.9 927.5,993.5 924.5,992.1 921.5,990.7 918.4,989.2 915.4,987.8 912.4,986.3 909.3,985.0 906.3,983.6 903.2,982.4 900.2,981.4 897.2,980.6 894.1,980.1 891.1,980.1 888.0,980.4 885.0,980.8" fill="#800000" filter="url(#b1)"/>
<polygon points="1036.0,1023.3 1039.0,1023.6 1042.0,1023.7 1045.0,1023.7 1048.0,1023.6 1051.0,1023.4 1054.0,1022.9 1057.0,1022.3 1060.0,1021.5 1063.0,1020.3 1066.0,1018.7 1069.0,1016.7 1072.0,1014.5 1075.0,1012.4 1078.0,1010.3 1081.0,1008.3 1084.0,1006.1 1087.0,1004.0 1090.0,1001.8 1093.0,999.7 1096.0,997.6 1099.0,995.4 1102.0,993.4 1105.0,991.3 1108.0,989.3 1111.0,987.3 1114.0,985.3 1117.0,983.3 1120.0,981.4 1123.0,979.5 1126.0,977.7 1129.0,976.0 1132.0,974.5 1135.0,973.2 1138.0,972.2 1141.0,971.4 1144.0,970.8 1147.0,970.4 1150.0,970.2 1153.0,970.2 1156.0,970.3 1159.0,970.3 1162.0,970.1 1165.0,969.9 1168.0,970.0 1171.0,970.5 1174.0,971.5 1177.0,972.8 1180.0,974.2 1183.0,975.7 1186.0,977.3 1189.0,978.9 1192.0,980.5 1195.0,982.0 1198.0,983.6 1201.0,985.2 1204.0,986.8 1207.0,988.4 1210.0,990.0 1213.0,991.6 1216.0,993.1 1219.0,994.6 1222.0,996.1 1225.0,997.5 1228.0,998.8 1231.0,1000.2 1234.0,1001.5 1237.0,1002.8 1240.0,1004.0 1243.0,1005.2 1246.0,1006.4 1249.0,1007.5 1252.0,1008.6 1255.0,1009.6 1258.0,1010.7 1261.0,1011.7 1264.0,1012.7 1267.0,1013.8 1270.0,1014.7 1273.0,1015.7 1276.0,1016.7 1279.0,1017.6 1282.0,1018.5 1285.0,1019.4 1288.0,1020.2 1291.0,1021.0 1294.0,1021.7 1297.0,1022.4 1300.0,1022.9 1303.0,1023.3 1306.0,1023.6 1309.0,1023.8 1312.0,1023.9 1315.0,1023.9 1318.0,1023.8 1321.0,1023.7 1324.0,1023.6 1327.0,1023.6 1330.0,1023.6 1330.0,1052.6 1327.0,1052.6 1324.0,1052.6 1321.0,1052.7 1318.0,1052.8 1315.0,1052.9 1312.0,1052.9 1309.0,1052.8 1306.0,1052.6 1303.0,1052.3 1300.0,1051.9 1297.0,1051.4 1294.0,1050.7 1291.0,1050.0 1288.0,1049.2 1285.0,1048.4 1282.0,1047.5 1279.0,1046.6 1276.0,1045.7 1273.0,1044.7 1270.0,1043.7 1267.0,1042.8 1264.0,1041.7 1261.0,1040.7 1258.0,1039.7 1255.0,1038.6 1252.0,1037.6 1249.0,1036.5 1246.0,1035.4 1243.0,1034.2 1240.0,1033.0 1237.0,1031.8 1234.0,1030.5 1231.0,1028.5 1228.0,1025.3 1225.0,1022.1 1222.0,1020.0 1219.0,1018.4 1216.0,1016.8 1213.0,1015.1 1210.0,1013.4 1207.0,1011.7 1204.0,1010.0 1201.0,1008.2 1198.0,1006.5 1195.0,1004.8 1192.0,1003.2 1189.0,1001.5 1186.0,999.8 1183.0,998.1 1180.0,996.4 1177.0,994.8 1174.0,993.5 1171.0,992.5 1168.0,992.0 1165.0,991.9 1162.0,992.1 1159.0,992.3 1156.0,992.3 1153.0,992.2 1150.0,992.2 1147.0,992.4 1144.0,992.8 1141.0,993.4 1138.0,994.2 1135.0,995.3 1132.0,996.7 1129.0,998.2 1126.0,1000.0 1123.0,1001.8 1120.0,1003.7 1117.0,1005.7 1114.0,1007.8 1111.0,1009.8 1108.0,1011.9 1105.0,1014.0 1102.0,1016.1 1099.0,1018.2 1096.0,1020.4 1093.0,1022.6 1090.0,1024.8 1087.0,1027.0 1084.0,1029.2 1081.0,1031.4 1078.0,1033.5 1075.0,1035.6 1072.0,1037.8 1069.0,1040.1 1066.0,1042.1 1063.0,1043.8 1060.0,1045.0 1057.0,1045.9 1054.0,1046.6 1051.0,1047.1 1048.0,1047.4 1045.0,1047.6 1042.0,1047.6 1039.0,1047.5 1036.0,1047.3" fill="#f08828" filter="url(#b2)"/>
<polygon points="1036.0,1023.3 1039.0,1023.6 1042.0,1023.7 1045.0,1023.7 1048.0,1023.6 1051.0,1023.4 1054.0,1022.9 1057.0,1022.3 1060.0,1021.5 1063.0,1020.3 1066.0,1018.7 1069.0,1016.7 1072.0,1014.5 1075.0,1012.4 1078.0,1010.3 1081.0,1008.3 1084.0,1006.1 1087.0,1004.0 1090.0,1001.8 1093.0,999.7 1096.0,997.6 1099.0,995.4 1102.0,993.4 1105.0,991.3 1108.0,989.3 1111.0,987.3 1114.0,985.3 1117.0,983.3 1120.0,981.4 1123.0,979.5 1126.0,977.7 1129.0,976.0 1132.0,974.5 1135.0,973.2 1138.0,972.2 1141.0,971.4 1144.0,970.8 1147.0,970.4 1150.0,970.2 1153.0,970.2 1156.0,970.3 1159.0,970.3 1162.0,970.1 1165.0,969.9 1168.0,970.0 1171.0,970.5 1174.0,971.5 1177.0,972.8 1180.0,974.2 1183.0,975.7 1186.0,977.3 1189.0,978.9 1192.0,980.5 1195.0,982.0 1198.0,983.6 1201.0,985.2 1204.0,986.8 1207.0,988.4 1210.0,990.0 1213.0,991.6 1216.0,993.1 1219.0,994.6 1222.0,996.1 1225.0,997.5 1228.0,998.8 1231.0,1000.2 1234.0,1001.5 1237.0,1002.8 1240.0,1004.0 1243.0,1005.2 1246.0,1006.4 1249.0,1007.5 1252.0,1008.6 1255.0,1009.6 1258.0,1010.7 1261.0,1011.7 1264.0,1012.7 1267.0,1013.8 1270.0,1014.7 1273.0,1015.7 1276.0,1016.7 1279.0,1017.6 1282.0,1018.5 1285.0,1019.4 1288.0,1020.2 1291.0,1021.0 1294.0,1021.7 1297.0,1022.4 1300.0,1022.9 1303.0,1023.3 1306.0,1023.6 1309.0,1023.8 1312.0,1023.9 1315.0,1023.9 1318.0,1023.8 1321.0,1023.7 1324.0,1023.6 1327.0,1023.6 1330.0,1023.6 1330.0,1044.6 1327.0,1044.6 1324.0,1044.6 1321.0,1044.7 1318.0,1044.8 1315.0,1044.9 1312.0,1044.9 1309.0,1044.8 1306.0,1044.6 1303.0,1044.3 1300.0,1043.9 1297.0,1043.4 1294.0,1042.7 1291.0,1042.0 1288.0,1041.2 1285.0,1040.4 1282.0,1039.5 1279.0,1038.6 1276.0,1037.7 1273.0,1036.7 1270.0,1035.7 1267.0,1034.8 1264.0,1033.7 1261.0,1032.7 1258.0,1031.7 1255.0,1030.6 1252.0,1029.6 1249.0,1028.5 1246.0,1027.4 1243.0,1026.2 1240.0,1025.0 1237.0,1023.8 1234.0,1022.5 1231.0,1021.0 1228.0,1019.3 1225.0,1017.6 1222.0,1015.9 1219.0,1014.2 1216.0,1012.4 1213.0,1010.7 1210.0,1008.8 1207.0,1007.0 1204.0,1005.2 1201.0,1003.3 1198.0,1001.5 1195.0,999.7 1192.0,997.9 1189.0,996.1 1186.0,994.2 1183.0,992.4 1180.0,990.6 1177.0,988.9 1174.0,987.5 1171.0,986.5 1168.0,986.0 1165.0,985.9 1162.0,986.1 1159.0,986.3 1156.0,986.3 1153.0,986.2 1150.0,986.2 1147.0,986.4 1144.0,986.8 1141.0,987.4 1138.0,988.2 1135.0,989.3 1132.0,990.6 1129.0,992.1 1126.0,993.8 1123.0,995.6 1120.0,997.6 1117.0,999.5 1114.0,1001.5 1111.0,1003.6 1108.0,1005.6 1105.0,1007.7 1102.0,1009.7 1099.0,1011.8 1096.0,1014.0 1093.0,1016.1 1090.0,1018.3 1087.0,1020.5 1084.0,1022.7 1081.0,1024.8 1078.0,1026.9 1075.0,1029.0 1072.0,1031.2 1069.0,1033.4 1066.0,1035.4 1063.0,1037.0 1060.0,1038.3 1057.0,1039.1 1054.0,1039.8 1051.0,1040.2 1048.0,1040.5 1045.0,1040.6 1042.0,1040.7 1039.0,1040.6 1036.0,1040.3" fill="#d01000" filter="url(#b1)"/>
<polygon points="1036.0,1023.3 1039.0,1023.6 1042.0,1023.7 1045.0,1023.7 1048.0,1023.6 1051.0,1023.4 1054.0,1022.9 1057.0,1022.3 1060.0,1021.5 1063.0,1020.3 1066.0,1018.7 1069.0,1016.7 1072.0,1014.5 1075.0,1012.4 1078.0,1010.3 1081.0,1008.3 1084.0,1006.1 1087.0,1004.0 1090.0,1001.8 1093.0,999.7 1096.0,997.6 1099.0,995.4 1102.0,993.4 1105.0,991.3 1108.0,989.3 1111.0,987.3 1114.0,985.3 1117.0,983.3 1120.0,981.4 1123.0,979.5 1126.0,977.7 1129.0,976.0 1132.0,974.5 1135.0,973.2 1138.0,972.2 1141.0,971.4 1144.0,970.8 1147.0,970.4 1150.0,970.2 1153.0,970.2 1156.0,970.3 1159.0,970.3 1162.0,970.1 1165.0,969.9 1168.0,970.0 1171.0,970.5 1174.0,971.5 1177.0,972.8 1180.0,974.2 1183.0,975.7 1186.0,977.3 1189.0,978.9 1192.0,980.5 1195.0,982.0 1198.0,983.6 1201.0,985.2 1204.0,986.8 1207.0,988.4 1210.0,990.0 1213.0,991.6 1216.0,993.1 1219.0,994.6 1222.0,996.1 1225.0,997.5 1228.0,998.8 1231.0,1000.2 1234.0,1001.5 1237.0,1002.8 1240.0,1004.0 1243.0,1005.2 1246.0,1006.4 1249.0,1007.5 1252.0,1008.6 1255.0,1009.6 1258.0,1010.7 1261.0,1011.7 1264.0,1012.7 1267.0,1013.8 1270.0,1014.7 1273.0,1015.7 1276.0,1016.7 1279.0,1017.6 1282.0,1018.5 1285.0,1019.4 1288.0,1020.2 1291.0,1021.0 1294.0,1021.7 1297.0,1022.4 1300.0,1022.9 1303.0,1023.3 1306.0,1023.6 1309.0,1023.8 1312.0,1023.9 1315.0,1023.9 1318.0,1023.8 1321.0,1023.7 1324.0,1023.6 1327.0,1023.6 1330.0,1023.6 1330.0,1040.6 1327.0,1040.6 1324.0,1040.6 1321.0,1040.7 1318.0,1040.7 1315.0,1040.7 1312.0,1040.7 1309.0,1040.6 1306.0,1040.4 1303.0,1040.1 1300.0,1039.6 1297.0,1039.1 1294.0,1038.4 1291.0,1037.6 1288.0,1036.8 1285.0,1035.9 1282.0,1035.0 1279.0,1034.1 1276.0,1033.1 1273.0,1032.1 1270.0,1031.1 1267.0,1030.1 1264.0,1029.1 1261.0,1028.0 1258.0,1027.0 1255.0,1025.9 1252.0,1024.8 1249.0,1023.7 1246.0,1022.5 1243.0,1021.3 1240.0,1020.1 1237.0,1018.8 1234.0,1017.5 1231.0,1016.0 1228.0,1014.3 1225.0,1012.6 1222.0,1010.9 1219.0,1009.2 1216.0,1007.4 1213.0,1005.7 1210.0,1003.8 1207.0,1002.0 1204.0,1000.2 1201.0,998.3 1198.0,996.5 1195.0,994.7 1192.0,992.9 1189.0,991.1 1186.0,989.2 1183.0,987.4 1180.0,985.6 1177.0,983.9 1174.0,982.5 1171.0,981.5 1168.0,981.0 1165.0,980.9 1162.0,981.1 1159.0,981.3 1156.0,981.3 1153.0,981.2 1150.0,981.2 1147.0,981.4 1144.0,981.8 1141.0,982.4 1138.0,983.2 1135.0,984.3 1132.0,985.7 1129.0,987.2 1126.0,989.0 1123.0,990.8 1120.0,992.7 1117.0,994.7 1114.0,996.8 1111.0,998.8 1108.0,1000.9 1105.0,1003.0 1102.0,1005.1 1099.0,1007.2 1096.0,1009.4 1093.0,1011.6 1090.0,1013.8 1087.0,1016.0 1084.0,1018.2 1081.0,1020.4 1078.0,1022.5 1075.0,1024.6 1072.0,1026.8 1069.0,1029.1 1066.0,1031.1 1063.0,1032.8 1060.0,1034.0 1057.0,1034.9 1054.0,1035.6 1051.0,1036.1 1048.0,1036.4 1045.0,1036.6 1042.0,1036.6 1039.0,1036.5 1036.0,1036.3" fill="#7a0000" filter="url(#b1)"/>
<polygon points="1218.0,1017.9 1236.0,1001.9 1240.0,1004.9 1222.0,1020.9" fill="#f0d040" filter="url(#b1)"/>
<path d="M775.0,1041.8 L804.5,1039.8 L808.5,1043.7 L796.7,1053.6 L798.6,1073.3 L810.4,1091.0 L812.4,1114.6 L806.5,1130.4 L794.7,1131.4 L863.6,1124.5 L879.4,1124.5" fill="none" stroke="#fff" stroke-width="2.0" stroke-linejoin="round" stroke-linecap="round" stroke-opacity="0.95"/>
<path d="M778.9,1134.3 L794.7,1131.4 L804.5,1134.3 L794.7,1137.3 L778.9,1134.3" fill="none" stroke="#fff" stroke-width="2.0" stroke-linejoin="round" stroke-linecap="round" stroke-opacity="0.95"/>
<path d="M879.4,1124.5 L863.6,1120.5 L843.9,1100.8 L840.0,1085.1 L847.9,1075.2 L836.0,1057.5 L849.8,1047.7 L834.1,1037.8 L853.8,1004.4 L849.8,1003.4 L861.6,1000.4 L865.6,988.6 L881.3,986.6 L891.2,992.5 L910.9,994.5 L960.1,1022.1 L975.8,1045.7 L968.0,1081.1 L960.1,1110.7 L932.5,1108.7 L916.8,1124.5 L924.6,1127.4 L1038.9,1134.3 L1055.0,1134.3" fill="none" stroke="#fff" stroke-width="2.0" stroke-linejoin="round" stroke-linecap="round" stroke-opacity="0.95"/>
<path d="M1029.0,1077.2 L1040.8,1073.3 L1038.9,1100.8 L1032.9,1098.9 L1029.0,1077.2" fill="none" stroke="#fff" stroke-width="2.0" stroke-linejoin="round" stroke-linecap="round" stroke-opacity="0.95"/>
<path d="M1050.0,1134.3 L1103.2,1130.4 L1156.3,1130.4 L1160.3,1116.6 L1154.4,1104.8 L1152.4,1016.2 L1170.1,1004.4 L1189.8,1022.1 L1191.8,1108.7 L1187.8,1112.6 L1181.9,1132.3 L1191.8,1130.4 L1325.7,1136.3" fill="none" stroke="#fff" stroke-width="2.0" stroke-linejoin="round" stroke-linecap="round" stroke-opacity="0.95"/>
<path d="M1235.1,1062.4 L1238.0,1064.4 L1236.1,1066.4 L1234.1,1064.4 L1235.1,1062.4" fill="none" stroke="#fff" stroke-width="2.0" stroke-linejoin="round" stroke-linecap="round" stroke-opacity="0.95"/>
</g>
</g>
<line x1="109.7" y1="1" x2="109.7" y2="180.5" stroke="#111" stroke-width="3.4" stroke-dasharray="8,9"/>
<line x1="263.3" y1="1" x2="263.3" y2="180.5" stroke="#111" stroke-width="3.4" stroke-dasharray="8,9"/>
<line x1="383.9" y1="1" x2="383.9" y2="180.5" stroke="#111" stroke-width="3.4" stroke-dasharray="8,9"/>
<text transform="translate(-10.0,14.3) scale(0.920,1)" font-family='"Liberation Serif", serif' font-size="23.5" font-weight="bold" text-anchor="end" >3</text>
<text transform="translate(-10.0,48.7) scale(0.920,1)" font-family='"Liberation Serif", serif' font-size="23.5" font-weight="bold" text-anchor="end" >0</text>
<text transform="translate(-10.0,83.1) scale(0.920,1)" font-family='"Liberation Serif", serif' font-size="23.5" font-weight="bold" text-anchor="end" >-3</text>
<text transform="translate(-10.0,117.5) scale(0.920,1)" font-family='"Liberation Serif", serif' font-size="23.5" font-weight="bold" text-anchor="end" >-6</text>
<text transform="translate(-10.0,151.9) scale(0.920,1)" font-family='"Liberation Serif", serif' font-size="23.5" font-weight="bold" text-anchor="end" >-9</text>
<text transform="translate(-10.0,186.3) scale(0.920,1)" font-family='"Liberation Serif", serif' font-size="23.5" font-weight="bold" text-anchor="end" >-12</text>
<rect x="557.0" y="0.5" width="29" height="179" fill="url(#jet)" stroke="#333" stroke-width="1"/>
<text transform="translate(595.5,9.0) scale(0.950,1)" font-family='"Liberation Serif", serif' font-size="23.5" font-weight="bold" text-anchor="start" >4</text>
<text transform="translate(595.5,54.2) scale(0.950,1)" font-family='"Liberation Serif", serif' font-size="23.5" font-weight="bold" text-anchor="start" >2</text>
<text transform="translate(595.5,99.4) scale(0.950,1)" font-family='"Liberation Serif", serif' font-size="23.5" font-weight="bold" text-anchor="start" >0</text>
<text transform="translate(595.5,144.6) scale(0.950,1)" font-family='"Liberation Serif", serif' font-size="23.5" font-weight="bold" text-anchor="start" >-2</text>
<text transform="translate(595.5,189.8) scale(0.950,1)" font-family='"Liberation Serif", serif' font-size="23.5" font-weight="bold" text-anchor="start" >-4</text>
<text x="547.0" y="-12" font-family='"Liberation Serif", serif' font-size="21" font-weight="bold">m<tspan font-weight="normal">&#183;</tspan>s<tspan dy="-9" font-size="15">-2</tspan><tspan dy="9" dx="-7" font-weight="normal" font-size="25">&#215;</tspan><tspan dx="3" font-size="23" font-weight="normal">10</tspan><tspan dy="-10" dx="2" font-size="15" font-weight="bold">-4</tspan></text>
<text x="-54.6" y="-3.5" font-family='"Liberation Sans", sans-serif' font-size="43" font-weight="bold">K</text>
<text x="49.0" y="-11.2" font-family='"Liberation Serif", serif' font-size="29" font-weight="bold" textLength="100.0" lengthAdjust="spacingAndGlyphs">Friction</text>
</g>
<g transform="translate(777.0,1199.0)">
<path d="M0,180.5 L0,0 L548.5,0 L548.5,180.5" fill="none" stroke="#444" stroke-width="3"/>
<line x1="0" y1="6.5" x2="6" y2="6.5" stroke="#444" stroke-width="2.5"/>
<line x1="542.5" y1="6.5" x2="548.5" y2="6.5" stroke="#444" stroke-width="2.5"/>
<line x1="0" y1="40.9" x2="6" y2="40.9" stroke="#444" stroke-width="2.5"/>
<line x1="542.5" y1="40.9" x2="548.5" y2="40.9" stroke="#444" stroke-width="2.5"/>
<line x1="0" y1="75.3" x2="6" y2="75.3" stroke="#444" stroke-width="2.5"/>
<line x1="542.5" y1="75.3" x2="548.5" y2="75.3" stroke="#444" stroke-width="2.5"/>
<line x1="0" y1="109.7" x2="6" y2="109.7" stroke="#444" stroke-width="2.5"/>
<line x1="542.5" y1="109.7" x2="548.5" y2="109.7" stroke="#444" stroke-width="2.5"/>
<line x1="0" y1="144.1" x2="6" y2="144.1" stroke="#444" stroke-width="2.5"/>
<line x1="542.5" y1="144.1" x2="548.5" y2="144.1" stroke="#444" stroke-width="2.5"/>
<line x1="0" y1="178.5" x2="6" y2="178.5" stroke="#444" stroke-width="2.5"/>
<line x1="542.5" y1="178.5" x2="548.5" y2="178.5" stroke="#444" stroke-width="2.5"/>
<g clip-path="url(#wave)">
<rect x="-2" y="-1" width="552.5" height="182.0" fill="#c8f050"/>
<g transform="translate(-777.0,-1199.0)">
<polygon points="775.0,1273.8 800.6,1264.9 816.4,1273.8 801.6,1285.6 810.4,1293.5 796.7,1305.3 810.4,1321.0 805.5,1352.5 786.8,1358.4 778.9,1364.3 775.0,1364.3" fill="#98f0c0" filter="url(#b6)"/>
<polygon points="885.3,1216.7 861.6,1220.6 861.6,1232.4 841.9,1234.4 843.9,1244.2 828.2,1271.8 843.9,1279.7 834.1,1285.6 843.9,1297.4 840.0,1315.1 847.9,1336.8 863.6,1348.6 883.3,1352.5 918.7,1356.5 932.5,1339.7 954.2,1342.7 956.2,1323.0 962.1,1279.7 954.2,1250.1 910.9,1228.5 893.1,1226.5 889.2,1218.6" fill="#a0f0b4" filter="url(#b5)"/>
<polygon points="877.4,1224.5 908.9,1224.5 908.9,1356.5 877.4,1356.5" fill="#92f0c8" filter="url(#b14)"/>
<ellipse cx="818.3" cy="1311.2" rx="7.0" ry="6.0" fill="#f0f030" filter="url(#b4)"/>
<polygon points="1036.9,1261.9 1055.0,1258.0 1055.0,1366.3 1036.9,1366.3" fill="#f0a030" filter="url(#b6)"/>
<ellipse cx="1052.6" cy="1356.5" rx="8.0" ry="12.0" fill="#900000" filter="url(#b5)"/>
<polygon points="775.0,1366.3 863.6,1360.4 912.8,1358.4 912.8,1380.1 775.0,1380.1" fill="#80f0f0" filter="url(#b4)"/>
<polygon points="912.8,1366.3 1055.0,1364.3 1055.0,1380.1 912.8,1380.1" fill="#1030d0" filter="url(#b5)"/>
<polygon points="952.2,1370.2 1055.0,1368.3 1055.0,1380.1 952.2,1380.1" fill="#000090" filter="url(#b4)"/>
<polygon points="1050.0,1260.0 1089.4,1254.1 1089.4,1362.4 1050.0,1364.3" fill="#f09030" filter="url(#b8)"/>
<polygon points="1050.0,1348.6 1089.4,1350.6 1095.3,1362.4 1050.0,1364.3" fill="#900000" filter="url(#b6)"/>
<polygon points="1089.4,1224.5 1160.3,1224.5 1160.3,1362.4 1089.4,1362.4" fill="#d8f048" filter="url(#b10)"/>
<polygon points="1101.2,1238.3 1152.4,1238.3 1152.4,1336.8 1101.2,1336.8" fill="#b0f080" filter="url(#b12)"/>
<polygon points="1187.8,1254.1 1325.7,1277.7 1325.7,1364.3 1187.8,1364.3" fill="#d8f048" filter="url(#b8)"/>
<polygon points="1207.5,1344.6 1306.0,1344.6 1306.0,1362.4 1207.5,1362.4" fill="#f0c838" filter="url(#b10)"/>
<polygon points="1311.9,1277.7 1330.0,1277.7 1330.0,1366.3 1311.9,1366.3" fill="#f08020" filter="url(#b8)"/>
<ellipse cx="1321.7" cy="1360.4" rx="10.0" ry="8.0" fill="#a00000" filter="url(#b5)"/>
<polygon points="1162.2,1240.3 1185.9,1240.3 1185.9,1380.1 1160.3,1380.1" fill="#80f0e8" filter="url(#b6)"/>
<polygon points="1050.0,1366.3 1103.2,1362.4 1156.3,1362.4 1325.7,1364.3 1330.0,1380.1 1050.0,1380.1" fill="#000090" filter="url(#b3)"/>
<polygon points="1103.2,1364.3 1156.3,1361.4 1156.3,1369.3 1105.1,1369.3" fill="#2060f0" filter="url(#b4)"/>
<polygon points="1160.3,1356.5 1185.9,1356.5 1178.0,1380.1 1166.2,1380.1" fill="#60e0f0" filter="url(#b5)"/>
<polygon points="777.0,1258.1 779.7,1256.9 782.4,1255.7 785.1,1254.5 787.8,1253.3 790.5,1252.1 793.2,1250.8 795.9,1249.5 798.6,1248.3 801.3,1247.0 804.0,1245.7 806.7,1244.3 809.4,1243.0 812.1,1241.6 814.8,1240.2 817.5,1238.7 820.2,1237.3 822.9,1235.8 825.6,1234.2 828.3,1232.7 831.0,1231.2 833.7,1229.6 836.4,1228.1 839.1,1226.6 841.8,1225.0 844.5,1223.5 847.2,1222.0 849.9,1220.5 852.6,1219.0 855.3,1217.5 858.0,1216.0 860.7,1214.6 863.4,1213.2 866.1,1211.8 868.8,1210.5 871.5,1209.4 874.2,1208.2 876.9,1207.2 879.6,1206.2 882.3,1205.4 885.0,1204.8 885.0,1216.8 882.3,1217.4 879.6,1218.2 876.9,1219.2 874.2,1220.2 871.5,1221.4 868.8,1222.5 866.1,1223.8 863.4,1225.2 860.7,1226.6 858.0,1228.0 855.3,1229.5 852.6,1231.0 849.9,1232.5 847.2,1234.0 844.5,1235.5 841.8,1237.0 839.1,1238.6 836.4,1240.1 833.7,1241.6 831.0,1243.2 828.3,1244.7 825.6,1246.2 822.9,1247.8 820.2,1249.3 817.5,1250.7 814.8,1252.2 812.1,1253.6 809.4,1255.0 806.7,1256.3 804.0,1257.7 801.3,1259.0 798.6,1260.3 795.9,1261.5 793.2,1262.8 790.5,1264.1 787.8,1265.3 785.1,1266.5 782.4,1267.7 779.7,1268.9 777.0,1270.1" fill="#f0c030" filter="url(#b2)"/>
<polygon points="777.0,1258.1 779.7,1256.9 782.4,1255.7 785.1,1254.5 787.8,1253.3 790.5,1252.1 793.2,1250.8 795.9,1249.5 798.6,1248.3 801.3,1247.0 804.0,1245.7 806.7,1244.3 809.4,1243.0 812.1,1241.6 814.8,1240.2 817.5,1238.7 820.2,1237.3 822.9,1235.8 825.6,1234.2 828.3,1232.7 831.0,1231.2 833.7,1229.6 836.4,1228.1 839.1,1226.6 841.8,1225.0 844.5,1223.5 847.2,1222.0 849.9,1220.5 852.6,1219.0 855.3,1217.5 858.0,1216.0 860.7,1214.6 863.4,1213.2 866.1,1211.8 868.8,1210.5 871.5,1209.4 874.2,1208.2 876.9,1207.2 879.6,1206.2 882.3,1205.4 885.0,1204.8 885.0,1213.8 882.3,1214.4 879.6,1215.2 876.9,1216.2 874.2,1217.2 871.5,1218.4 868.8,1219.5 866.1,1220.8 863.4,1222.2 860.7,1223.6 858.0,1225.0 855.3,1226.5 852.6,1228.0 849.9,1229.5 847.2,1231.0 844.5,1232.5 841.8,1234.0 839.1,1235.6 836.4,1237.1 833.7,1238.6 831.0,1240.2 828.3,1241.7 825.6,1243.2 822.9,1244.8 820.2,1246.3 817.5,1247.7 814.8,1249.2 812.1,1250.6 809.4,1252.0 806.7,1253.3 804.0,1254.7 801.3,1256.0 798.6,1257.3 795.9,1258.5 793.2,1259.8 790.5,1261.1 787.8,1262.3 785.1,1263.5 782.4,1264.7 779.7,1265.9 777.0,1267.1" fill="#e06010" filter="url(#b1)"/>
<polygon points="880.0,1206.1 883.0,1205.2 886.0,1204.6 889.1,1204.2 892.1,1204.0 895.1,1204.2 898.1,1204.8 901.1,1205.7 904.2,1206.8 907.2,1208.0 910.2,1209.3 913.2,1210.7 916.2,1212.2 919.2,1213.6 922.3,1215.1 925.3,1216.5 928.3,1217.9 931.3,1219.3 934.3,1220.6 937.4,1221.9 940.4,1223.3 943.4,1224.6 946.4,1226.0 949.4,1227.4 952.5,1228.7 955.5,1230.0 958.5,1231.3 961.5,1232.6 964.5,1233.9 967.5,1235.1 970.6,1236.3 973.6,1237.5 976.6,1238.6 979.6,1239.6 982.6,1240.6 985.7,1241.6 988.7,1242.6 991.7,1243.5 994.7,1244.4 997.7,1245.3 1000.8,1246.2 1003.8,1247.1 1006.8,1247.9 1009.8,1248.7 1012.8,1249.6 1015.8,1250.4 1018.9,1251.2 1021.9,1252.1 1024.9,1252.9 1027.9,1253.7 1030.9,1254.5 1034.0,1255.1 1037.0,1255.4 1040.0,1255.6 1040.0,1283.6 1037.0,1282.8 1034.0,1281.9 1030.9,1280.7 1027.9,1279.3 1024.9,1277.9 1021.9,1276.5 1018.9,1275.0 1015.8,1273.6 1012.8,1272.1 1009.8,1270.7 1006.8,1269.3 1003.8,1267.8 1000.8,1266.3 997.7,1265.3 994.7,1264.3 991.7,1263.4 988.7,1262.4 985.7,1261.4 982.6,1260.4 979.6,1259.3 976.6,1258.2 973.6,1257.0 970.6,1255.8 967.5,1254.6 964.5,1253.3 961.5,1252.0 958.5,1250.7 955.5,1249.3 952.5,1247.9 949.4,1246.5 946.4,1245.1 943.4,1243.7 940.4,1242.3 937.4,1240.9 934.3,1239.5 931.3,1238.1 928.3,1236.7 925.3,1235.2 922.3,1233.8 919.2,1232.3 916.2,1230.8 913.2,1229.3 910.2,1227.8 907.2,1226.5 904.2,1225.2 901.1,1224.1 898.1,1223.1 895.1,1222.4 892.1,1222.2 889.1,1222.4 886.0,1222.7 883.0,1223.3 880.0,1224.1" fill="#f0e040" filter="url(#b2)"/>
<polygon points="880.0,1206.1 883.0,1205.2 886.0,1204.6 889.1,1204.2 892.1,1204.0 895.1,1204.2 898.1,1204.8 901.1,1205.7 904.2,1206.8 907.2,1208.0 910.2,1209.3 913.2,1210.7 916.2,1212.2 919.2,1213.6 922.3,1215.1 925.3,1216.5 928.3,1217.9 931.3,1219.3 934.3,1220.6 937.4,1221.9 940.4,1223.3 943.4,1224.6 946.4,1226.0 949.4,1227.4 952.5,1228.7 955.5,1230.0 958.5,1231.3 961.5,1232.6 964.5,1233.9 967.5,1235.1 970.6,1236.3 973.6,1237.5 976.6,1238.6 979.6,1239.6 982.6,1240.6 985.7,1241.6 988.7,1242.6 991.7,1243.5 994.7,1244.4 997.7,1245.3 1000.8,1246.2 1003.8,1247.1 1006.8,1247.9 1009.8,1248.7 1012.8,1249.6 1015.8,1250.4 1018.9,1251.2 1021.9,1252.1 1024.9,1252.9 1027.9,1253.7 1030.9,1254.5 1034.0,1255.1 1037.0,1255.4 1040.0,1255.6 1040.0,1275.6 1037.0,1275.0 1034.0,1274.2 1030.9,1273.1 1027.9,1271.9 1024.9,1270.7 1021.9,1269.4 1018.9,1268.1 1015.8,1266.8 1012.8,1265.5 1009.8,1264.2 1006.8,1262.9 1003.8,1261.6 1000.8,1260.3 997.7,1259.3 994.7,1258.3 991.7,1257.4 988.7,1256.4 985.7,1255.4 982.6,1254.4 979.6,1253.3 976.6,1252.2 973.6,1251.0 970.6,1249.8 967.5,1248.6 964.5,1247.3 961.5,1246.0 958.5,1244.7 955.5,1243.3 952.5,1241.9 949.4,1240.5 946.4,1239.1 943.4,1237.7 940.4,1236.3 937.4,1234.9 934.3,1233.5 931.3,1232.1 928.3,1230.7 925.3,1229.2 922.3,1227.8 919.2,1226.3 916.2,1224.8 913.2,1223.3 910.2,1221.8 907.2,1220.5 904.2,1219.2 901.1,1218.1 898.1,1217.1 895.1,1216.4 892.1,1216.2 889.1,1216.4 886.0,1216.7 883.0,1217.3 880.0,1218.1" fill="#f08020" filter="url(#b1)"/>
<polygon points="880.0,1206.1 883.0,1205.2 886.0,1204.6 889.1,1204.2 892.1,1204.0 895.1,1204.2 898.1,1204.8 901.1,1205.7 904.2,1206.8 907.2,1208.0 910.2,1209.3 913.2,1210.7 916.2,1212.2 919.2,1213.6 922.3,1215.1 925.3,1216.5 928.3,1217.9 931.3,1219.3 934.3,1220.6 937.4,1221.9 940.4,1223.3 943.4,1224.6 946.4,1226.0 949.4,1227.4 952.5,1228.7 955.5,1230.0 958.5,1231.3 961.5,1232.6 964.5,1233.9 967.5,1235.1 970.6,1236.3 973.6,1237.5 976.6,1238.6 979.6,1239.6 982.6,1240.6 985.7,1241.6 988.7,1242.6 991.7,1243.5 994.7,1244.4 997.7,1245.3 1000.8,1246.2 1003.8,1247.1 1006.8,1247.9 1009.8,1248.7 1012.8,1249.6 1015.8,1250.4 1018.9,1251.2 1021.9,1252.1 1024.9,1252.9 1027.9,1253.7 1030.9,1254.5 1034.0,1255.1 1037.0,1255.4 1040.0,1255.6 1040.0,1270.6 1037.0,1270.1 1034.0,1269.3 1030.9,1268.4 1027.9,1267.2 1024.9,1266.0 1021.9,1264.8 1018.9,1263.6 1015.8,1262.4 1012.8,1261.2 1009.8,1260.0 1006.8,1258.8 1003.8,1257.5 1000.8,1256.3 997.7,1255.3 994.7,1254.4 991.7,1253.5 988.7,1252.6 985.7,1251.6 982.6,1250.6 979.6,1249.6 976.6,1248.6 973.6,1247.5 970.6,1246.3 967.5,1245.1 964.5,1243.9 961.5,1242.6 958.5,1241.3 955.5,1240.0 952.5,1238.7 949.4,1237.4 946.4,1236.0 943.4,1234.6 940.4,1233.3 937.4,1231.9 934.3,1230.6 931.3,1229.3 928.3,1227.9 925.3,1226.5 922.3,1225.1 919.2,1223.6 916.2,1222.2 913.2,1220.7 910.2,1219.3 907.2,1218.0 904.2,1216.8 901.1,1215.7 898.1,1214.8 895.1,1214.2 892.1,1214.0 889.1,1214.2 886.0,1214.6 883.0,1215.2 880.0,1216.1" fill="#d81000" filter="url(#b1)"/>
<polygon points="885.0,1204.8 888.0,1204.4 891.1,1204.1 894.1,1204.1 897.2,1204.6 900.2,1205.4 903.2,1206.4 906.3,1207.6 909.3,1209.0 912.4,1210.3 915.4,1211.8 918.4,1213.2 921.5,1214.7 924.5,1216.1 927.5,1217.5 930.6,1218.9 933.6,1220.3 936.7,1221.6 939.7,1223.0 942.7,1224.4 945.8,1225.7 948.8,1227.1 951.9,1228.4 954.9,1229.8 957.9,1231.1 961.0,1232.4 964.0,1233.7 967.1,1234.9 970.1,1236.1 973.1,1237.3 976.2,1238.4 979.2,1239.5 982.3,1240.5 985.3,1241.5 988.3,1242.5 991.4,1243.4 994.4,1244.3 997.5,1245.2 1000.5,1246.1 1003.5,1247.0 1006.6,1247.8 1009.6,1248.7 1012.6,1249.5 1015.7,1250.4 1018.7,1251.2 1021.8,1252.0 1024.8,1252.9 1027.8,1253.7 1030.9,1254.5 1033.9,1255.1 1037.0,1255.4 1040.0,1255.6 1040.0,1266.6 1037.0,1266.2 1033.9,1265.6 1030.9,1264.8 1027.8,1263.8 1024.8,1262.8 1021.8,1261.7 1018.7,1260.6 1015.7,1259.5 1012.6,1258.5 1009.6,1257.4 1006.6,1256.3 1003.5,1255.2 1000.5,1254.1 997.5,1253.2 994.4,1252.3 991.4,1251.4 988.3,1250.5 985.3,1249.5 982.3,1248.5 979.2,1247.5 976.2,1246.4 973.1,1245.3 970.1,1244.1 967.1,1242.9 964.0,1241.7 961.0,1240.4 957.9,1239.1 954.9,1237.8 951.9,1236.4 948.8,1235.1 945.8,1233.7 942.7,1232.4 939.7,1231.0 936.7,1229.6 933.6,1228.3 930.6,1226.9 927.5,1225.5 924.5,1224.1 921.5,1222.7 918.4,1221.2 915.4,1219.8 912.4,1218.3 909.3,1217.0 906.3,1215.6 903.2,1214.4 900.2,1213.4 897.2,1212.6 894.1,1212.1 891.1,1212.1 888.0,1212.4 885.0,1212.8" fill="#800000" filter="url(#b1)"/>
<polygon points="1036.0,1255.3 1039.0,1255.6 1042.0,1255.7 1045.0,1255.7 1048.0,1255.6 1051.0,1255.4 1054.0,1254.9 1057.0,1254.3 1060.0,1253.5 1063.0,1252.3 1066.0,1250.7 1069.0,1248.7 1072.0,1246.5 1075.0,1244.4 1078.0,1242.3 1081.0,1240.3 1084.0,1238.1 1087.0,1236.0 1090.0,1233.8 1093.0,1231.7 1096.0,1229.6 1099.0,1227.4 1102.0,1225.4 1105.0,1223.3 1108.0,1221.3 1111.0,1219.3 1114.0,1217.3 1117.0,1215.3 1120.0,1213.4 1123.0,1211.5 1126.0,1209.7 1129.0,1208.0 1132.0,1206.5 1135.0,1205.2 1138.0,1204.2 1141.0,1203.4 1144.0,1202.8 1147.0,1202.4 1150.0,1202.2 1153.0,1202.2 1156.0,1202.3 1159.0,1202.3 1162.0,1202.1 1165.0,1201.9 1168.0,1202.0 1171.0,1202.5 1174.0,1203.5 1177.0,1204.8 1180.0,1206.2 1183.0,1207.7 1186.0,1209.3 1189.0,1210.9 1192.0,1212.5 1195.0,1214.0 1198.0,1215.6 1201.0,1217.2 1204.0,1218.8 1207.0,1220.4 1210.0,1222.0 1213.0,1223.6 1216.0,1225.1 1219.0,1226.6 1222.0,1228.1 1225.0,1229.5 1228.0,1230.8 1231.0,1232.2 1234.0,1233.5 1237.0,1234.8 1240.0,1236.0 1243.0,1237.2 1246.0,1238.4 1249.0,1239.5 1252.0,1240.6 1255.0,1241.6 1258.0,1242.7 1261.0,1243.7 1264.0,1244.7 1267.0,1245.8 1270.0,1246.7 1273.0,1247.7 1276.0,1248.7 1279.0,1249.6 1282.0,1250.5 1285.0,1251.4 1288.0,1252.2 1291.0,1253.0 1294.0,1253.7 1297.0,1254.4 1300.0,1254.9 1303.0,1255.3 1306.0,1255.6 1309.0,1255.8 1312.0,1255.9 1315.0,1255.9 1318.0,1255.8 1321.0,1255.7 1324.0,1255.6 1327.0,1255.6 1330.0,1255.6 1330.0,1291.6 1327.0,1291.6 1324.0,1291.6 1321.0,1291.7 1318.0,1291.8 1315.0,1291.9 1312.0,1291.9 1309.0,1291.8 1306.0,1291.6 1303.0,1291.3 1300.0,1290.9 1297.0,1290.4 1294.0,1289.7 1291.0,1289.0 1288.0,1288.2 1285.0,1287.4 1282.0,1286.5 1279.0,1285.6 1276.0,1284.7 1273.0,1283.7 1270.0,1282.7 1267.0,1281.8 1264.0,1280.7 1261.0,1279.7 1258.0,1278.7 1255.0,1277.6 1252.0,1276.6 1249.0,1275.5 1246.0,1274.4 1243.0,1273.2 1240.0,1272.0 1237.0,1270.8 1234.0,1269.5 1231.0,1267.2 1228.0,1262.8 1225.0,1258.5 1222.0,1256.1 1219.0,1254.6 1216.0,1253.1 1213.0,1251.6 1210.0,1250.0 1207.0,1248.4 1204.0,1246.8 1201.0,1245.2 1198.0,1243.6 1195.0,1242.0 1192.0,1240.5 1189.0,1238.9 1186.0,1237.3 1183.0,1235.7 1180.0,1234.2 1177.0,1232.8 1174.0,1231.5 1171.0,1230.5 1168.0,1230.0 1165.0,1229.9 1162.0,1230.1 1159.0,1230.3 1156.0,1230.3 1153.0,1230.2 1150.0,1230.2 1147.0,1230.4 1144.0,1230.8 1141.0,1231.4 1138.0,1232.2 1135.0,1233.2 1132.0,1234.5 1129.0,1236.0 1126.0,1237.7 1123.0,1239.5 1120.0,1241.4 1117.0,1243.3 1114.0,1245.3 1111.0,1247.3 1108.0,1249.3 1105.0,1251.3 1102.0,1253.4 1099.0,1255.4 1096.0,1257.6 1093.0,1259.7 1090.0,1261.8 1087.0,1264.0 1084.0,1266.1 1081.0,1268.3 1078.0,1270.3 1075.0,1272.4 1072.0,1274.5 1069.0,1276.7 1066.0,1278.7 1063.0,1280.3 1060.0,1281.5 1057.0,1282.3 1054.0,1282.9 1051.0,1283.4 1048.0,1283.6 1045.0,1283.7 1042.0,1283.7 1039.0,1283.6 1036.0,1283.3" fill="#f08828" filter="url(#b2)"/>
<polygon points="1036.0,1255.3 1039.0,1255.6 1042.0,1255.7 1045.0,1255.7 1048.0,1255.6 1051.0,1255.4 1054.0,1254.9 1057.0,1254.3 1060.0,1253.5 1063.0,1252.3 1066.0,1250.7 1069.0,1248.7 1072.0,1246.5 1075.0,1244.4 1078.0,1242.3 1081.0,1240.3 1084.0,1238.1 1087.0,1236.0 1090.0,1233.8 1093.0,1231.7 1096.0,1229.6 1099.0,1227.4 1102.0,1225.4 1105.0,1223.3 1108.0,1221.3 1111.0,1219.3 1114.0,1217.3 1117.0,1215.3 1120.0,1213.4 1123.0,1211.5 1126.0,1209.7 1129.0,1208.0 1132.0,1206.5 1135.0,1205.2 1138.0,1204.2 1141.0,1203.4 1144.0,1202.8 1147.0,1202.4 1150.0,1202.2 1153.0,1202.2 1156.0,1202.3 1159.0,1202.3 1162.0,1202.1 1165.0,1201.9 1168.0,1202.0 1171.0,1202.5 1174.0,1203.5 1177.0,1204.8 1180.0,1206.2 1183.0,1207.7 1186.0,1209.3 1189.0,1210.9 1192.0,1212.5 1195.0,1214.0 1198.0,1215.6 1201.0,1217.2 1204.0,1218.8 1207.0,1220.4 1210.0,1222.0 1213.0,1223.6 1216.0,1225.1 1219.0,1226.6 1222.0,1228.1 1225.0,1229.5 1228.0,1230.8 1231.0,1232.2 1234.0,1233.5 1237.0,1234.8 1240.0,1236.0 1243.0,1237.2 1246.0,1238.4 1249.0,1239.5 1252.0,1240.6 1255.0,1241.6 1258.0,1242.7 1261.0,1243.7 1264.0,1244.7 1267.0,1245.8 1270.0,1246.7 1273.0,1247.7 1276.0,1248.7 1279.0,1249.6 1282.0,1250.5 1285.0,1251.4 1288.0,1252.2 1291.0,1253.0 1294.0,1253.7 1297.0,1254.4 1300.0,1254.9 1303.0,1255.3 1306.0,1255.6 1309.0,1255.8 1312.0,1255.9 1315.0,1255.9 1318.0,1255.8 1321.0,1255.7 1324.0,1255.6 1327.0,1255.6 1330.0,1255.6 1330.0,1283.6 1327.0,1283.6 1324.0,1283.6 1321.0,1283.7 1318.0,1283.8 1315.0,1283.9 1312.0,1283.9 1309.0,1283.8 1306.0,1283.6 1303.0,1283.3 1300.0,1282.9 1297.0,1282.4 1294.0,1281.7 1291.0,1281.0 1288.0,1280.2 1285.0,1279.4 1282.0,1278.5 1279.0,1277.6 1276.0,1276.7 1273.0,1275.7 1270.0,1274.7 1267.0,1273.8 1264.0,1272.7 1261.0,1271.7 1258.0,1270.7 1255.0,1269.6 1252.0,1268.6 1249.0,1267.5 1246.0,1266.4 1243.0,1265.2 1240.0,1264.0 1237.0,1262.8 1234.0,1261.5 1231.0,1259.5 1228.0,1256.3 1225.0,1253.1 1222.0,1250.9 1219.0,1249.2 1216.0,1247.4 1213.0,1245.7 1210.0,1243.8 1207.0,1242.0 1204.0,1240.2 1201.0,1238.3 1198.0,1236.5 1195.0,1234.7 1192.0,1232.9 1189.0,1231.1 1186.0,1229.2 1183.0,1227.4 1180.0,1225.6 1177.0,1223.9 1174.0,1222.5 1171.0,1221.5 1168.0,1221.0 1165.0,1220.9 1162.0,1221.1 1159.0,1221.3 1156.0,1221.3 1153.0,1221.2 1150.0,1221.2 1147.0,1221.4 1144.0,1221.8 1141.0,1222.4 1138.0,1223.2 1135.0,1224.3 1132.0,1225.7 1129.0,1227.2 1126.0,1229.0 1123.0,1230.8 1120.0,1232.7 1117.0,1234.7 1114.0,1236.8 1111.0,1238.8 1108.0,1240.9 1105.0,1243.0 1102.0,1245.1 1099.0,1247.2 1096.0,1249.4 1093.0,1251.6 1090.0,1253.8 1087.0,1256.0 1084.0,1258.2 1081.0,1260.4 1078.0,1262.5 1075.0,1264.6 1072.0,1266.8 1069.0,1269.1 1066.0,1271.1 1063.0,1272.8 1060.0,1274.0 1057.0,1274.9 1054.0,1275.6 1051.0,1276.1 1048.0,1276.4 1045.0,1276.6 1042.0,1276.6 1039.0,1276.5 1036.0,1276.3" fill="#d01000" filter="url(#b1)"/>
<polygon points="1036.0,1255.3 1039.0,1255.6 1042.0,1255.7 1045.0,1255.7 1048.0,1255.6 1051.0,1255.4 1054.0,1254.9 1057.0,1254.3 1060.0,1253.5 1063.0,1252.3 1066.0,1250.7 1069.0,1248.7 1072.0,1246.5 1075.0,1244.4 1078.0,1242.3 1081.0,1240.3 1084.0,1238.1 1087.0,1236.0 1090.0,1233.8 1093.0,1231.7 1096.0,1229.6 1099.0,1227.4 1102.0,1225.4 1105.0,1223.3 1108.0,1221.3 1111.0,1219.3 1114.0,1217.3 1117.0,1215.3 1120.0,1213.4 1123.0,1211.5 1126.0,1209.7 1129.0,1208.0 1132.0,1206.5 1135.0,1205.2 1138.0,1204.2 1141.0,1203.4 1144.0,1202.8 1147.0,1202.4 1150.0,1202.2 1153.0,1202.2 1156.0,1202.3 1159.0,1202.3 1162.0,1202.1 1165.0,1201.9 1168.0,1202.0 1171.0,1202.5 1174.0,1203.5 1177.0,1204.8 1180.0,1206.2 1183.0,1207.7 1186.0,1209.3 1189.0,1210.9 1192.0,1212.5 1195.0,1214.0 1198.0,1215.6 1201.0,1217.2 1204.0,1218.8 1207.0,1220.4 1210.0,1222.0 1213.0,1223.6 1216.0,1225.1 1219.0,1226.6 1222.0,1228.1 1225.0,1229.5 1228.0,1230.8 1231.0,1232.2 1234.0,1233.5 1237.0,1234.8 1240.0,1236.0 1243.0,1237.2 1246.0,1238.4 1249.0,1239.5 1252.0,1240.6 1255.0,1241.6 1258.0,1242.7 1261.0,1243.7 1264.0,1244.7 1267.0,1245.8 1270.0,1246.7 1273.0,1247.7 1276.0,1248.7 1279.0,1249.6 1282.0,1250.5 1285.0,1251.4 1288.0,1252.2 1291.0,1253.0 1294.0,1253.7 1297.0,1254.4 1300.0,1254.9 1303.0,1255.3 1306.0,1255.6 1309.0,1255.8 1312.0,1255.9 1315.0,1255.9 1318.0,1255.8 1321.0,1255.7 1324.0,1255.6 1327.0,1255.6 1330.0,1255.6 1330.0,1277.6 1327.0,1277.6 1324.0,1277.6 1321.0,1277.7 1318.0,1277.7 1315.0,1277.7 1312.0,1277.7 1309.0,1277.6 1306.0,1277.4 1303.0,1277.1 1300.0,1276.6 1297.0,1276.1 1294.0,1275.4 1291.0,1274.6 1288.0,1273.8 1285.0,1272.9 1282.0,1272.0 1279.0,1271.1 1276.0,1270.1 1273.0,1269.1 1270.0,1268.1 1267.0,1267.1 1264.0,1266.1 1261.0,1265.0 1258.0,1264.0 1255.0,1262.9 1252.0,1261.8 1249.0,1260.7 1246.0,1259.5 1243.0,1258.3 1240.0,1257.1 1237.0,1255.8 1234.0,1254.5 1231.0,1252.8 1228.0,1250.3 1225.0,1247.8 1222.0,1245.9 1219.0,1244.2 1216.0,1242.4 1213.0,1240.7 1210.0,1238.8 1207.0,1237.0 1204.0,1235.2 1201.0,1233.3 1198.0,1231.5 1195.0,1229.7 1192.0,1227.9 1189.0,1226.1 1186.0,1224.2 1183.0,1222.4 1180.0,1220.6 1177.0,1218.9 1174.0,1217.5 1171.0,1216.4 1168.0,1215.8 1165.0,1215.6 1162.0,1215.7 1159.0,1215.8 1156.0,1215.7 1153.0,1215.6 1150.0,1215.5 1147.0,1215.6 1144.0,1215.9 1141.0,1216.4 1138.0,1217.2 1135.0,1218.4 1132.0,1219.7 1129.0,1221.3 1126.0,1223.1 1123.0,1225.0 1120.0,1226.9 1117.0,1229.0 1114.0,1231.0 1111.0,1233.1 1108.0,1235.2 1105.0,1237.3 1102.0,1239.5 1099.0,1241.6 1096.0,1243.8 1093.0,1246.1 1090.0,1248.3 1087.0,1250.5 1084.0,1252.7 1081.0,1255.0 1078.0,1257.1 1075.0,1259.2 1072.0,1261.5 1069.0,1263.7 1066.0,1265.8 1063.0,1267.5 1060.0,1268.8 1057.0,1269.7 1054.0,1270.4 1051.0,1270.9 1048.0,1271.3 1045.0,1271.5 1042.0,1271.5 1039.0,1271.5 1036.0,1271.3" fill="#7a0000" filter="url(#b1)"/>
<polygon points="1218.0,1251.9 1236.0,1233.9 1240.0,1236.9 1222.0,1254.9" fill="#f0d040" filter="url(#b1)"/>
<path d="M775.0,1273.8 L800.6,1264.9 L816.4,1273.8 L801.6,1285.6 L810.4,1293.5 L795.7,1305.3 L798.6,1307.2 L810.4,1321.0 L805.5,1352.5 L786.8,1358.4 L778.9,1364.3 L804.5,1369.3 L834.1,1364.3 L883.3,1356.5" fill="none" stroke="#fff" stroke-width="2.0" stroke-linejoin="round" stroke-linecap="round" stroke-opacity="0.95"/>
<path d="M885.3,1216.7 L861.6,1220.6 L861.6,1232.4 L841.9,1234.4 L843.9,1244.2 L828.2,1271.8 L843.9,1279.7 L834.1,1285.6 L843.9,1297.4 L840.0,1315.1 L847.9,1336.8 L863.6,1348.6 L883.3,1352.5" fill="none" stroke="#fff" stroke-width="2.0" stroke-linejoin="round" stroke-linecap="round" stroke-opacity="0.95"/>
<path d="M889.2,1218.6 L893.1,1226.5 L910.9,1228.5 L954.2,1250.1 L962.1,1279.7 L956.2,1323.0 L954.2,1342.7 L932.5,1339.7 L918.7,1356.5 L971.9,1362.4 L1055.0,1366.3" fill="none" stroke="#fff" stroke-width="2.0" stroke-linejoin="round" stroke-linecap="round" stroke-opacity="0.95"/>
<path d="M1050.0,1366.3 L1081.5,1367.3 L1103.2,1362.4 L1156.3,1362.4 L1160.3,1346.6 L1152.4,1332.8 L1148.5,1277.7 L1168.1,1236.4 L1185.9,1254.1 L1183.9,1332.8 L1185.9,1344.6 L1178.0,1366.3 L1191.8,1362.4 L1325.7,1368.3" fill="none" stroke="#fff" stroke-width="2.0" stroke-linejoin="round" stroke-linecap="round" stroke-opacity="0.95"/>
<path d="M1103.2,1246.2 L1113.0,1242.3 L1142.5,1267.9 L1136.6,1254.1 L1140.6,1244.2 L1168.1,1236.4" fill="none" stroke="#fff" stroke-width="2.0" stroke-linejoin="round" stroke-linecap="round" stroke-opacity="0.95"/>
<path d="M1103.2,1246.2 L1103.2,1265.9 L1144.5,1275.7 L1148.5,1277.7" fill="none" stroke="#fff" stroke-width="2.0" stroke-linejoin="round" stroke-linecap="round" stroke-opacity="0.95"/>
<path d="M1105.1,1289.5 L1116.9,1285.6 L1115.0,1295.4 L1105.1,1289.5" fill="none" stroke="#fff" stroke-width="2.0" stroke-linejoin="round" stroke-linecap="round" stroke-opacity="0.95"/>
<path d="M1105.1,1317.1 L1111.0,1315.1 L1108.1,1324.0 L1105.1,1317.1" fill="none" stroke="#fff" stroke-width="2.0" stroke-linejoin="round" stroke-linecap="round" stroke-opacity="0.95"/>
</g>
</g>
<line x1="109.7" y1="1" x2="109.7" y2="180.5" stroke="#111" stroke-width="3.4" stroke-dasharray="8,9"/>
<line x1="263.3" y1="1" x2="263.3" y2="180.5" stroke="#111" stroke-width="3.4" stroke-dasharray="8,9"/>
<line x1="383.9" y1="1" x2="383.9" y2="180.5" stroke="#111" stroke-width="3.4" stroke-dasharray="8,9"/>
<text transform="translate(-10.0,14.3) scale(0.920,1)" font-family='"Liberation Serif", serif' font-size="23.5" font-weight="bold" text-anchor="end" >3</text>
<text transform="translate(-10.0,48.7) scale(0.920,1)" font-family='"Liberation Serif", serif' font-size="23.5" font-weight="bold" text-anchor="end" >0</text>
<text transform="translate(-10.0,83.1) scale(0.920,1)" font-family='"Liberation Serif", serif' font-size="23.5" font-weight="bold" text-anchor="end" >-3</text>
<text transform="translate(-10.0,117.5) scale(0.920,1)" font-family='"Liberation Serif", serif' font-size="23.5" font-weight="bold" text-anchor="end" >-6</text>
<text transform="translate(-10.0,151.9) scale(0.920,1)" font-family='"Liberation Serif", serif' font-size="23.5" font-weight="bold" text-anchor="end" >-9</text>
<text transform="translate(-10.0,186.3) scale(0.920,1)" font-family='"Liberation Serif", serif' font-size="23.5" font-weight="bold" text-anchor="end" >-12</text>
<rect x="557.0" y="0.5" width="29" height="179" fill="url(#jet)" stroke="#333" stroke-width="1"/>
<text transform="translate(595.5,9.0) scale(0.950,1)" font-family='"Liberation Serif", serif' font-size="23.5" font-weight="bold" text-anchor="start" >4</text>
<text transform="translate(595.5,54.2) scale(0.950,1)" font-family='"Liberation Serif", serif' font-size="23.5" font-weight="bold" text-anchor="start" >2</text>
<text transform="translate(595.5,99.4) scale(0.950,1)" font-family='"Liberation Serif", serif' font-size="23.5" font-weight="bold" text-anchor="start" >0</text>
<text transform="translate(595.5,144.6) scale(0.950,1)" font-family='"Liberation Serif", serif' font-size="23.5" font-weight="bold" text-anchor="start" >-2</text>
<text transform="translate(595.5,189.8) scale(0.950,1)" font-family='"Liberation Serif", serif' font-size="23.5" font-weight="bold" text-anchor="start" >-4</text>
<text x="547.0" y="-12" font-family='"Liberation Serif", serif' font-size="21" font-weight="bold">m<tspan font-weight="normal">&#183;</tspan>s<tspan dy="-9" font-size="15">-2</tspan><tspan dy="9" dx="-7" font-weight="normal" font-size="25">&#215;</tspan><tspan dx="3" font-size="23" font-weight="normal">10</tspan><tspan dy="-10" dx="2" font-size="15" font-weight="bold">-4</tspan></text>
<text x="-52.6" y="-10.0" font-family='"Liberation Sans", sans-serif' font-size="43" font-weight="bold">L</text>
<text x="35.0" y="-11.2" font-family='"Liberation Serif", serif' font-size="29" font-weight="bold" textLength="245.0" lengthAdjust="spacingAndGlyphs">(g)+(h)+(i)+(j)+(k)</text>
</g>
<text transform="translate(21.8,178.4) rotate(-90)" font-family='"Liberation Serif", serif' font-size="25" font-weight="bold" textLength="102" lengthAdjust="spacingAndGlyphs">Depth (m)</text>
<text x="72.5" y="1408.2" font-family='"Liberation Serif", serif' font-size="24.5" font-weight="bold" text-anchor="middle" >13:00</text>
<text x="72.5" y="1435.6" font-family='"Liberation Serif", serif' font-size="24.5" font-weight="bold" text-anchor="middle" >30 Sept</text>
<text x="182.2" y="1408.2" font-family='"Liberation Serif", serif' font-size="24.5" font-weight="bold" text-anchor="middle" >18:00</text>
<text x="182.2" y="1435.6" font-family='"Liberation Serif", serif' font-size="24.5" font-weight="bold" text-anchor="middle" >30 Sept</text>
<text x="335.8" y="1408.2" font-family='"Liberation Serif", serif' font-size="24.5" font-weight="bold" text-anchor="middle" >1:00</text>
<text x="335.8" y="1435.6" font-family='"Liberation Serif", serif' font-size="24.5" font-weight="bold" text-anchor="middle" >01 Oct</text>
<text x="456.4" y="1408.2" font-family='"Liberation Serif", serif' font-size="24.5" font-weight="bold" text-anchor="middle" >6:30</text>
<text x="456.4" y="1435.6" font-family='"Liberation Serif", serif' font-size="24.5" font-weight="bold" text-anchor="middle" >01 Oct</text>
<text x="621.0" y="1408.2" font-family='"Liberation Serif", serif' font-size="24.5" font-weight="bold" text-anchor="middle" >14:00</text>
<text x="621.0" y="1435.6" font-family='"Liberation Serif", serif' font-size="24.5" font-weight="bold" text-anchor="middle" >01 Oct</text>
<text x="777.0" y="1408.2" font-family='"Liberation Serif", serif' font-size="24.5" font-weight="bold" text-anchor="middle" >13:00</text>
<text x="777.0" y="1435.6" font-family='"Liberation Serif", serif' font-size="24.5" font-weight="bold" text-anchor="middle" >30 Sept</text>
<text x="886.7" y="1408.2" font-family='"Liberation Serif", serif' font-size="24.5" font-weight="bold" text-anchor="middle" >18:00</text>
<text x="886.7" y="1435.6" font-family='"Liberation Serif", serif' font-size="24.5" font-weight="bold" text-anchor="middle" >30 Sept</text>
<text x="1040.3" y="1408.2" font-family='"Liberation Serif", serif' font-size="24.5" font-weight="bold" text-anchor="middle" >1:00</text>
<text x="1040.3" y="1435.6" font-family='"Liberation Serif", serif' font-size="24.5" font-weight="bold" text-anchor="middle" >01 Oct</text>
<text x="1161.0" y="1408.2" font-family='"Liberation Serif", serif' font-size="24.5" font-weight="bold" text-anchor="middle" >6:30</text>
<text x="1161.0" y="1435.6" font-family='"Liberation Serif", serif' font-size="24.5" font-weight="bold" text-anchor="middle" >01 Oct</text>
<text x="1325.5" y="1408.2" font-family='"Liberation Serif", serif' font-size="24.5" font-weight="bold" text-anchor="middle" >14:00</text>
<text x="1325.5" y="1435.6" font-family='"Liberation Serif", serif' font-size="24.5" font-weight="bold" text-anchor="middle" >01 Oct</text>
<rect x="419.6" y="1457.4" width="615.2" height="32.3" fill="#fff" stroke="#555" stroke-width="2"/>
<line x1="428.7" y1="1473.2" x2="521.5" y2="1473.2" stroke="#3a78c8" stroke-width="3"/>
<line x1="717" y1="1473.2" x2="810" y2="1473.2" stroke="#d01818" stroke-width="3"/>
<text x="530.0" y="1481.0" font-family='"Liberation Serif", serif' font-size="22.0" font-weight="bold" text-anchor="start" textLength="166" lengthAdjust="spacingAndGlyphs">with Typhoon</text>
<text x="819.5" y="1481.0" font-family='"Liberation Serif", serif' font-size="22.0" font-weight="bold" text-anchor="start" textLength="205" lengthAdjust="spacingAndGlyphs">without Typhoon</text>
<line x1="433.9" y1="1495.2" x2="433.9" y2="1747.2" stroke="#ddd" stroke-width="1" stroke-dasharray="1,3"/>
<line x1="504.6" y1="1495.2" x2="504.6" y2="1747.2" stroke="#ddd" stroke-width="1" stroke-dasharray="1,3"/>
<line x1="646.0" y1="1495.2" x2="646.0" y2="1747.2" stroke="#ddd" stroke-width="1" stroke-dasharray="1,3"/>
<line x1="716.7" y1="1495.2" x2="716.7" y2="1747.2" stroke="#ddd" stroke-width="1" stroke-dasharray="1,3"/>
<line x1="420.3" y1="1545.6" x2="731.3" y2="1545.6" stroke="#ddd" stroke-width="1" stroke-dasharray="1,3"/>
<line x1="420.3" y1="1596.0" x2="731.3" y2="1596.0" stroke="#ddd" stroke-width="1" stroke-dasharray="1,3"/>
<line x1="420.3" y1="1646.4" x2="731.3" y2="1646.4" stroke="#ddd" stroke-width="1" stroke-dasharray="1,3"/>
<line x1="420.3" y1="1696.8" x2="731.3" y2="1696.8" stroke="#ddd" stroke-width="1" stroke-dasharray="1,3"/>
<rect x="420.3" y="1495.2" width="311" height="252.0" fill="none" stroke="#555" stroke-width="2.5"/>
<line x1="575.3" y1="1495.2" x2="575.3" y2="1747.2" stroke="#111" stroke-width="3" stroke-dasharray="9,7"/>
<text transform="translate(433.9,1783.8) scale(1.280,1)" font-family='"Liberation Serif", serif' font-size="24.5" font-weight="bold" text-anchor="middle" >-10</text>
<text transform="translate(504.6,1783.8) scale(1.280,1)" font-family='"Liberation Serif", serif' font-size="24.5" font-weight="bold" text-anchor="middle" >-5</text>
<text transform="translate(575.3,1783.8) scale(1.280,1)" font-family='"Liberation Serif", serif' font-size="24.5" font-weight="bold" text-anchor="middle" >0</text>
<text transform="translate(646.0,1783.8) scale(1.280,1)" font-family='"Liberation Serif", serif' font-size="24.5" font-weight="bold" text-anchor="middle" >5</text>
<text transform="translate(716.7,1783.8) scale(1.280,1)" font-family='"Liberation Serif", serif' font-size="24.5" font-weight="bold" text-anchor="middle" >10</text>
<line x1="796.7" y1="1495.2" x2="796.7" y2="1747.2" stroke="#ddd" stroke-width="1" stroke-dasharray="1,3"/>
<line x1="867.4" y1="1495.2" x2="867.4" y2="1747.2" stroke="#ddd" stroke-width="1" stroke-dasharray="1,3"/>
<line x1="1008.8" y1="1495.2" x2="1008.8" y2="1747.2" stroke="#ddd" stroke-width="1" stroke-dasharray="1,3"/>
<line x1="1079.5" y1="1495.2" x2="1079.5" y2="1747.2" stroke="#ddd" stroke-width="1" stroke-dasharray="1,3"/>
<line x1="783.2" y1="1545.6" x2="1094.2" y2="1545.6" stroke="#ddd" stroke-width="1" stroke-dasharray="1,3"/>
<line x1="783.2" y1="1596.0" x2="1094.2" y2="1596.0" stroke="#ddd" stroke-width="1" stroke-dasharray="1,3"/>
<line x1="783.2" y1="1646.4" x2="1094.2" y2="1646.4" stroke="#ddd" stroke-width="1" stroke-dasharray="1,3"/>
<line x1="783.2" y1="1696.8" x2="1094.2" y2="1696.8" stroke="#ddd" stroke-width="1" stroke-dasharray="1,3"/>
<rect x="783.2" y="1495.2" width="311" height="252.0" fill="none" stroke="#555" stroke-width="2.5"/>
<line x1="938.1" y1="1495.2" x2="938.1" y2="1747.2" stroke="#111" stroke-width="3" stroke-dasharray="9,7"/>
<text transform="translate(796.7,1783.8) scale(1.280,1)" font-family='"Liberation Serif", serif' font-size="24.5" font-weight="bold" text-anchor="middle" >-10</text>
<text transform="translate(867.4,1783.8) scale(1.280,1)" font-family='"Liberation Serif", serif' font-size="24.5" font-weight="bold" text-anchor="middle" >-5</text>
<text transform="translate(938.1,1783.8) scale(1.280,1)" font-family='"Liberation Serif", serif' font-size="24.5" font-weight="bold" text-anchor="middle" >0</text>
<text transform="translate(1008.8,1783.8) scale(1.280,1)" font-family='"Liberation Serif", serif' font-size="24.5" font-weight="bold" text-anchor="middle" >5</text>
<text transform="translate(1079.5,1783.8) scale(1.280,1)" font-family='"Liberation Serif", serif' font-size="24.5" font-weight="bold" text-anchor="middle" >10</text>
<text transform="translate(407.5,1506.2) scale(1.260,1)" font-family='"Liberation Serif", serif' font-size="26.5" font-weight="bold" text-anchor="end" >0</text>
<text transform="translate(407.5,1556.6) scale(1.260,1)" font-family='"Liberation Serif", serif' font-size="26.5" font-weight="bold" text-anchor="end" >-0.2</text>
<text transform="translate(407.5,1607.0) scale(1.260,1)" font-family='"Liberation Serif", serif' font-size="26.5" font-weight="bold" text-anchor="end" >-0.4</text>
<text transform="translate(407.5,1657.4) scale(1.260,1)" font-family='"Liberation Serif", serif' font-size="26.5" font-weight="bold" text-anchor="end" >-0.6</text>
<text transform="translate(407.5,1707.8) scale(1.260,1)" font-family='"Liberation Serif", serif' font-size="26.5" font-weight="bold" text-anchor="end" >-0.8</text>
<text transform="translate(407.5,1758.2) scale(1.260,1)" font-family='"Liberation Serif", serif' font-size="26.5" font-weight="bold" text-anchor="end" >-1</text>
<polyline points="591.8,1497 589.3,1549 587.2,1683.8 599,1714.5 516,1735.4 516,1747" fill="none" stroke="#d01818" stroke-width="3.2" stroke-linejoin="round"/>
<polyline points="628.9,1496 596.4,1527.5 592.1,1556.6 592.7,1683.8 616.6,1714.5 463.4,1734.8 463.4,1747" fill="none" stroke="#3a78c8" stroke-width="3.2" stroke-linejoin="round"/>
<polyline points="924.7,1498 922.9,1594.8 921.3,1683.6 907.6,1715 1003.3,1735 1003.3,1747" fill="none" stroke="#d01818" stroke-width="3.2" stroke-linejoin="round"/>
<polyline points="945.8,1496 975.7,1507.6 942,1528.2 928.2,1557.3 924.4,1596.4 923.6,1715.8 946.6,1735 946.6,1747" fill="none" stroke="#3a78c8" stroke-width="3.2" stroke-linejoin="round"/>
<text transform="translate(344,1658) rotate(-90)" font-family='"Liberation Serif", serif' font-size="43" font-weight="bold" font-style="italic" textLength="73" lengthAdjust="spacingAndGlyphs">Sigma</text>
<text x="391.8" y="1817.6" font-family='"Liberation Serif", serif' font-size="34.0" font-weight="bold" text-anchor="start" textLength="49.4" lengthAdjust="spacingAndGlyphs">(m)</text>
<text x="451.4" y="1818.0" font-family='"Liberation Serif", serif' font-size="29.0" font-weight="bold" text-anchor="start" textLength="78.7" lengthAdjust="spacingAndGlyphs">Flood</text>
<text x="769.6" y="1817.6" font-family='"Liberation Serif", serif' font-size="34.0" font-weight="bold" text-anchor="start" textLength="38.5" lengthAdjust="spacingAndGlyphs">(n)</text>
<text x="824.6" y="1818.0" font-family='"Liberation Serif", serif' font-size="29.0" font-weight="bold" text-anchor="start" textLength="57" lengthAdjust="spacingAndGlyphs">Ebb</text>
<text transform="translate(949.2,1818) scale(1.40,1)" font-family='"Liberation Serif", serif' font-size="23" font-weight="bold">*10<tspan dy="-11" font-size="17">-4</tspan><tspan dy="11"> (m/s</tspan><tspan dy="-11" font-size="17">2</tspan><tspan dy="11">)</tspan></text>
</svg></body></html>
